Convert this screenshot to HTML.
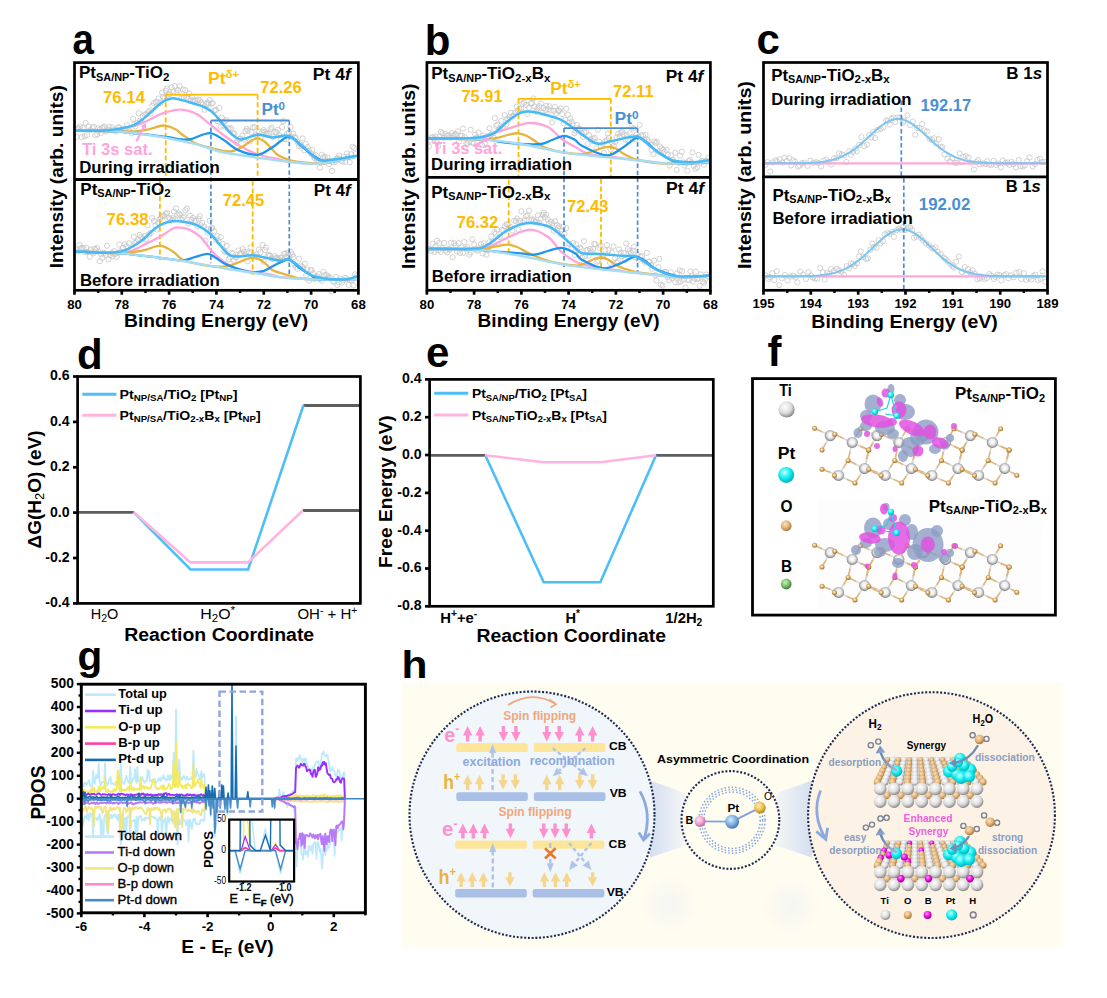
<!DOCTYPE html><html><head><meta charset="utf-8"><title>Figure</title><style>html,body{margin:0;padding:0;background:#fff;width:1107px;height:998px;overflow:hidden}svg{display:block}</style></head><body><svg width="1107" height="998" viewBox="0 0 1107 998" font-family='"Liberation Sans", sans-serif' font-weight="bold"><g fill="none" stroke="#C6C6C6" stroke-width="0.8"><circle cx="76.5" cy="136.8" r="2.6"/><circle cx="77.5" cy="128.3" r="2.6"/><circle cx="78.8" cy="128.6" r="2.6"/><circle cx="80.2" cy="126.6" r="2.6"/><circle cx="81.6" cy="137.3" r="2.6"/><circle cx="82.8" cy="127.8" r="2.6"/><circle cx="84.6" cy="136.3" r="2.6"/><circle cx="85.7" cy="122.9" r="2.6"/><circle cx="86.9" cy="135.1" r="2.6"/><circle cx="88.7" cy="126.6" r="2.6"/><circle cx="90.5" cy="130.2" r="2.6"/><circle cx="92.4" cy="127.5" r="2.6"/><circle cx="93.8" cy="126.7" r="2.6"/><circle cx="95.4" cy="135.2" r="2.6"/><circle cx="97.2" cy="134.3" r="2.6"/><circle cx="98.3" cy="128.2" r="2.6"/><circle cx="99.7" cy="129.8" r="2.6"/><circle cx="101.0" cy="132.8" r="2.6"/><circle cx="102.1" cy="128.1" r="2.6"/><circle cx="103.5" cy="127.5" r="2.6"/><circle cx="104.6" cy="126.4" r="2.6"/><circle cx="106.1" cy="131.5" r="2.6"/><circle cx="107.7" cy="129.7" r="2.6"/><circle cx="109.4" cy="126.9" r="2.6"/><circle cx="110.7" cy="130.3" r="2.6"/><circle cx="112.3" cy="127.4" r="2.6"/><circle cx="113.8" cy="130.0" r="2.6"/><circle cx="115.6" cy="131.5" r="2.6"/><circle cx="116.7" cy="130.1" r="2.6"/><circle cx="118.1" cy="127.3" r="2.6"/><circle cx="119.2" cy="127.6" r="2.6"/><circle cx="120.9" cy="130.2" r="2.6"/><circle cx="122.6" cy="128.7" r="2.6"/><circle cx="124.2" cy="130.5" r="2.6"/><circle cx="125.6" cy="128.8" r="2.6"/><circle cx="126.9" cy="125.3" r="2.6"/><circle cx="128.8" cy="130.2" r="2.6"/><circle cx="129.9" cy="131.3" r="2.6"/><circle cx="131.7" cy="133.1" r="2.6"/><circle cx="133.1" cy="118.9" r="2.6"/><circle cx="134.3" cy="124.3" r="2.6"/><circle cx="135.4" cy="126.4" r="2.6"/><circle cx="136.9" cy="123.4" r="2.6"/><circle cx="138.7" cy="113.2" r="2.6"/><circle cx="140.0" cy="120.7" r="2.6"/><circle cx="141.0" cy="121.8" r="2.6"/><circle cx="142.9" cy="116.3" r="2.6"/><circle cx="144.7" cy="114.5" r="2.6"/><circle cx="146.3" cy="114.3" r="2.6"/><circle cx="148.0" cy="112.3" r="2.6"/><circle cx="149.1" cy="111.2" r="2.6"/><circle cx="150.6" cy="113.5" r="2.6"/><circle cx="152.3" cy="105.8" r="2.6"/><circle cx="153.8" cy="103.1" r="2.6"/><circle cx="155.7" cy="102.1" r="2.6"/><circle cx="157.4" cy="101.7" r="2.6"/><circle cx="158.6" cy="98.5" r="2.6"/><circle cx="160.4" cy="103.1" r="2.6"/><circle cx="162.1" cy="92.7" r="2.6"/><circle cx="163.1" cy="96.7" r="2.6"/><circle cx="164.3" cy="98.1" r="2.6"/><circle cx="165.8" cy="90.7" r="2.6"/><circle cx="166.8" cy="88.6" r="2.6"/><circle cx="168.0" cy="94.5" r="2.6"/><circle cx="169.7" cy="94.1" r="2.6"/><circle cx="171.5" cy="87.3" r="2.6"/><circle cx="173.3" cy="92.0" r="2.6"/><circle cx="174.8" cy="86.1" r="2.6"/><circle cx="176.6" cy="92.5" r="2.6"/><circle cx="178.1" cy="90.0" r="2.6"/><circle cx="179.6" cy="86.3" r="2.6"/><circle cx="181.1" cy="98.4" r="2.6"/><circle cx="182.8" cy="89.6" r="2.6"/><circle cx="183.9" cy="97.7" r="2.6"/><circle cx="185.2" cy="90.2" r="2.6"/><circle cx="186.9" cy="97.5" r="2.6"/><circle cx="187.9" cy="98.8" r="2.6"/><circle cx="189.1" cy="93.7" r="2.6"/><circle cx="190.7" cy="99.6" r="2.6"/><circle cx="191.9" cy="97.1" r="2.6"/><circle cx="193.0" cy="100.6" r="2.6"/><circle cx="194.8" cy="100.7" r="2.6"/><circle cx="196.6" cy="100.4" r="2.6"/><circle cx="198.5" cy="99.5" r="2.6"/><circle cx="200.0" cy="100.4" r="2.6"/><circle cx="201.3" cy="102.6" r="2.6"/><circle cx="202.8" cy="104.5" r="2.6"/><circle cx="204.6" cy="109.7" r="2.6"/><circle cx="206.4" cy="104.0" r="2.6"/><circle cx="207.6" cy="102.6" r="2.6"/><circle cx="208.7" cy="103.7" r="2.6"/><circle cx="209.7" cy="100.1" r="2.6"/><circle cx="211.6" cy="103.8" r="2.6"/><circle cx="212.7" cy="103.1" r="2.6"/><circle cx="214.4" cy="110.6" r="2.6"/><circle cx="215.9" cy="109.9" r="2.6"/><circle cx="217.7" cy="121.2" r="2.6"/><circle cx="219.4" cy="108.0" r="2.6"/><circle cx="220.7" cy="126.6" r="2.6"/><circle cx="221.7" cy="117.5" r="2.6"/><circle cx="223.3" cy="125.6" r="2.6"/><circle cx="224.5" cy="121.2" r="2.6"/><circle cx="226.3" cy="120.0" r="2.6"/><circle cx="228.0" cy="128.4" r="2.6"/><circle cx="229.6" cy="128.6" r="2.6"/><circle cx="231.2" cy="128.3" r="2.6"/><circle cx="233.0" cy="133.5" r="2.6"/><circle cx="234.5" cy="133.6" r="2.6"/><circle cx="236.3" cy="142.6" r="2.6"/><circle cx="237.5" cy="140.3" r="2.6"/><circle cx="239.1" cy="139.0" r="2.6"/><circle cx="240.7" cy="138.7" r="2.6"/><circle cx="242.4" cy="135.5" r="2.6"/><circle cx="244.0" cy="139.8" r="2.6"/><circle cx="245.4" cy="131.1" r="2.6"/><circle cx="246.7" cy="128.8" r="2.6"/><circle cx="248.0" cy="130.7" r="2.6"/><circle cx="249.9" cy="141.4" r="2.6"/><circle cx="251.5" cy="132.0" r="2.6"/><circle cx="252.8" cy="127.5" r="2.6"/><circle cx="254.5" cy="127.2" r="2.6"/><circle cx="255.8" cy="134.9" r="2.6"/><circle cx="257.5" cy="136.6" r="2.6"/><circle cx="259.0" cy="131.7" r="2.6"/><circle cx="260.7" cy="137.3" r="2.6"/><circle cx="262.2" cy="132.1" r="2.6"/><circle cx="263.6" cy="130.0" r="2.6"/><circle cx="265.0" cy="131.7" r="2.6"/><circle cx="266.0" cy="133.7" r="2.6"/><circle cx="267.6" cy="134.0" r="2.6"/><circle cx="269.2" cy="133.2" r="2.6"/><circle cx="270.5" cy="129.2" r="2.6"/><circle cx="271.7" cy="127.6" r="2.6"/><circle cx="273.5" cy="137.1" r="2.6"/><circle cx="275.3" cy="131.8" r="2.6"/><circle cx="276.5" cy="132.3" r="2.6"/><circle cx="277.9" cy="129.8" r="2.6"/><circle cx="279.2" cy="135.3" r="2.6"/><circle cx="280.9" cy="139.1" r="2.6"/><circle cx="282.1" cy="127.0" r="2.6"/><circle cx="283.2" cy="121.1" r="2.6"/><circle cx="284.4" cy="139.0" r="2.6"/><circle cx="285.9" cy="139.4" r="2.6"/><circle cx="287.1" cy="134.0" r="2.6"/><circle cx="288.8" cy="132.6" r="2.6"/><circle cx="290.5" cy="127.2" r="2.6"/><circle cx="291.5" cy="136.7" r="2.6"/><circle cx="293.2" cy="133.5" r="2.6"/><circle cx="294.7" cy="137.2" r="2.6"/><circle cx="295.8" cy="138.1" r="2.6"/><circle cx="297.4" cy="141.8" r="2.6"/><circle cx="299.1" cy="146.2" r="2.6"/><circle cx="300.2" cy="144.3" r="2.6"/><circle cx="301.4" cy="146.0" r="2.6"/><circle cx="302.6" cy="138.4" r="2.6"/><circle cx="304.4" cy="150.2" r="2.6"/><circle cx="305.8" cy="143.9" r="2.6"/><circle cx="307.6" cy="147.0" r="2.6"/><circle cx="309.0" cy="150.6" r="2.6"/><circle cx="310.9" cy="153.3" r="2.6"/><circle cx="312.4" cy="149.9" r="2.6"/><circle cx="313.7" cy="155.8" r="2.6"/><circle cx="314.8" cy="158.4" r="2.6"/><circle cx="315.8" cy="154.9" r="2.6"/><circle cx="317.1" cy="160.0" r="2.6"/><circle cx="318.8" cy="162.3" r="2.6"/><circle cx="319.9" cy="167.7" r="2.6"/><circle cx="321.8" cy="154.7" r="2.6"/><circle cx="323.0" cy="157.3" r="2.6"/><circle cx="324.7" cy="157.0" r="2.6"/><circle cx="326.1" cy="160.3" r="2.6"/><circle cx="327.3" cy="157.4" r="2.6"/><circle cx="329.0" cy="164.1" r="2.6"/><circle cx="330.3" cy="160.8" r="2.6"/><circle cx="332.0" cy="171.0" r="2.6"/><circle cx="333.9" cy="162.4" r="2.6"/><circle cx="335.6" cy="161.6" r="2.6"/><circle cx="336.8" cy="158.7" r="2.6"/><circle cx="338.0" cy="158.2" r="2.6"/><circle cx="339.1" cy="155.6" r="2.6"/><circle cx="340.7" cy="160.7" r="2.6"/><circle cx="342.4" cy="161.7" r="2.6"/><circle cx="343.7" cy="156.9" r="2.6"/><circle cx="345.4" cy="161.9" r="2.6"/><circle cx="347.0" cy="153.5" r="2.6"/><circle cx="348.0" cy="156.7" r="2.6"/><circle cx="349.7" cy="162.3" r="2.6"/><circle cx="351.1" cy="154.2" r="2.6"/><circle cx="352.5" cy="146.8" r="2.6"/><circle cx="354.2" cy="148.0" r="2.6"/><circle cx="355.6" cy="154.1" r="2.6"/></g><g fill="none" stroke="#C6C6C6" stroke-width="0.8"><circle cx="76.5" cy="249.9" r="2.6"/><circle cx="78.0" cy="251.4" r="2.6"/><circle cx="79.4" cy="244.9" r="2.6"/><circle cx="80.6" cy="248.5" r="2.6"/><circle cx="82.1" cy="247.8" r="2.6"/><circle cx="83.7" cy="248.5" r="2.6"/><circle cx="85.2" cy="252.2" r="2.6"/><circle cx="86.3" cy="247.8" r="2.6"/><circle cx="88.0" cy="252.1" r="2.6"/><circle cx="89.8" cy="256.7" r="2.6"/><circle cx="90.9" cy="249.5" r="2.6"/><circle cx="92.3" cy="252.4" r="2.6"/><circle cx="93.4" cy="253.4" r="2.6"/><circle cx="94.6" cy="248.7" r="2.6"/><circle cx="95.7" cy="250.1" r="2.6"/><circle cx="97.1" cy="248.1" r="2.6"/><circle cx="98.3" cy="251.6" r="2.6"/><circle cx="99.7" cy="261.2" r="2.6"/><circle cx="101.1" cy="254.1" r="2.6"/><circle cx="102.3" cy="257.9" r="2.6"/><circle cx="103.9" cy="252.8" r="2.6"/><circle cx="105.7" cy="254.9" r="2.6"/><circle cx="107.0" cy="245.7" r="2.6"/><circle cx="108.4" cy="259.4" r="2.6"/><circle cx="110.1" cy="255.1" r="2.6"/><circle cx="111.6" cy="252.9" r="2.6"/><circle cx="112.6" cy="256.4" r="2.6"/><circle cx="114.0" cy="251.1" r="2.6"/><circle cx="115.0" cy="254.0" r="2.6"/><circle cx="116.7" cy="257.0" r="2.6"/><circle cx="117.9" cy="252.8" r="2.6"/><circle cx="119.2" cy="244.6" r="2.6"/><circle cx="120.3" cy="251.2" r="2.6"/><circle cx="121.7" cy="252.1" r="2.6"/><circle cx="123.0" cy="247.8" r="2.6"/><circle cx="124.8" cy="244.2" r="2.6"/><circle cx="126.4" cy="246.4" r="2.6"/><circle cx="127.9" cy="251.3" r="2.6"/><circle cx="129.0" cy="243.3" r="2.6"/><circle cx="130.4" cy="252.6" r="2.6"/><circle cx="131.8" cy="248.4" r="2.6"/><circle cx="133.7" cy="236.8" r="2.6"/><circle cx="134.8" cy="243.0" r="2.6"/><circle cx="136.4" cy="242.2" r="2.6"/><circle cx="138.0" cy="239.8" r="2.6"/><circle cx="139.6" cy="234.9" r="2.6"/><circle cx="141.2" cy="237.1" r="2.6"/><circle cx="143.0" cy="238.5" r="2.6"/><circle cx="144.6" cy="236.2" r="2.6"/><circle cx="145.8" cy="239.4" r="2.6"/><circle cx="147.6" cy="225.4" r="2.6"/><circle cx="148.9" cy="234.5" r="2.6"/><circle cx="150.7" cy="233.0" r="2.6"/><circle cx="152.2" cy="218.1" r="2.6"/><circle cx="154.0" cy="221.0" r="2.6"/><circle cx="155.5" cy="225.5" r="2.6"/><circle cx="156.9" cy="229.5" r="2.6"/><circle cx="158.2" cy="223.2" r="2.6"/><circle cx="159.4" cy="219.5" r="2.6"/><circle cx="160.4" cy="218.0" r="2.6"/><circle cx="161.9" cy="215.8" r="2.6"/><circle cx="163.0" cy="216.4" r="2.6"/><circle cx="164.3" cy="215.3" r="2.6"/><circle cx="165.7" cy="213.8" r="2.6"/><circle cx="167.2" cy="212.9" r="2.6"/><circle cx="169.0" cy="217.8" r="2.6"/><circle cx="170.2" cy="218.9" r="2.6"/><circle cx="171.9" cy="220.3" r="2.6"/><circle cx="172.9" cy="218.2" r="2.6"/><circle cx="174.0" cy="211.5" r="2.6"/><circle cx="175.1" cy="219.4" r="2.6"/><circle cx="176.1" cy="208.5" r="2.6"/><circle cx="177.2" cy="214.8" r="2.6"/><circle cx="178.8" cy="213.4" r="2.6"/><circle cx="180.0" cy="214.7" r="2.6"/><circle cx="181.5" cy="219.5" r="2.6"/><circle cx="182.8" cy="217.7" r="2.6"/><circle cx="184.2" cy="216.5" r="2.6"/><circle cx="185.4" cy="210.3" r="2.6"/><circle cx="186.9" cy="208.5" r="2.6"/><circle cx="188.3" cy="223.5" r="2.6"/><circle cx="190.0" cy="215.5" r="2.6"/><circle cx="191.7" cy="219.8" r="2.6"/><circle cx="193.0" cy="217.9" r="2.6"/><circle cx="194.5" cy="220.7" r="2.6"/><circle cx="195.8" cy="220.6" r="2.6"/><circle cx="197.6" cy="226.4" r="2.6"/><circle cx="198.6" cy="218.6" r="2.6"/><circle cx="199.7" cy="216.2" r="2.6"/><circle cx="200.8" cy="225.2" r="2.6"/><circle cx="202.2" cy="223.0" r="2.6"/><circle cx="204.0" cy="226.6" r="2.6"/><circle cx="205.6" cy="240.6" r="2.6"/><circle cx="206.8" cy="229.1" r="2.6"/><circle cx="207.9" cy="232.6" r="2.6"/><circle cx="209.6" cy="220.8" r="2.6"/><circle cx="211.2" cy="228.5" r="2.6"/><circle cx="212.4" cy="227.9" r="2.6"/><circle cx="214.2" cy="231.2" r="2.6"/><circle cx="215.7" cy="239.9" r="2.6"/><circle cx="217.4" cy="236.3" r="2.6"/><circle cx="219.1" cy="242.4" r="2.6"/><circle cx="220.8" cy="237.1" r="2.6"/><circle cx="222.6" cy="243.8" r="2.6"/><circle cx="224.2" cy="251.0" r="2.6"/><circle cx="225.5" cy="252.0" r="2.6"/><circle cx="226.7" cy="245.9" r="2.6"/><circle cx="228.6" cy="259.2" r="2.6"/><circle cx="230.1" cy="257.3" r="2.6"/><circle cx="231.5" cy="252.8" r="2.6"/><circle cx="232.7" cy="253.8" r="2.6"/><circle cx="233.9" cy="260.2" r="2.6"/><circle cx="235.5" cy="257.1" r="2.6"/><circle cx="236.6" cy="257.3" r="2.6"/><circle cx="238.4" cy="250.4" r="2.6"/><circle cx="239.9" cy="253.9" r="2.6"/><circle cx="241.1" cy="253.1" r="2.6"/><circle cx="242.7" cy="248.9" r="2.6"/><circle cx="243.8" cy="251.7" r="2.6"/><circle cx="245.0" cy="254.7" r="2.6"/><circle cx="246.6" cy="252.0" r="2.6"/><circle cx="247.7" cy="261.1" r="2.6"/><circle cx="249.2" cy="252.9" r="2.6"/><circle cx="250.7" cy="247.5" r="2.6"/><circle cx="252.5" cy="256.7" r="2.6"/><circle cx="254.3" cy="256.1" r="2.6"/><circle cx="256.1" cy="254.5" r="2.6"/><circle cx="257.2" cy="256.9" r="2.6"/><circle cx="258.7" cy="249.6" r="2.6"/><circle cx="260.5" cy="252.2" r="2.6"/><circle cx="262.3" cy="244.9" r="2.6"/><circle cx="263.7" cy="261.7" r="2.6"/><circle cx="264.9" cy="250.1" r="2.6"/><circle cx="266.0" cy="247.6" r="2.6"/><circle cx="267.8" cy="255.5" r="2.6"/><circle cx="268.9" cy="254.9" r="2.6"/><circle cx="270.0" cy="255.7" r="2.6"/><circle cx="271.7" cy="258.7" r="2.6"/><circle cx="272.8" cy="258.8" r="2.6"/><circle cx="274.6" cy="256.0" r="2.6"/><circle cx="275.9" cy="257.7" r="2.6"/><circle cx="277.3" cy="258.4" r="2.6"/><circle cx="278.7" cy="259.4" r="2.6"/><circle cx="280.3" cy="257.5" r="2.6"/><circle cx="281.8" cy="258.1" r="2.6"/><circle cx="283.1" cy="259.9" r="2.6"/><circle cx="284.1" cy="253.8" r="2.6"/><circle cx="285.3" cy="253.5" r="2.6"/><circle cx="286.6" cy="256.4" r="2.6"/><circle cx="287.7" cy="252.9" r="2.6"/><circle cx="289.5" cy="256.3" r="2.6"/><circle cx="290.9" cy="252.2" r="2.6"/><circle cx="292.2" cy="254.5" r="2.6"/><circle cx="293.4" cy="257.0" r="2.6"/><circle cx="294.5" cy="264.4" r="2.6"/><circle cx="295.8" cy="266.8" r="2.6"/><circle cx="297.6" cy="268.9" r="2.6"/><circle cx="299.1" cy="258.7" r="2.6"/><circle cx="300.4" cy="265.6" r="2.6"/><circle cx="302.2" cy="266.7" r="2.6"/><circle cx="303.3" cy="268.5" r="2.6"/><circle cx="304.9" cy="263.8" r="2.6"/><circle cx="306.2" cy="275.1" r="2.6"/><circle cx="307.3" cy="269.4" r="2.6"/><circle cx="309.0" cy="280.7" r="2.6"/><circle cx="310.6" cy="270.1" r="2.6"/><circle cx="311.7" cy="270.2" r="2.6"/><circle cx="312.8" cy="273.3" r="2.6"/><circle cx="314.1" cy="278.9" r="2.6"/><circle cx="315.4" cy="278.3" r="2.6"/><circle cx="316.6" cy="277.1" r="2.6"/><circle cx="317.7" cy="276.5" r="2.6"/><circle cx="318.8" cy="274.1" r="2.6"/><circle cx="320.1" cy="279.0" r="2.6"/><circle cx="321.8" cy="280.8" r="2.6"/><circle cx="323.3" cy="271.9" r="2.6"/><circle cx="324.5" cy="275.2" r="2.6"/><circle cx="326.3" cy="274.9" r="2.6"/><circle cx="327.4" cy="277.8" r="2.6"/><circle cx="328.6" cy="276.4" r="2.6"/><circle cx="330.1" cy="277.7" r="2.6"/><circle cx="331.3" cy="291.3" r="2.6"/><circle cx="332.8" cy="281.7" r="2.6"/><circle cx="334.3" cy="281.6" r="2.6"/><circle cx="336.0" cy="277.1" r="2.6"/><circle cx="337.3" cy="284.9" r="2.6"/><circle cx="338.8" cy="282.4" r="2.6"/><circle cx="340.2" cy="278.7" r="2.6"/><circle cx="341.9" cy="282.6" r="2.6"/><circle cx="343.3" cy="280.2" r="2.6"/><circle cx="345.2" cy="277.8" r="2.6"/><circle cx="346.8" cy="279.4" r="2.6"/><circle cx="348.6" cy="285.0" r="2.6"/><circle cx="349.8" cy="280.2" r="2.6"/><circle cx="351.6" cy="280.5" r="2.6"/><circle cx="353.5" cy="285.4" r="2.6"/><circle cx="355.0" cy="274.4" r="2.6"/><circle cx="356.5" cy="276.1" r="2.6"/></g><line x1="165.7" y1="94.7" x2="165.7" y2="178.5" stroke="#FFBB00" stroke-width="1.8" stroke-dasharray="5 2.6"/><line x1="257.6" y1="94.7" x2="257.6" y2="178.5" stroke="#FFBB00" stroke-width="1.8" stroke-dasharray="5 2.6"/><line x1="159.9" y1="181" x2="159.9" y2="260.3" stroke="#FFBB00" stroke-width="1.8" stroke-dasharray="5 2.6"/><line x1="252.7" y1="181" x2="252.7" y2="274.7" stroke="#FFBB00" stroke-width="1.8" stroke-dasharray="5 2.6"/><line x1="210.9" y1="120.5" x2="210.9" y2="263.2" stroke="#4A8FD6" stroke-width="1.7" stroke-dasharray="4.5 2.6"/><line x1="289.3" y1="120.5" x2="289.3" y2="274.7" stroke="#4A8FD6" stroke-width="1.7" stroke-dasharray="4.5 2.6"/><path d="M75.8,130.7 C77.1,130.7 81.1,130.7 83.8,130.7 C86.5,130.7 89.1,130.7 91.8,130.7 C94.5,130.8 96.2,131.1 100.0,131.0 C103.8,130.9 107.7,131.5 114.7,130.2 C121.7,128.9 133.9,126.0 141.8,123.2 C149.7,120.5 155.7,116.0 162.0,113.7 C168.3,111.4 174.0,109.6 179.7,109.6 C185.4,109.6 191.0,111.3 196.0,113.7 C201.0,116.1 205.0,120.4 209.5,123.9 C214.0,127.4 217.9,131.0 223.0,134.7 C228.1,138.4 234.2,142.7 240.0,146.0 C245.8,149.3 251.3,152.2 258.0,154.5 C264.7,156.8 275.0,158.3 280.0,159.5 C285.0,160.7 285.3,161.2 288.0,161.7 C290.7,162.2 293.3,162.3 296.0,162.5 C298.7,162.8 301.3,163.1 304.0,163.3 C306.7,163.5 309.3,163.7 312.0,163.8 C314.7,163.8 317.3,163.9 320.0,163.7 C322.7,163.5 325.3,163.1 328.0,162.7 C330.7,162.2 333.3,161.4 336.0,160.9 C338.7,160.3 341.3,159.8 344.0,159.2 C346.7,158.7 349.8,158.0 352.0,157.6 C354.2,157.1 356.2,156.7 357.0,156.5" fill="none" stroke="#FFA5DA" stroke-width="2.3" /><path d="M75.8,130.7 C77.1,130.7 81.1,130.7 83.8,130.7 C86.5,130.7 89.1,130.7 91.8,130.7 C94.5,130.8 92.8,130.9 100.0,131.0 C107.2,131.1 126.7,131.6 135.0,131.3 C143.3,131.0 145.3,130.0 150.0,129.0 C154.7,128.0 159.2,125.5 163.4,125.5 C167.6,125.5 171.8,127.5 175.0,129.0 C178.2,130.5 178.9,132.3 182.4,134.7 C185.9,137.1 191.5,141.3 196.0,143.5 C200.5,145.7 203.8,146.3 209.5,147.6 C215.2,148.9 224.9,151.6 230.3,151.5 C235.7,151.4 238.6,148.7 242.0,147.0 C245.4,145.3 247.9,142.6 250.5,141.2 C253.1,139.8 255.1,138.3 257.4,138.4 C259.7,138.5 262.2,139.9 264.5,141.5 C266.8,143.1 268.8,145.8 271.0,148.0 C273.2,150.2 274.4,152.9 277.8,155.0 C281.2,157.1 284.3,159.0 291.3,160.5 C298.3,162.0 313.9,163.4 320.0,163.8 C326.1,164.2 325.3,163.1 328.0,162.7 C330.7,162.2 333.3,161.4 336.0,160.9 C338.7,160.3 341.3,159.8 344.0,159.2 C346.7,158.7 349.8,158.0 352.0,157.6 C354.2,157.1 356.2,156.7 357.0,156.5" fill="none" stroke="#E6B43C" stroke-width="2.3" /><path d="M75.8,130.7 C77.1,130.7 81.1,130.7 83.8,130.7 C86.5,130.7 89.1,130.7 91.8,130.7 C94.5,130.7 97.1,130.7 99.8,130.8 C102.5,130.8 105.1,130.9 107.8,131.0 C110.5,131.1 113.1,131.2 115.8,131.4 C118.5,131.6 121.1,131.8 123.8,132.0 C126.5,132.3 129.1,132.5 131.8,132.8 C134.5,133.1 136.8,133.4 139.8,133.8 C142.8,134.1 145.0,134.2 150.0,134.8 C155.0,135.4 164.6,136.7 170.0,137.5 C175.4,138.3 178.8,139.3 182.4,139.5 C186.1,139.7 187.4,139.9 191.9,138.8 C196.4,137.7 204.3,133.0 209.5,133.1 C214.7,133.2 218.4,136.8 223.0,139.5 C227.6,142.2 231.4,147.0 237.1,149.6 C242.8,152.2 251.7,155.0 257.4,154.8 C263.0,154.6 265.8,151.3 271.0,148.3 C276.2,145.3 283.8,137.3 288.6,136.7 C293.4,136.1 296.1,141.4 300.0,144.5 C303.9,147.6 308.3,152.3 312.0,155.0 C315.7,157.7 319.0,159.3 322.0,160.5 C325.0,161.7 327.3,162.3 330.0,162.2 C332.7,162.2 335.3,161.0 338.0,160.4 C340.7,159.8 343.3,159.4 346.0,158.8 C348.7,158.3 352.2,157.5 354.0,157.1 C355.8,156.7 356.5,156.6 357.0,156.5" fill="none" stroke="#1E96F0" stroke-width="2.3" /><path d="M75.8,130.7 C82.3,130.8 101.5,130.4 114.7,131.3 C128.0,132.2 141.8,133.8 155.3,136.0 C168.9,138.2 186.9,142.1 196.0,144.2 C205.1,146.3 205.5,147.2 210.0,148.6 C214.5,149.9 215.1,150.8 223.0,152.3 C230.9,153.8 246.5,156.1 257.4,157.7 C268.3,159.3 278.4,160.8 288.6,161.8 C298.8,162.8 309.8,164.1 318.4,163.8 C327.0,163.5 333.6,161.2 340.0,160.0 C346.4,158.8 354.2,157.1 357.0,156.5" fill="none" stroke="#A6DCF4" stroke-width="2.4" /><path d="M75.8,130.6 C79.8,130.6 93.5,131.0 100.0,130.8 C106.5,130.6 108.9,130.6 114.7,129.6 C120.5,128.6 129.4,127.1 135.0,124.6 C140.6,122.1 144.0,118.1 148.5,114.4 C153.0,110.7 158.2,104.9 162.0,102.2 C165.8,99.5 168.6,98.8 171.6,98.4 C174.6,98.0 177.1,99.0 180.0,99.6 C182.9,100.2 186.4,101.4 189.2,102.2 C192.0,103.0 194.5,103.7 197.0,104.5 C199.5,105.3 201.7,105.9 204.0,107.0 C206.3,108.1 208.8,109.3 211.0,111.0 C213.2,112.7 214.9,114.7 217.0,117.0 C219.1,119.3 221.2,122.2 223.5,125.0 C225.8,127.8 228.1,131.1 231.0,133.5 C233.9,135.9 236.8,139.3 241.2,139.5 C245.6,139.7 252.2,135.0 257.4,134.7 C262.6,134.3 267.1,137.2 272.3,137.4 C277.5,137.6 283.2,134.2 288.6,136.0 C294.0,137.8 299.9,144.3 304.9,148.3 C309.9,152.3 313.9,157.9 318.4,159.8 C322.9,161.7 325.6,160.5 332.0,159.8 C338.4,159.1 352.8,156.4 357.0,155.7" fill="none" stroke="#46B9F8" stroke-width="2.5" /><path d="M75.8,251.7 C77.1,251.7 81.1,251.8 83.8,251.9 C86.5,252.0 89.1,252.0 91.8,252.1 C94.5,252.2 96.8,252.2 99.8,252.3 C102.8,252.5 105.1,253.1 110.0,253.0 C114.9,252.9 123.1,253.2 129.1,251.7 C135.0,250.2 140.5,246.4 145.7,243.9 C150.8,241.4 155.4,239.4 160.0,236.8 C164.6,234.2 169.8,230.0 173.2,228.5 C176.6,227.0 177.7,227.4 180.5,227.7 C183.3,227.9 186.6,228.4 190.0,230.0 C193.4,231.6 196.5,233.0 200.7,237.1 C204.9,241.2 209.6,249.4 215.1,254.5 C220.6,259.6 227.6,264.6 233.9,267.5 C240.2,270.4 246.7,270.6 252.7,271.8 C258.7,273.0 265.8,273.7 270.0,274.5 C274.2,275.3 275.3,276.3 278.0,276.8 C280.7,277.4 283.3,277.5 286.0,277.7 C288.7,277.9 291.3,278.1 294.0,278.3 C296.7,278.4 299.3,278.6 302.0,278.7 C304.7,278.9 307.3,279.2 310.0,279.3 C312.7,279.4 315.3,279.5 318.0,279.6 C320.7,279.6 323.3,279.6 326.0,279.6 C328.7,279.6 331.3,279.5 334.0,279.5 C336.7,279.4 339.3,279.4 342.0,279.3 C344.7,279.3 347.5,279.2 350.0,279.1 C352.5,279.1 355.8,279.0 357.0,279.0" fill="none" stroke="#FFA5DA" stroke-width="2.3" /><path d="M75.8,251.7 C77.1,251.7 81.1,251.8 83.8,251.9 C86.5,252.0 89.1,252.0 91.8,252.1 C94.5,252.2 96.8,252.2 99.8,252.3 C102.8,252.5 106.0,252.9 110.0,253.0 C114.0,253.1 118.2,253.2 123.6,252.8 C129.0,252.4 136.3,251.8 142.4,250.6 C148.5,249.4 154.9,245.7 160.0,245.9 C165.1,246.1 169.3,249.3 173.2,251.7 C177.1,254.1 178.1,258.0 183.4,260.3 C188.7,262.6 198.3,264.2 205.0,265.3 C211.7,266.4 218.6,266.9 223.8,266.6 C229.0,266.3 232.5,264.7 236.0,263.5 C239.5,262.3 242.2,260.6 245.0,259.6 C247.8,258.6 250.2,257.7 252.7,257.7 C255.2,257.7 257.6,258.4 260.0,259.6 C262.4,260.8 264.8,263.2 267.0,265.0 C269.2,266.8 269.4,268.7 273.0,270.4 C276.6,272.1 284.3,274.0 288.8,275.4 C293.3,276.8 296.8,277.9 300.0,278.5 C303.2,279.1 305.3,279.0 308.0,279.2 C310.7,279.3 313.3,279.5 316.0,279.5 C318.7,279.6 321.3,279.6 324.0,279.6 C326.7,279.6 329.3,279.5 332.0,279.5 C334.7,279.5 337.3,279.4 340.0,279.4 C342.7,279.3 345.3,279.2 348.0,279.2 C350.7,279.1 354.7,279.0 356.0,279.0" fill="none" stroke="#E6B43C" stroke-width="2.3" /><path d="M75.8,251.7 C77.1,251.7 81.1,251.8 83.8,251.9 C86.5,252.0 89.1,252.0 91.8,252.1 C94.5,252.2 97.1,252.2 99.8,252.3 C102.5,252.4 105.1,252.5 107.8,252.6 C110.5,252.6 113.1,252.7 115.8,252.9 C118.5,253.0 121.1,253.2 123.8,253.4 C126.5,253.7 129.1,254.0 131.8,254.4 C134.5,254.7 137.1,255.1 139.8,255.5 C142.5,255.8 145.1,256.0 147.8,256.3 C150.5,256.6 152.9,256.8 155.8,257.2 C158.7,257.6 160.4,258.0 165.0,258.5 C169.6,259.0 178.4,260.6 183.4,260.3 C188.4,260.1 190.9,258.1 195.0,257.0 C199.1,255.9 204.4,253.6 207.9,253.8 C211.4,254.0 212.9,256.2 216.0,258.0 C219.1,259.8 221.3,262.3 226.7,264.6 C232.1,266.9 242.4,270.7 248.4,271.8 C254.4,272.9 258.4,272.2 262.8,271.1 C267.2,270.0 271.4,266.8 275.0,265.0 C278.6,263.2 282.0,261.1 284.5,260.3 C287.0,259.5 287.6,258.8 290.0,260.0 C292.4,261.2 295.7,265.1 299.0,267.5 C302.3,269.9 306.8,272.6 310.0,274.6 C313.2,276.6 315.3,278.7 318.0,279.6 C320.7,280.4 323.3,279.6 326.0,279.6 C328.7,279.6 331.3,279.5 334.0,279.5 C336.7,279.4 339.3,279.4 342.0,279.3 C344.7,279.3 347.5,279.2 350.0,279.1 C352.5,279.1 355.8,279.0 357.0,279.0" fill="none" stroke="#1E96F0" stroke-width="2.3" /><path d="M75.8,251.7 C82.8,251.9 107.4,252.4 118.1,253.0 C128.8,253.6 133.2,254.7 140.2,255.5 C147.2,256.3 152.8,256.8 160.0,257.7 C167.2,258.6 173.5,259.4 183.4,261.0 C193.3,262.6 207.5,265.4 219.5,267.5 C231.5,269.6 245.5,271.7 255.6,273.3 C265.7,274.9 272.6,276.2 280.0,277.1 C287.4,278.0 293.3,278.2 300.0,278.6 C306.7,279.0 310.5,279.5 320.0,279.6 C329.5,279.7 350.8,279.1 357.0,279.0" fill="none" stroke="#A6DCF4" stroke-width="2.4" /><path d="M75.8,251.5 C81.0,251.7 99.0,253.0 107.0,252.8 C115.0,252.7 118.1,252.4 123.6,250.6 C129.1,248.8 135.6,244.8 140.2,241.7 C144.8,238.6 147.9,234.6 151.2,231.8 C154.5,229.1 156.6,227.0 160.0,225.2 C163.4,223.4 167.6,221.7 171.8,221.2 C176.0,220.7 180.7,221.3 185.0,222.0 C189.3,222.7 193.5,223.6 197.8,225.6 C202.1,227.6 207.1,231.0 210.8,234.2 C214.5,237.4 216.9,241.5 220.0,245.0 C223.1,248.5 226.3,253.3 229.6,255.2 C232.9,257.1 236.2,256.5 240.0,256.5 C243.8,256.5 247.7,254.8 252.7,255.2 C257.7,255.6 265.4,257.9 270.0,258.8 C274.6,259.7 276.8,260.4 280.0,260.5 C283.2,260.6 285.7,258.4 289.0,259.5 C292.3,260.6 296.5,264.5 300.0,267.0 C303.5,269.5 305.8,272.7 310.0,274.6 C314.2,276.5 320.1,277.8 325.1,278.6 C330.1,279.4 335.9,279.6 340.1,279.6 C344.3,279.6 347.2,279.2 350.1,278.6 C353.0,278.0 356.0,276.5 357.2,276.1" fill="none" stroke="#46B9F8" stroke-width="2.5" /><line x1="165.7" y1="94.7" x2="257.6" y2="94.7" stroke="#FFBB00" stroke-width="1.8" /><line x1="210.9" y1="120.5" x2="289.3" y2="120.5" stroke="#4A8FD6" stroke-width="1.8" /><rect x="74.5" y="62.6" width="283.9" height="227.7" fill="none" stroke="#000" stroke-width="2.7"/><line x1="74.5" y1="179.5" x2="358.4" y2="179.5" stroke="#000" stroke-width="2.8" /><line x1="74.5" y1="290.3" x2="74.5" y2="294.7" stroke="#000" stroke-width="2.7" /><text x="74.5" y="308.6" font-size="13.2" text-anchor="middle" >80</text><line x1="121.8" y1="290.3" x2="121.8" y2="294.7" stroke="#000" stroke-width="2.7" /><text x="121.8" y="308.6" font-size="13.2" text-anchor="middle" >78</text><line x1="169.1" y1="290.3" x2="169.1" y2="294.7" stroke="#000" stroke-width="2.7" /><text x="169.1" y="308.6" font-size="13.2" text-anchor="middle" >76</text><line x1="216.4" y1="290.3" x2="216.4" y2="294.7" stroke="#000" stroke-width="2.7" /><text x="216.4" y="308.6" font-size="13.2" text-anchor="middle" >74</text><line x1="263.8" y1="290.3" x2="263.8" y2="294.7" stroke="#000" stroke-width="2.7" /><text x="263.8" y="308.6" font-size="13.2" text-anchor="middle" >72</text><line x1="311.1" y1="290.3" x2="311.1" y2="294.7" stroke="#000" stroke-width="2.7" /><text x="311.1" y="308.6" font-size="13.2" text-anchor="middle" >70</text><line x1="358.4" y1="290.3" x2="358.4" y2="294.7" stroke="#000" stroke-width="2.7" /><text x="358.4" y="308.6" font-size="13.2" text-anchor="middle" >68</text><line x1="98.2" y1="290.3" x2="98.2" y2="292.9" stroke="#000" stroke-width="2.5" /><line x1="145.5" y1="290.3" x2="145.5" y2="292.9" stroke="#000" stroke-width="2.5" /><line x1="192.8" y1="290.3" x2="192.8" y2="292.9" stroke="#000" stroke-width="2.5" /><line x1="240.1" y1="290.3" x2="240.1" y2="292.9" stroke="#000" stroke-width="2.5" /><line x1="287.4" y1="290.3" x2="287.4" y2="292.9" stroke="#000" stroke-width="2.5" /><line x1="334.7" y1="290.3" x2="334.7" y2="292.9" stroke="#000" stroke-width="2.5" /><text x="72.6" y="53.5" font-size="42" textLength="21.4" lengthAdjust="spacingAndGlyphs" >a</text><text x="79" y="78.1" font-size="16.3" textLength="90.5" lengthAdjust="spacingAndGlyphs" >Pt<tspan font-size="10.4" dy="2.6" font-weight="bold">SA/NP</tspan><tspan dy="-2.6">-TiO</tspan><tspan font-size="11" dy="2.6" font-weight="bold">2</tspan></text><text x="350.8" y="79.6" font-size="15.6" text-anchor="end" textLength="38" lengthAdjust="spacingAndGlyphs" >Pt 4<tspan font-style="italic">f</tspan></text><text x="208" y="83.7" font-size="15.6" fill="#FFBB00" textLength="31" lengthAdjust="spacingAndGlyphs" >Pt<tspan font-size="10" dy="-5.4" font-weight="bold">δ+</tspan></text><text x="260.2" y="92.7" font-size="15.6" fill="#FFBB00" textLength="41.5" lengthAdjust="spacingAndGlyphs" >72.26</text><text x="103" y="102.7" font-size="15.6" fill="#FFBB00" textLength="42" lengthAdjust="spacingAndGlyphs" >76.14</text><text x="261.5" y="114.6" font-size="15.6" fill="#4A8FD6" textLength="23.5" lengthAdjust="spacingAndGlyphs" >Pt<tspan font-size="10.5" dy="-5.1" font-weight="bold">0</tspan></text><text x="82" y="154.8" font-size="15.6" fill="#FFA5DA" textLength="70.5" lengthAdjust="spacingAndGlyphs" >Ti 3s sat.</text><line x1="136.3" y1="141.5" x2="144.2" y2="126.5" stroke="#FFA5DA" stroke-width="2.2" /><polygon points="145.8,123.0 146.2,129.0 140.7,126.2" fill="#FFA5DA"/><text x="79.2" y="172.6" font-size="15.6" textLength="140.6" lengthAdjust="spacingAndGlyphs" >During irradiation</text><text x="80.3" y="194.8" font-size="16.3" textLength="90.5" lengthAdjust="spacingAndGlyphs" >Pt<tspan font-size="10.4" dy="2.6" font-weight="bold">SA/NP</tspan><tspan dy="-2.6">-TiO</tspan><tspan font-size="11" dy="2.6" font-weight="bold">2</tspan></text><text x="350.8" y="195.7" font-size="15.6" text-anchor="end" textLength="37" lengthAdjust="spacingAndGlyphs" >Pt 4<tspan font-style="italic">f</tspan></text><text x="222.7" y="205.5" font-size="15.6" fill="#FFBB00" textLength="41.5" lengthAdjust="spacingAndGlyphs" >72.45</text><text x="106.6" y="224.6" font-size="15.6" fill="#FFBB00" textLength="42" lengthAdjust="spacingAndGlyphs" >76.38</text><text x="79.9" y="285.8" font-size="15.6" textLength="140" lengthAdjust="spacingAndGlyphs" >Before irradiation</text><text x="216.1" y="327" font-size="17.8" text-anchor="middle" textLength="184" lengthAdjust="spacingAndGlyphs" >Binding Energy (eV)</text><text x="0" y="0" font-size="17.8" fill="#000" text-anchor="middle" textLength="183" lengthAdjust="spacingAndGlyphs" transform="translate(63.2,176.7) rotate(-90)">Intensity (arb. units)</text><g fill="none" stroke="#C6C6C6" stroke-width="0.8"><circle cx="429.0" cy="146.5" r="2.6"/><circle cx="430.3" cy="140.5" r="2.6"/><circle cx="431.7" cy="137.4" r="2.6"/><circle cx="432.8" cy="137.0" r="2.6"/><circle cx="434.2" cy="138.4" r="2.6"/><circle cx="435.8" cy="136.5" r="2.6"/><circle cx="437.0" cy="142.5" r="2.6"/><circle cx="438.1" cy="146.1" r="2.6"/><circle cx="439.6" cy="136.2" r="2.6"/><circle cx="440.8" cy="131.8" r="2.6"/><circle cx="442.4" cy="133.4" r="2.6"/><circle cx="443.9" cy="137.7" r="2.6"/><circle cx="445.6" cy="134.1" r="2.6"/><circle cx="447.0" cy="135.5" r="2.6"/><circle cx="448.8" cy="135.2" r="2.6"/><circle cx="450.4" cy="137.6" r="2.6"/><circle cx="451.9" cy="133.1" r="2.6"/><circle cx="453.3" cy="135.8" r="2.6"/><circle cx="454.7" cy="134.5" r="2.6"/><circle cx="456.1" cy="134.1" r="2.6"/><circle cx="457.9" cy="131.4" r="2.6"/><circle cx="459.1" cy="141.3" r="2.6"/><circle cx="460.5" cy="135.8" r="2.6"/><circle cx="462.0" cy="135.8" r="2.6"/><circle cx="463.1" cy="128.5" r="2.6"/><circle cx="464.7" cy="137.1" r="2.6"/><circle cx="466.4" cy="143.1" r="2.6"/><circle cx="467.7" cy="143.1" r="2.6"/><circle cx="469.3" cy="141.8" r="2.6"/><circle cx="470.6" cy="129.8" r="2.6"/><circle cx="472.0" cy="142.5" r="2.6"/><circle cx="473.7" cy="143.6" r="2.6"/><circle cx="475.1" cy="134.6" r="2.6"/><circle cx="476.2" cy="138.1" r="2.6"/><circle cx="477.3" cy="138.0" r="2.6"/><circle cx="478.5" cy="132.5" r="2.6"/><circle cx="480.4" cy="138.7" r="2.6"/><circle cx="482.0" cy="145.0" r="2.6"/><circle cx="483.2" cy="135.5" r="2.6"/><circle cx="485.0" cy="143.6" r="2.6"/><circle cx="486.7" cy="138.2" r="2.6"/><circle cx="488.2" cy="136.0" r="2.6"/><circle cx="489.6" cy="128.3" r="2.6"/><circle cx="490.7" cy="134.8" r="2.6"/><circle cx="492.4" cy="133.5" r="2.6"/><circle cx="493.5" cy="137.3" r="2.6"/><circle cx="494.9" cy="118.2" r="2.6"/><circle cx="496.1" cy="125.8" r="2.6"/><circle cx="497.3" cy="124.7" r="2.6"/><circle cx="498.7" cy="129.2" r="2.6"/><circle cx="499.7" cy="129.3" r="2.6"/><circle cx="501.3" cy="120.8" r="2.6"/><circle cx="502.7" cy="126.8" r="2.6"/><circle cx="504.6" cy="115.1" r="2.6"/><circle cx="506.0" cy="124.7" r="2.6"/><circle cx="507.1" cy="118.8" r="2.6"/><circle cx="508.4" cy="119.7" r="2.6"/><circle cx="509.7" cy="117.0" r="2.6"/><circle cx="510.8" cy="112.7" r="2.6"/><circle cx="512.4" cy="116.2" r="2.6"/><circle cx="513.6" cy="115.7" r="2.6"/><circle cx="515.2" cy="112.7" r="2.6"/><circle cx="516.6" cy="106.6" r="2.6"/><circle cx="517.8" cy="110.6" r="2.6"/><circle cx="519.2" cy="109.0" r="2.6"/><circle cx="521.1" cy="108.3" r="2.6"/><circle cx="522.4" cy="103.7" r="2.6"/><circle cx="524.2" cy="102.8" r="2.6"/><circle cx="526.0" cy="104.9" r="2.6"/><circle cx="527.3" cy="113.8" r="2.6"/><circle cx="529.0" cy="107.8" r="2.6"/><circle cx="530.8" cy="103.3" r="2.6"/><circle cx="532.1" cy="103.2" r="2.6"/><circle cx="533.5" cy="98.4" r="2.6"/><circle cx="534.6" cy="106.5" r="2.6"/><circle cx="536.3" cy="111.7" r="2.6"/><circle cx="537.5" cy="108.4" r="2.6"/><circle cx="539.2" cy="106.2" r="2.6"/><circle cx="540.9" cy="103.5" r="2.6"/><circle cx="542.4" cy="112.4" r="2.6"/><circle cx="543.5" cy="108.0" r="2.6"/><circle cx="545.3" cy="110.4" r="2.6"/><circle cx="546.3" cy="105.7" r="2.6"/><circle cx="548.1" cy="109.3" r="2.6"/><circle cx="549.5" cy="106.3" r="2.6"/><circle cx="550.7" cy="110.5" r="2.6"/><circle cx="552.1" cy="122.4" r="2.6"/><circle cx="553.7" cy="110.8" r="2.6"/><circle cx="555.0" cy="106.8" r="2.6"/><circle cx="556.2" cy="113.6" r="2.6"/><circle cx="558.0" cy="110.7" r="2.6"/><circle cx="559.2" cy="110.7" r="2.6"/><circle cx="560.6" cy="108.4" r="2.6"/><circle cx="562.2" cy="114.1" r="2.6"/><circle cx="563.9" cy="123.4" r="2.6"/><circle cx="565.3" cy="119.8" r="2.6"/><circle cx="566.3" cy="108.7" r="2.6"/><circle cx="567.9" cy="114.7" r="2.6"/><circle cx="569.0" cy="122.7" r="2.6"/><circle cx="570.3" cy="118.5" r="2.6"/><circle cx="571.6" cy="121.6" r="2.6"/><circle cx="572.8" cy="124.2" r="2.6"/><circle cx="574.4" cy="133.2" r="2.6"/><circle cx="575.4" cy="130.6" r="2.6"/><circle cx="576.8" cy="125.0" r="2.6"/><circle cx="578.1" cy="128.2" r="2.6"/><circle cx="580.0" cy="129.0" r="2.6"/><circle cx="581.6" cy="132.7" r="2.6"/><circle cx="583.2" cy="137.0" r="2.6"/><circle cx="584.4" cy="132.4" r="2.6"/><circle cx="586.1" cy="131.8" r="2.6"/><circle cx="587.7" cy="144.1" r="2.6"/><circle cx="589.1" cy="135.3" r="2.6"/><circle cx="590.6" cy="139.0" r="2.6"/><circle cx="592.3" cy="140.9" r="2.6"/><circle cx="593.6" cy="138.9" r="2.6"/><circle cx="594.7" cy="137.6" r="2.6"/><circle cx="596.4" cy="148.3" r="2.6"/><circle cx="597.8" cy="129.7" r="2.6"/><circle cx="599.1" cy="141.7" r="2.6"/><circle cx="600.9" cy="146.4" r="2.6"/><circle cx="602.7" cy="143.9" r="2.6"/><circle cx="603.9" cy="153.1" r="2.6"/><circle cx="605.0" cy="141.4" r="2.6"/><circle cx="606.7" cy="140.2" r="2.6"/><circle cx="607.8" cy="133.5" r="2.6"/><circle cx="608.9" cy="138.0" r="2.6"/><circle cx="610.5" cy="149.2" r="2.6"/><circle cx="612.2" cy="142.9" r="2.6"/><circle cx="613.8" cy="145.8" r="2.6"/><circle cx="615.3" cy="141.8" r="2.6"/><circle cx="616.7" cy="137.4" r="2.6"/><circle cx="618.1" cy="133.7" r="2.6"/><circle cx="619.5" cy="136.9" r="2.6"/><circle cx="620.6" cy="132.6" r="2.6"/><circle cx="622.1" cy="132.1" r="2.6"/><circle cx="623.6" cy="134.2" r="2.6"/><circle cx="625.4" cy="139.7" r="2.6"/><circle cx="626.8" cy="135.1" r="2.6"/><circle cx="628.3" cy="140.3" r="2.6"/><circle cx="629.6" cy="133.4" r="2.6"/><circle cx="631.5" cy="127.4" r="2.6"/><circle cx="632.5" cy="137.0" r="2.6"/><circle cx="633.6" cy="128.4" r="2.6"/><circle cx="635.2" cy="139.3" r="2.6"/><circle cx="636.7" cy="134.5" r="2.6"/><circle cx="638.6" cy="136.7" r="2.6"/><circle cx="639.6" cy="124.9" r="2.6"/><circle cx="641.1" cy="135.3" r="2.6"/><circle cx="642.9" cy="135.4" r="2.6"/><circle cx="644.1" cy="139.6" r="2.6"/><circle cx="645.6" cy="134.9" r="2.6"/><circle cx="647.1" cy="139.4" r="2.6"/><circle cx="648.4" cy="141.6" r="2.6"/><circle cx="650.3" cy="144.6" r="2.6"/><circle cx="651.5" cy="149.8" r="2.6"/><circle cx="653.3" cy="154.2" r="2.6"/><circle cx="654.5" cy="141.5" r="2.6"/><circle cx="655.8" cy="143.1" r="2.6"/><circle cx="656.8" cy="141.7" r="2.6"/><circle cx="658.4" cy="151.9" r="2.6"/><circle cx="660.0" cy="146.5" r="2.6"/><circle cx="661.6" cy="148.4" r="2.6"/><circle cx="663.3" cy="149.7" r="2.6"/><circle cx="664.6" cy="151.6" r="2.6"/><circle cx="666.5" cy="150.0" r="2.6"/><circle cx="667.9" cy="154.6" r="2.6"/><circle cx="669.7" cy="165.6" r="2.6"/><circle cx="671.3" cy="155.5" r="2.6"/><circle cx="672.7" cy="159.6" r="2.6"/><circle cx="674.1" cy="161.6" r="2.6"/><circle cx="675.3" cy="152.7" r="2.6"/><circle cx="676.7" cy="169.9" r="2.6"/><circle cx="678.4" cy="162.7" r="2.6"/><circle cx="680.1" cy="155.7" r="2.6"/><circle cx="681.8" cy="151.7" r="2.6"/><circle cx="683.2" cy="162.3" r="2.6"/><circle cx="684.4" cy="165.4" r="2.6"/><circle cx="686.0" cy="163.3" r="2.6"/><circle cx="687.3" cy="170.7" r="2.6"/><circle cx="688.7" cy="161.1" r="2.6"/><circle cx="689.9" cy="160.1" r="2.6"/><circle cx="691.5" cy="162.5" r="2.6"/><circle cx="692.5" cy="152.4" r="2.6"/><circle cx="693.7" cy="165.8" r="2.6"/><circle cx="695.5" cy="168.9" r="2.6"/><circle cx="697.3" cy="167.4" r="2.6"/><circle cx="698.7" cy="154.9" r="2.6"/><circle cx="700.2" cy="162.6" r="2.6"/><circle cx="701.7" cy="160.8" r="2.6"/><circle cx="702.9" cy="161.5" r="2.6"/><circle cx="703.9" cy="164.8" r="2.6"/><circle cx="705.6" cy="161.0" r="2.6"/><circle cx="707.0" cy="161.2" r="2.6"/><circle cx="708.3" cy="157.8" r="2.6"/></g><g fill="none" stroke="#C6C6C6" stroke-width="0.8"><circle cx="429.0" cy="248.8" r="2.6"/><circle cx="430.9" cy="251.0" r="2.6"/><circle cx="432.5" cy="243.6" r="2.6"/><circle cx="434.4" cy="252.0" r="2.6"/><circle cx="435.4" cy="246.5" r="2.6"/><circle cx="437.1" cy="240.7" r="2.6"/><circle cx="438.3" cy="250.3" r="2.6"/><circle cx="439.3" cy="242.9" r="2.6"/><circle cx="440.6" cy="251.8" r="2.6"/><circle cx="442.3" cy="248.2" r="2.6"/><circle cx="444.1" cy="242.9" r="2.6"/><circle cx="445.8" cy="250.5" r="2.6"/><circle cx="447.1" cy="252.4" r="2.6"/><circle cx="448.6" cy="249.0" r="2.6"/><circle cx="449.7" cy="249.6" r="2.6"/><circle cx="451.2" cy="242.7" r="2.6"/><circle cx="452.7" cy="257.2" r="2.6"/><circle cx="454.1" cy="243.2" r="2.6"/><circle cx="455.7" cy="245.5" r="2.6"/><circle cx="457.0" cy="251.5" r="2.6"/><circle cx="458.5" cy="243.3" r="2.6"/><circle cx="460.0" cy="253.0" r="2.6"/><circle cx="461.5" cy="247.4" r="2.6"/><circle cx="463.1" cy="252.8" r="2.6"/><circle cx="464.3" cy="242.0" r="2.6"/><circle cx="466.1" cy="248.7" r="2.6"/><circle cx="467.5" cy="247.2" r="2.6"/><circle cx="469.3" cy="254.7" r="2.6"/><circle cx="470.6" cy="252.5" r="2.6"/><circle cx="472.4" cy="239.3" r="2.6"/><circle cx="474.2" cy="244.5" r="2.6"/><circle cx="475.7" cy="249.2" r="2.6"/><circle cx="476.9" cy="250.7" r="2.6"/><circle cx="478.4" cy="249.5" r="2.6"/><circle cx="479.9" cy="248.2" r="2.6"/><circle cx="481.0" cy="244.0" r="2.6"/><circle cx="482.6" cy="253.4" r="2.6"/><circle cx="483.7" cy="243.2" r="2.6"/><circle cx="484.8" cy="246.5" r="2.6"/><circle cx="486.3" cy="254.7" r="2.6"/><circle cx="488.0" cy="250.4" r="2.6"/><circle cx="489.5" cy="242.1" r="2.6"/><circle cx="491.3" cy="236.3" r="2.6"/><circle cx="492.6" cy="241.7" r="2.6"/><circle cx="494.4" cy="232.4" r="2.6"/><circle cx="495.8" cy="233.8" r="2.6"/><circle cx="497.2" cy="229.7" r="2.6"/><circle cx="498.4" cy="244.0" r="2.6"/><circle cx="499.8" cy="236.9" r="2.6"/><circle cx="501.7" cy="229.9" r="2.6"/><circle cx="503.2" cy="230.4" r="2.6"/><circle cx="504.8" cy="226.1" r="2.6"/><circle cx="506.6" cy="224.2" r="2.6"/><circle cx="508.1" cy="224.7" r="2.6"/><circle cx="509.2" cy="228.5" r="2.6"/><circle cx="510.6" cy="227.1" r="2.6"/><circle cx="512.4" cy="230.6" r="2.6"/><circle cx="514.1" cy="220.7" r="2.6"/><circle cx="516.0" cy="220.8" r="2.6"/><circle cx="517.0" cy="218.5" r="2.6"/><circle cx="518.6" cy="229.6" r="2.6"/><circle cx="520.0" cy="221.0" r="2.6"/><circle cx="521.3" cy="211.3" r="2.6"/><circle cx="522.6" cy="222.3" r="2.6"/><circle cx="524.3" cy="220.6" r="2.6"/><circle cx="526.0" cy="216.1" r="2.6"/><circle cx="527.5" cy="215.2" r="2.6"/><circle cx="529.1" cy="210.7" r="2.6"/><circle cx="531.0" cy="220.4" r="2.6"/><circle cx="532.1" cy="219.4" r="2.6"/><circle cx="533.9" cy="220.3" r="2.6"/><circle cx="535.2" cy="222.1" r="2.6"/><circle cx="536.6" cy="222.3" r="2.6"/><circle cx="537.9" cy="215.3" r="2.6"/><circle cx="539.2" cy="223.1" r="2.6"/><circle cx="540.9" cy="218.7" r="2.6"/><circle cx="542.5" cy="214.8" r="2.6"/><circle cx="543.8" cy="212.9" r="2.6"/><circle cx="545.0" cy="217.4" r="2.6"/><circle cx="546.1" cy="214.7" r="2.6"/><circle cx="547.6" cy="219.3" r="2.6"/><circle cx="549.1" cy="223.6" r="2.6"/><circle cx="550.7" cy="221.7" r="2.6"/><circle cx="552.4" cy="223.3" r="2.6"/><circle cx="553.7" cy="230.8" r="2.6"/><circle cx="555.0" cy="221.3" r="2.6"/><circle cx="556.8" cy="225.1" r="2.6"/><circle cx="558.0" cy="228.1" r="2.6"/><circle cx="559.1" cy="226.2" r="2.6"/><circle cx="560.4" cy="234.1" r="2.6"/><circle cx="561.7" cy="230.2" r="2.6"/><circle cx="562.9" cy="226.7" r="2.6"/><circle cx="564.4" cy="233.7" r="2.6"/><circle cx="566.2" cy="228.1" r="2.6"/><circle cx="567.6" cy="247.8" r="2.6"/><circle cx="569.4" cy="244.1" r="2.6"/><circle cx="571.3" cy="248.8" r="2.6"/><circle cx="573.1" cy="243.0" r="2.6"/><circle cx="574.8" cy="255.0" r="2.6"/><circle cx="576.0" cy="244.4" r="2.6"/><circle cx="577.3" cy="248.4" r="2.6"/><circle cx="578.6" cy="254.2" r="2.6"/><circle cx="579.7" cy="247.5" r="2.6"/><circle cx="580.9" cy="248.7" r="2.6"/><circle cx="582.3" cy="257.7" r="2.6"/><circle cx="583.9" cy="241.2" r="2.6"/><circle cx="585.0" cy="256.3" r="2.6"/><circle cx="586.5" cy="250.2" r="2.6"/><circle cx="587.5" cy="250.0" r="2.6"/><circle cx="588.7" cy="255.7" r="2.6"/><circle cx="590.0" cy="248.9" r="2.6"/><circle cx="591.6" cy="251.7" r="2.6"/><circle cx="593.1" cy="249.2" r="2.6"/><circle cx="594.3" cy="243.9" r="2.6"/><circle cx="595.4" cy="244.2" r="2.6"/><circle cx="597.1" cy="261.8" r="2.6"/><circle cx="598.3" cy="260.7" r="2.6"/><circle cx="599.4" cy="247.8" r="2.6"/><circle cx="600.7" cy="245.7" r="2.6"/><circle cx="602.0" cy="255.3" r="2.6"/><circle cx="603.5" cy="256.3" r="2.6"/><circle cx="605.3" cy="250.3" r="2.6"/><circle cx="607.0" cy="245.1" r="2.6"/><circle cx="608.6" cy="250.2" r="2.6"/><circle cx="610.0" cy="262.9" r="2.6"/><circle cx="611.8" cy="252.5" r="2.6"/><circle cx="613.5" cy="246.4" r="2.6"/><circle cx="615.2" cy="258.2" r="2.6"/><circle cx="616.6" cy="262.4" r="2.6"/><circle cx="617.8" cy="261.1" r="2.6"/><circle cx="619.1" cy="249.5" r="2.6"/><circle cx="620.7" cy="252.5" r="2.6"/><circle cx="622.0" cy="256.4" r="2.6"/><circle cx="623.8" cy="253.0" r="2.6"/><circle cx="625.1" cy="260.1" r="2.6"/><circle cx="626.2" cy="243.5" r="2.6"/><circle cx="627.9" cy="249.2" r="2.6"/><circle cx="629.5" cy="251.0" r="2.6"/><circle cx="631.0" cy="252.9" r="2.6"/><circle cx="632.7" cy="250.6" r="2.6"/><circle cx="633.7" cy="246.9" r="2.6"/><circle cx="635.1" cy="257.4" r="2.6"/><circle cx="636.2" cy="257.5" r="2.6"/><circle cx="637.5" cy="254.9" r="2.6"/><circle cx="638.5" cy="259.8" r="2.6"/><circle cx="640.3" cy="256.5" r="2.6"/><circle cx="642.0" cy="256.1" r="2.6"/><circle cx="643.7" cy="260.7" r="2.6"/><circle cx="645.1" cy="262.7" r="2.6"/><circle cx="646.9" cy="252.9" r="2.6"/><circle cx="648.3" cy="261.6" r="2.6"/><circle cx="649.5" cy="261.5" r="2.6"/><circle cx="651.2" cy="265.2" r="2.6"/><circle cx="652.4" cy="268.7" r="2.6"/><circle cx="654.0" cy="260.6" r="2.6"/><circle cx="655.4" cy="275.2" r="2.6"/><circle cx="656.5" cy="280.5" r="2.6"/><circle cx="658.4" cy="267.1" r="2.6"/><circle cx="659.4" cy="258.9" r="2.6"/><circle cx="661.0" cy="284.7" r="2.6"/><circle cx="662.7" cy="285.6" r="2.6"/><circle cx="664.2" cy="272.0" r="2.6"/><circle cx="665.9" cy="271.8" r="2.6"/><circle cx="667.5" cy="277.0" r="2.6"/><circle cx="669.1" cy="280.3" r="2.6"/><circle cx="670.7" cy="272.4" r="2.6"/><circle cx="672.2" cy="278.3" r="2.6"/><circle cx="673.8" cy="276.1" r="2.6"/><circle cx="675.3" cy="282.3" r="2.6"/><circle cx="677.1" cy="273.4" r="2.6"/><circle cx="678.4" cy="282.3" r="2.6"/><circle cx="679.6" cy="270.4" r="2.6"/><circle cx="680.7" cy="281.5" r="2.6"/><circle cx="682.2" cy="271.1" r="2.6"/><circle cx="683.7" cy="279.7" r="2.6"/><circle cx="685.6" cy="287.7" r="2.6"/><circle cx="687.3" cy="279.7" r="2.6"/><circle cx="689.1" cy="280.3" r="2.6"/><circle cx="690.4" cy="271.3" r="2.6"/><circle cx="691.5" cy="276.1" r="2.6"/><circle cx="693.0" cy="281.5" r="2.6"/><circle cx="694.5" cy="278.7" r="2.6"/><circle cx="695.8" cy="271.7" r="2.6"/><circle cx="697.1" cy="279.2" r="2.6"/><circle cx="698.2" cy="278.3" r="2.6"/><circle cx="699.6" cy="285.9" r="2.6"/><circle cx="700.8" cy="274.4" r="2.6"/><circle cx="702.7" cy="281.5" r="2.6"/><circle cx="703.9" cy="282.6" r="2.6"/><circle cx="705.1" cy="279.7" r="2.6"/><circle cx="706.2" cy="274.5" r="2.6"/><circle cx="707.7" cy="276.6" r="2.6"/></g><line x1="518.5" y1="98.8" x2="518.5" y2="176.3" stroke="#FFBB00" stroke-width="1.8" stroke-dasharray="5 2.6"/><line x1="610.8" y1="98.8" x2="610.8" y2="176.3" stroke="#FFBB00" stroke-width="1.8" stroke-dasharray="5 2.6"/><line x1="508.7" y1="179.8" x2="508.7" y2="253.3" stroke="#FFBB00" stroke-width="1.8" stroke-dasharray="5 2.6"/><line x1="601" y1="178.8" x2="601" y2="268.2" stroke="#FFBB00" stroke-width="1.8" stroke-dasharray="5 2.6"/><line x1="564" y1="128.1" x2="564" y2="266.9" stroke="#4A8FD6" stroke-width="1.7" stroke-dasharray="4.5 2.6"/><line x1="637.6" y1="128.1" x2="637.6" y2="273" stroke="#4A8FD6" stroke-width="1.7" stroke-dasharray="4.5 2.6"/><path d="M428.7,138.6 C430.0,138.6 434.0,138.6 436.7,138.6 C439.4,138.6 442.0,138.6 444.7,138.6 C447.4,138.6 449.3,138.5 452.7,138.6 C456.1,138.7 460.4,139.1 465.0,139.0 C469.6,138.9 474.3,139.2 480.2,137.9 C486.1,136.6 493.7,133.3 500.5,131.1 C507.3,128.9 515.7,125.9 520.9,124.6 C526.1,123.2 527.2,122.6 531.7,123.0 C536.2,123.4 543.0,124.3 548.0,127.0 C553.0,129.7 557.5,135.9 562.0,139.2 C566.5,142.5 570.5,144.2 575.0,146.7 C579.5,149.2 582.2,152.3 589.1,154.1 C596.0,155.9 607.7,156.4 616.2,157.5 C624.7,158.6 634.7,159.8 640.0,160.5 C645.3,161.2 645.3,161.2 648.0,161.5 C650.7,161.9 653.3,162.2 656.0,162.5 C658.7,162.8 661.3,163.1 664.0,163.3 C666.7,163.5 669.3,163.6 672.0,163.6 C674.7,163.7 677.3,163.6 680.0,163.6 C682.7,163.5 685.3,163.4 688.0,163.3 C690.7,163.2 693.3,163.1 696.0,163.0 C698.7,162.8 701.8,162.6 704.0,162.5 C706.2,162.4 708.2,162.3 709.0,162.3" fill="none" stroke="#FFA5DA" stroke-width="2.3" /><path d="M428.7,138.6 C430.0,138.6 434.0,138.6 436.7,138.6 C439.4,138.6 442.0,138.6 444.7,138.6 C447.4,138.6 449.3,138.5 452.7,138.6 C456.1,138.7 459.3,138.9 465.0,139.0 C470.7,139.1 481.2,139.5 487.0,139.2 C492.8,138.9 496.2,138.0 500.0,137.2 C503.8,136.4 507.0,135.0 510.0,134.3 C513.0,133.7 515.4,133.1 518.1,133.3 C520.8,133.5 523.3,134.3 526.0,135.5 C528.7,136.7 531.9,138.8 534.4,140.5 C536.9,142.2 538.7,144.1 541.0,145.5 C543.3,146.9 544.6,147.6 548.0,148.7 C551.4,149.8 555.8,151.2 561.5,152.1 C567.2,153.0 577.2,154.2 582.3,154.1 C587.4,154.0 588.7,152.5 592.0,151.5 C595.3,150.5 599.1,148.8 602.0,148.0 C604.9,147.2 607.1,146.7 609.4,146.8 C611.7,146.9 613.6,147.3 616.0,148.5 C618.4,149.7 620.6,152.2 624.0,154.0 C627.4,155.8 631.0,158.1 636.5,159.6 C642.0,161.1 649.6,162.3 656.9,163.0 C664.1,163.7 674.8,163.7 680.0,163.8 C685.2,163.9 685.3,163.5 688.0,163.3 C690.7,163.2 693.3,163.1 696.0,163.0 C698.7,162.8 701.8,162.6 704.0,162.5 C706.2,162.4 708.2,162.3 709.0,162.3" fill="none" stroke="#E6B43C" stroke-width="2.3" /><path d="M428.7,138.6 C430.0,138.6 434.0,138.6 436.7,138.6 C439.4,138.6 442.0,138.6 444.7,138.6 C447.4,138.6 450.0,138.6 452.7,138.6 C455.4,138.6 458.0,138.6 460.7,138.7 C463.4,138.7 466.0,138.7 468.7,138.8 C471.4,138.8 474.0,138.9 476.7,139.0 C479.4,139.1 482.0,139.3 484.7,139.5 C487.4,139.7 490.1,139.8 492.7,140.2 C495.2,140.6 495.3,141.2 500.0,141.8 C504.7,142.4 514.0,143.6 520.9,144.0 C527.8,144.4 536.0,144.7 541.2,144.0 C546.4,143.3 548.2,141.4 552.0,140.0 C555.8,138.6 560.4,135.8 564.2,135.8 C568.0,135.8 572.0,138.2 575.0,139.9 C578.0,141.6 577.0,143.4 582.3,146.0 C587.6,148.6 599.9,155.3 606.7,155.5 C613.5,155.7 618.0,150.3 623.0,147.4 C628.0,144.5 632.8,139.0 636.5,137.9 C640.2,136.8 641.6,138.8 645.0,141.0 C648.4,143.2 652.7,148.3 656.9,151.4 C661.1,154.5 666.8,157.6 670.4,159.6 C674.0,161.6 675.7,163.0 678.4,163.6 C681.1,164.3 683.7,163.5 686.4,163.4 C689.1,163.3 691.7,163.2 694.4,163.0 C697.1,162.9 700.0,162.7 702.4,162.6 C704.8,162.5 707.9,162.4 709.0,162.3" fill="none" stroke="#1E96F0" stroke-width="2.3" /><path d="M428.7,138.6 C437.3,138.7 464.8,138.3 480.2,139.2 C495.6,140.1 507.3,141.8 520.9,144.0 C534.4,146.2 547.9,149.9 561.5,152.1 C575.1,154.2 590.2,155.6 602.7,156.9 C615.2,158.2 625.2,159.1 636.5,160.2 C647.8,161.3 658.3,163.2 670.4,163.6 C682.5,163.9 702.6,162.5 709.0,162.3" fill="none" stroke="#A6DCF4" stroke-width="2.4" /><path d="M428.7,138.6 C433.9,138.6 451.4,138.7 460.0,138.5 C468.6,138.3 474.6,138.1 480.2,137.2 C485.8,136.3 489.3,135.8 493.8,133.2 C498.3,130.6 503.4,124.7 507.3,121.6 C511.2,118.5 513.9,116.2 517.0,114.5 C520.1,112.8 523.0,112.0 526.0,111.6 C529.0,111.2 531.3,111.5 535.0,112.2 C538.7,112.9 543.5,114.2 548.0,115.5 C552.5,116.8 557.4,117.9 562.0,120.3 C566.6,122.7 570.0,126.0 575.6,129.8 C581.2,133.6 590.0,141.4 595.9,143.3 C601.8,145.2 604.0,142.4 610.8,141.3 C617.6,140.2 630.0,135.7 636.5,136.5 C643.0,137.3 644.5,142.2 650.1,146.0 C655.8,149.8 663.6,156.9 670.4,159.6 C677.2,162.3 684.3,162.2 690.7,162.3 C697.1,162.4 706.0,160.5 709.0,160.2" fill="none" stroke="#46B9F8" stroke-width="2.5" /><path d="M428.7,249.0 C430.0,249.0 434.0,249.0 436.7,249.0 C439.4,249.0 442.0,249.0 444.7,249.0 C447.4,249.0 449.3,249.0 452.7,249.1 C456.1,249.2 459.3,249.7 465.0,249.5 C470.7,249.3 479.9,249.9 487.0,247.9 C494.1,245.9 500.1,240.8 507.3,237.7 C514.5,234.6 523.5,229.7 530.3,229.6 C537.1,229.5 542.8,233.3 548.0,237.0 C553.2,240.7 557.0,247.9 561.5,252.0 C566.0,256.1 571.5,259.4 575.0,261.4 C578.5,263.4 577.7,263.0 582.3,264.1 C586.9,265.2 596.4,267.1 602.7,268.2 C609.0,269.3 615.8,269.8 620.0,270.5 C624.2,271.2 625.3,271.8 628.0,272.2 C630.7,272.6 633.3,272.6 636.0,272.9 C638.7,273.2 641.3,273.4 644.0,273.7 C646.7,274.0 649.3,274.3 652.0,274.6 C654.7,274.9 657.3,275.2 660.0,275.5 C662.7,275.8 665.3,276.2 668.0,276.4 C670.7,276.6 673.3,276.8 676.0,277.0 C678.7,277.1 681.3,277.1 684.0,277.0 C686.7,277.0 689.3,276.9 692.0,276.7 C694.7,276.6 697.3,276.4 700.0,276.3 C702.7,276.1 706.7,275.8 708.0,275.7" fill="none" stroke="#FFA5DA" stroke-width="2.3" /><path d="M428.7,249.0 C430.0,249.0 434.0,249.0 436.7,249.0 C439.4,249.0 442.0,249.0 444.7,249.0 C447.4,249.0 449.3,249.0 452.7,249.1 C456.1,249.2 460.0,249.6 465.0,249.6 C470.0,249.6 477.7,249.3 482.9,248.8 C488.1,248.3 491.9,247.1 496.0,246.4 C500.1,245.7 503.8,244.5 507.3,244.6 C510.8,244.7 513.6,245.7 517.0,247.0 C520.4,248.3 522.4,250.3 527.6,252.6 C532.8,254.9 540.1,258.7 548.0,260.8 C555.9,262.9 568.7,265.1 575.0,265.5 C581.3,265.9 582.8,264.1 586.0,263.0 C589.2,261.9 591.5,259.9 594.0,259.0 C596.5,258.1 599.0,257.4 601.3,257.5 C603.6,257.6 605.7,258.3 608.0,259.5 C610.3,260.7 612.5,263.1 615.0,264.5 C617.5,265.9 619.2,266.9 623.0,268.2 C626.8,269.5 631.7,271.2 637.9,272.3 C644.1,273.4 655.0,274.3 660.0,275.0 C665.0,275.7 665.3,276.1 668.0,276.4 C670.7,276.7 673.3,276.8 676.0,277.0 C678.7,277.1 681.3,277.1 684.0,277.0 C686.7,277.0 689.3,276.9 692.0,276.7 C694.7,276.6 697.3,276.4 700.0,276.3 C702.7,276.1 706.7,275.8 708.0,275.7" fill="none" stroke="#E6B43C" stroke-width="2.3" /><path d="M428.7,249.0 C430.0,249.0 434.0,249.0 436.7,249.0 C439.4,249.0 442.0,249.0 444.7,249.0 C447.4,249.0 450.0,249.1 452.7,249.1 C455.4,249.1 458.0,249.1 460.7,249.2 C463.4,249.2 466.0,249.3 468.7,249.3 C471.4,249.4 474.0,249.5 476.7,249.7 C479.4,249.8 482.0,250.0 484.7,250.3 C487.4,250.6 490.1,250.9 492.7,251.2 C495.2,251.5 495.3,251.7 500.0,252.0 C504.7,252.3 515.2,252.9 520.9,253.3 C526.6,253.8 529.9,255.1 534.4,254.7 C538.9,254.3 543.5,252.1 548.0,251.0 C552.5,249.9 557.0,247.5 561.5,247.9 C566.0,248.3 571.5,251.3 575.0,253.3 C578.5,255.3 577.7,257.6 582.3,260.1 C586.9,262.6 596.6,267.5 602.7,268.2 C608.8,268.9 613.5,266.0 618.9,264.1 C624.3,262.2 630.9,257.2 635.2,256.7 C639.6,256.2 641.4,258.9 645.0,261.0 C648.6,263.1 651.5,267.1 656.9,269.6 C662.3,272.2 672.5,275.1 677.2,276.3 C681.9,277.5 682.5,276.9 685.2,277.0 C687.9,277.1 690.5,276.8 693.2,276.7 C695.9,276.5 698.6,276.3 701.2,276.2 C703.8,276.0 707.7,275.8 709.0,275.7" fill="none" stroke="#1E96F0" stroke-width="2.3" /><path d="M428.7,249.0 C437.3,249.2 464.8,248.7 480.2,249.9 C495.6,251.1 507.3,253.6 520.9,256.0 C534.4,258.4 547.9,261.8 561.5,264.1 C575.1,266.4 589.1,268.0 602.7,269.6 C616.3,271.2 630.9,272.4 643.3,273.6 C655.7,274.8 666.2,276.6 677.2,277.0 C688.2,277.4 703.7,275.9 709.0,275.7" fill="none" stroke="#A6DCF4" stroke-width="2.4" /><path d="M428.7,248.6 C436.1,248.6 463.7,249.2 473.4,248.6 C483.1,248.0 481.4,248.2 487.0,245.2 C492.6,242.1 500.8,234.0 507.3,230.3 C513.9,226.6 519.5,223.9 526.3,223.2 C533.1,222.5 542.1,224.1 548.0,226.2 C553.9,228.3 557.0,232.1 561.5,235.7 C566.0,239.3 571.5,245.0 575.0,247.9 C578.5,250.8 577.9,252.3 582.3,253.3 C586.7,254.3 594.5,253.6 601.3,254.0 C608.1,254.4 617.2,255.6 623.0,256.0 C628.8,256.4 630.1,254.4 635.8,256.7 C641.4,259.0 650.0,266.3 656.9,269.6 C663.8,272.9 668.5,275.3 677.2,276.3 C685.9,277.3 703.7,275.8 709.0,275.7" fill="none" stroke="#46B9F8" stroke-width="2.5" /><line x1="518.5" y1="98.8" x2="610.8" y2="98.8" stroke="#FFBB00" stroke-width="1.8" /><line x1="564" y1="128.1" x2="637.6" y2="128.1" stroke="#4A8FD6" stroke-width="1.8" /><rect x="426.9" y="62.5" width="283.5" height="227.8" fill="none" stroke="#000" stroke-width="2.7"/><line x1="426.9" y1="177.3" x2="710.4" y2="177.3" stroke="#000" stroke-width="2.8" /><line x1="426.9" y1="290.3" x2="426.9" y2="294.7" stroke="#000" stroke-width="2.7" /><text x="426.9" y="308.6" font-size="13.2" text-anchor="middle" >80</text><line x1="474.1" y1="290.3" x2="474.1" y2="294.7" stroke="#000" stroke-width="2.7" /><text x="474.1" y="308.6" font-size="13.2" text-anchor="middle" >78</text><line x1="521.4" y1="290.3" x2="521.4" y2="294.7" stroke="#000" stroke-width="2.7" /><text x="521.4" y="308.6" font-size="13.2" text-anchor="middle" >76</text><line x1="568.6" y1="290.3" x2="568.6" y2="294.7" stroke="#000" stroke-width="2.7" /><text x="568.6" y="308.6" font-size="13.2" text-anchor="middle" >74</text><line x1="615.9" y1="290.3" x2="615.9" y2="294.7" stroke="#000" stroke-width="2.7" /><text x="615.9" y="308.6" font-size="13.2" text-anchor="middle" >72</text><line x1="663.1" y1="290.3" x2="663.1" y2="294.7" stroke="#000" stroke-width="2.7" /><text x="663.1" y="308.6" font-size="13.2" text-anchor="middle" >70</text><line x1="710.4" y1="290.3" x2="710.4" y2="294.7" stroke="#000" stroke-width="2.7" /><text x="710.4" y="308.6" font-size="13.2" text-anchor="middle" >68</text><line x1="450.5" y1="290.3" x2="450.5" y2="292.9" stroke="#000" stroke-width="2.5" /><line x1="497.8" y1="290.3" x2="497.8" y2="292.9" stroke="#000" stroke-width="2.5" /><line x1="545" y1="290.3" x2="545" y2="292.9" stroke="#000" stroke-width="2.5" /><line x1="592.3" y1="290.3" x2="592.3" y2="292.9" stroke="#000" stroke-width="2.5" /><line x1="639.5" y1="290.3" x2="639.5" y2="292.9" stroke="#000" stroke-width="2.5" /><line x1="686.8" y1="290.3" x2="686.8" y2="292.9" stroke="#000" stroke-width="2.5" /><text x="424.7" y="54.8" font-size="42" >b</text><text x="431.3" y="79" font-size="16.3" textLength="119" lengthAdjust="spacingAndGlyphs" >Pt<tspan font-size="10.4" dy="2.6" font-weight="bold">SA/NP</tspan><tspan dy="-2.6">-TiO</tspan><tspan font-size="11" dy="2.6" font-weight="bold">2-x</tspan><tspan dy="-2.6">B</tspan><tspan font-size="11" dy="2.6" font-weight="bold">x</tspan></text><text x="703.3" y="82" font-size="15.6" text-anchor="end" textLength="37.5" lengthAdjust="spacingAndGlyphs" >Pt 4<tspan font-style="italic">f</tspan></text><text x="550.3" y="93.7" font-size="15.6" fill="#FFBB00" textLength="30.5" lengthAdjust="spacingAndGlyphs" >Pt<tspan font-size="10" dy="-5.4" font-weight="bold">δ+</tspan></text><text x="461.5" y="102.4" font-size="15.6" fill="#FFBB00" textLength="41" lengthAdjust="spacingAndGlyphs" >75.91</text><text x="613.1" y="96.6" font-size="15.6" fill="#FFBB00" textLength="40.5" lengthAdjust="spacingAndGlyphs" >72.11</text><text x="614.5" y="123.7" font-size="15.6" fill="#4A8FD6" textLength="24" lengthAdjust="spacingAndGlyphs" >Pt<tspan font-size="10.5" dy="-5.1" font-weight="bold">0</tspan></text><text x="432.3" y="154.1" font-size="15.6" fill="#FFA5DA" textLength="70" lengthAdjust="spacingAndGlyphs" >Ti 3s sat.</text><line x1="473.4" y1="146" x2="485" y2="140.2" stroke="#FFA5DA" stroke-width="2.2" /><polygon points="489.7,137.9 486.4,142.9 483.7,137.5" fill="#FFA5DA"/><text x="431.1" y="170.4" font-size="15.6" textLength="140.8" lengthAdjust="spacingAndGlyphs" >During irradiation</text><text x="431.3" y="197.7" font-size="16.3" textLength="119" lengthAdjust="spacingAndGlyphs" >Pt<tspan font-size="10.4" dy="2.6" font-weight="bold">SA/NP</tspan><tspan dy="-2.6">-TiO</tspan><tspan font-size="11" dy="2.6" font-weight="bold">2-x</tspan><tspan dy="-2.6">B</tspan><tspan font-size="11" dy="2.6" font-weight="bold">x</tspan></text><text x="704" y="194.4" font-size="15.6" text-anchor="end" textLength="38" lengthAdjust="spacingAndGlyphs" >Pt 4<tspan font-style="italic">f</tspan></text><text x="567" y="212.4" font-size="15.6" fill="#FFBB00" textLength="41.5" lengthAdjust="spacingAndGlyphs" >72.43</text><text x="456.8" y="228.2" font-size="15.6" fill="#FFBB00" textLength="41.5" lengthAdjust="spacingAndGlyphs" >76.32</text><text x="431.8" y="282.2" font-size="15.6" textLength="140" lengthAdjust="spacingAndGlyphs" >Before irradiation</text><text x="568.6" y="327" font-size="17.8" text-anchor="middle" textLength="182" lengthAdjust="spacingAndGlyphs" >Binding Energy (eV)</text><text x="0" y="0" font-size="17.8" fill="#000" text-anchor="middle" textLength="185.5" lengthAdjust="spacingAndGlyphs" transform="translate(414.6,176.3) rotate(-90)">Intensity (arb. units)</text><g fill="none" stroke="#C6C6C6" stroke-width="0.8"><circle cx="765.5" cy="164.8" r="2.6"/><circle cx="767.4" cy="162.2" r="2.6"/><circle cx="770.3" cy="171.6" r="2.6"/><circle cx="772.9" cy="162.4" r="2.6"/><circle cx="775.3" cy="160.2" r="2.6"/><circle cx="777.0" cy="161.3" r="2.6"/><circle cx="779.6" cy="159.2" r="2.6"/><circle cx="782.4" cy="162.6" r="2.6"/><circle cx="784.4" cy="157.6" r="2.6"/><circle cx="786.9" cy="160.9" r="2.6"/><circle cx="789.3" cy="158.1" r="2.6"/><circle cx="791.3" cy="165.4" r="2.6"/><circle cx="793.3" cy="160.3" r="2.6"/><circle cx="795.1" cy="161.8" r="2.6"/><circle cx="798.1" cy="166.6" r="2.6"/><circle cx="799.7" cy="165.6" r="2.6"/><circle cx="802.1" cy="163.1" r="2.6"/><circle cx="804.6" cy="162.7" r="2.6"/><circle cx="807.6" cy="165.7" r="2.6"/><circle cx="810.4" cy="160.7" r="2.6"/><circle cx="813.3" cy="162.7" r="2.6"/><circle cx="816.2" cy="162.1" r="2.6"/><circle cx="818.4" cy="163.0" r="2.6"/><circle cx="821.1" cy="166.5" r="2.6"/><circle cx="823.3" cy="160.7" r="2.6"/><circle cx="826.3" cy="159.6" r="2.6"/><circle cx="828.8" cy="161.7" r="2.6"/><circle cx="831.3" cy="164.6" r="2.6"/><circle cx="834.0" cy="158.3" r="2.6"/><circle cx="836.3" cy="158.4" r="2.6"/><circle cx="839.1" cy="153.3" r="2.6"/><circle cx="841.8" cy="154.3" r="2.6"/><circle cx="843.9" cy="155.3" r="2.6"/><circle cx="846.3" cy="162.0" r="2.6"/><circle cx="849.2" cy="151.2" r="2.6"/><circle cx="850.9" cy="154.8" r="2.6"/><circle cx="853.1" cy="152.0" r="2.6"/><circle cx="855.2" cy="148.5" r="2.6"/><circle cx="856.8" cy="151.3" r="2.6"/><circle cx="859.1" cy="145.1" r="2.6"/><circle cx="861.4" cy="137.1" r="2.6"/><circle cx="864.3" cy="146.1" r="2.6"/><circle cx="867.1" cy="144.5" r="2.6"/><circle cx="869.1" cy="135.0" r="2.6"/><circle cx="871.2" cy="137.4" r="2.6"/><circle cx="873.3" cy="131.9" r="2.6"/><circle cx="875.0" cy="138.1" r="2.6"/><circle cx="877.9" cy="129.8" r="2.6"/><circle cx="880.8" cy="128.8" r="2.6"/><circle cx="883.4" cy="127.0" r="2.6"/><circle cx="886.0" cy="120.3" r="2.6"/><circle cx="887.9" cy="121.0" r="2.6"/><circle cx="889.8" cy="124.6" r="2.6"/><circle cx="891.5" cy="118.5" r="2.6"/><circle cx="893.7" cy="117.5" r="2.6"/><circle cx="895.4" cy="121.9" r="2.6"/><circle cx="897.4" cy="117.6" r="2.6"/><circle cx="900.1" cy="117.5" r="2.6"/><circle cx="902.9" cy="122.4" r="2.6"/><circle cx="904.5" cy="120.8" r="2.6"/><circle cx="907.5" cy="115.4" r="2.6"/><circle cx="910.2" cy="125.0" r="2.6"/><circle cx="912.8" cy="121.6" r="2.6"/><circle cx="915.3" cy="134.8" r="2.6"/><circle cx="917.2" cy="128.0" r="2.6"/><circle cx="919.3" cy="127.9" r="2.6"/><circle cx="922.2" cy="124.1" r="2.6"/><circle cx="924.6" cy="130.4" r="2.6"/><circle cx="927.0" cy="131.5" r="2.6"/><circle cx="929.4" cy="138.7" r="2.6"/><circle cx="932.1" cy="139.9" r="2.6"/><circle cx="934.3" cy="138.3" r="2.6"/><circle cx="936.3" cy="143.6" r="2.6"/><circle cx="938.7" cy="139.2" r="2.6"/><circle cx="940.6" cy="147.0" r="2.6"/><circle cx="942.4" cy="147.1" r="2.6"/><circle cx="944.5" cy="154.3" r="2.6"/><circle cx="947.5" cy="158.6" r="2.6"/><circle cx="949.9" cy="161.5" r="2.6"/><circle cx="952.5" cy="158.2" r="2.6"/><circle cx="954.9" cy="162.8" r="2.6"/><circle cx="957.0" cy="162.8" r="2.6"/><circle cx="959.7" cy="153.3" r="2.6"/><circle cx="961.7" cy="162.3" r="2.6"/><circle cx="963.4" cy="156.8" r="2.6"/><circle cx="965.8" cy="156.0" r="2.6"/><circle cx="968.5" cy="157.4" r="2.6"/><circle cx="971.3" cy="162.9" r="2.6"/><circle cx="973.9" cy="169.5" r="2.6"/><circle cx="976.3" cy="162.0" r="2.6"/><circle cx="978.1" cy="160.1" r="2.6"/><circle cx="979.9" cy="164.4" r="2.6"/><circle cx="982.8" cy="163.4" r="2.6"/><circle cx="985.4" cy="164.0" r="2.6"/><circle cx="987.2" cy="161.2" r="2.6"/><circle cx="989.1" cy="164.7" r="2.6"/><circle cx="991.2" cy="164.7" r="2.6"/><circle cx="993.6" cy="160.7" r="2.6"/><circle cx="996.3" cy="164.8" r="2.6"/><circle cx="998.5" cy="163.5" r="2.6"/><circle cx="1000.8" cy="167.4" r="2.6"/><circle cx="1002.8" cy="160.5" r="2.6"/><circle cx="1005.5" cy="162.8" r="2.6"/><circle cx="1007.7" cy="162.5" r="2.6"/><circle cx="1009.5" cy="164.9" r="2.6"/><circle cx="1011.6" cy="161.9" r="2.6"/><circle cx="1013.5" cy="164.1" r="2.6"/><circle cx="1016.0" cy="167.2" r="2.6"/><circle cx="1018.8" cy="159.9" r="2.6"/><circle cx="1020.5" cy="166.4" r="2.6"/><circle cx="1022.8" cy="166.4" r="2.6"/><circle cx="1024.7" cy="165.4" r="2.6"/><circle cx="1027.2" cy="161.2" r="2.6"/><circle cx="1029.6" cy="157.5" r="2.6"/><circle cx="1032.6" cy="166.5" r="2.6"/><circle cx="1035.1" cy="164.0" r="2.6"/><circle cx="1037.3" cy="159.8" r="2.6"/><circle cx="1040.0" cy="158.8" r="2.6"/><circle cx="1041.9" cy="162.1" r="2.6"/><circle cx="1044.4" cy="161.8" r="2.6"/></g><g fill="none" stroke="#C6C6C6" stroke-width="0.8"><circle cx="765.5" cy="275.2" r="2.6"/><circle cx="768.2" cy="278.8" r="2.6"/><circle cx="769.9" cy="277.0" r="2.6"/><circle cx="772.3" cy="273.2" r="2.6"/><circle cx="774.4" cy="280.1" r="2.6"/><circle cx="776.7" cy="271.1" r="2.6"/><circle cx="779.3" cy="285.2" r="2.6"/><circle cx="781.8" cy="278.3" r="2.6"/><circle cx="784.8" cy="275.1" r="2.6"/><circle cx="787.6" cy="280.5" r="2.6"/><circle cx="790.3" cy="276.5" r="2.6"/><circle cx="793.0" cy="275.7" r="2.6"/><circle cx="795.7" cy="277.4" r="2.6"/><circle cx="797.4" cy="282.4" r="2.6"/><circle cx="800.4" cy="271.6" r="2.6"/><circle cx="803.0" cy="274.6" r="2.6"/><circle cx="806.0" cy="278.9" r="2.6"/><circle cx="808.4" cy="272.0" r="2.6"/><circle cx="811.0" cy="275.3" r="2.6"/><circle cx="813.0" cy="277.6" r="2.6"/><circle cx="815.1" cy="278.6" r="2.6"/><circle cx="817.3" cy="278.7" r="2.6"/><circle cx="820.3" cy="268.1" r="2.6"/><circle cx="822.9" cy="272.2" r="2.6"/><circle cx="824.6" cy="279.5" r="2.6"/><circle cx="827.2" cy="272.6" r="2.6"/><circle cx="829.3" cy="273.6" r="2.6"/><circle cx="831.3" cy="269.0" r="2.6"/><circle cx="833.9" cy="271.1" r="2.6"/><circle cx="836.7" cy="268.7" r="2.6"/><circle cx="839.2" cy="270.2" r="2.6"/><circle cx="841.6" cy="271.9" r="2.6"/><circle cx="843.9" cy="274.7" r="2.6"/><circle cx="846.7" cy="266.2" r="2.6"/><circle cx="849.2" cy="268.3" r="2.6"/><circle cx="850.9" cy="263.3" r="2.6"/><circle cx="852.8" cy="264.1" r="2.6"/><circle cx="854.6" cy="265.9" r="2.6"/><circle cx="857.1" cy="263.1" r="2.6"/><circle cx="859.1" cy="256.6" r="2.6"/><circle cx="860.8" cy="251.4" r="2.6"/><circle cx="863.3" cy="257.1" r="2.6"/><circle cx="866.1" cy="259.0" r="2.6"/><circle cx="867.8" cy="258.3" r="2.6"/><circle cx="870.4" cy="249.7" r="2.6"/><circle cx="872.1" cy="243.4" r="2.6"/><circle cx="874.1" cy="246.9" r="2.6"/><circle cx="876.5" cy="247.8" r="2.6"/><circle cx="878.6" cy="240.2" r="2.6"/><circle cx="880.4" cy="243.2" r="2.6"/><circle cx="882.8" cy="241.4" r="2.6"/><circle cx="884.6" cy="234.4" r="2.6"/><circle cx="887.3" cy="233.3" r="2.6"/><circle cx="889.7" cy="233.7" r="2.6"/><circle cx="892.3" cy="231.8" r="2.6"/><circle cx="893.9" cy="236.8" r="2.6"/><circle cx="896.7" cy="230.2" r="2.6"/><circle cx="899.0" cy="228.6" r="2.6"/><circle cx="900.8" cy="229.8" r="2.6"/><circle cx="903.1" cy="227.1" r="2.6"/><circle cx="905.1" cy="230.0" r="2.6"/><circle cx="906.9" cy="228.6" r="2.6"/><circle cx="908.5" cy="227.2" r="2.6"/><circle cx="910.4" cy="227.5" r="2.6"/><circle cx="912.1" cy="230.3" r="2.6"/><circle cx="914.0" cy="237.7" r="2.6"/><circle cx="916.4" cy="236.7" r="2.6"/><circle cx="918.6" cy="234.7" r="2.6"/><circle cx="921.1" cy="237.9" r="2.6"/><circle cx="923.0" cy="240.5" r="2.6"/><circle cx="926.0" cy="243.4" r="2.6"/><circle cx="928.9" cy="245.4" r="2.6"/><circle cx="931.5" cy="247.9" r="2.6"/><circle cx="933.5" cy="248.9" r="2.6"/><circle cx="935.3" cy="247.3" r="2.6"/><circle cx="937.9" cy="252.0" r="2.6"/><circle cx="940.8" cy="254.2" r="2.6"/><circle cx="943.8" cy="257.5" r="2.6"/><circle cx="945.7" cy="259.0" r="2.6"/><circle cx="947.7" cy="261.5" r="2.6"/><circle cx="950.5" cy="264.3" r="2.6"/><circle cx="952.5" cy="266.3" r="2.6"/><circle cx="954.2" cy="267.6" r="2.6"/><circle cx="956.2" cy="261.7" r="2.6"/><circle cx="958.9" cy="256.4" r="2.6"/><circle cx="961.8" cy="272.0" r="2.6"/><circle cx="964.7" cy="267.2" r="2.6"/><circle cx="966.3" cy="274.9" r="2.6"/><circle cx="968.0" cy="269.1" r="2.6"/><circle cx="969.9" cy="272.2" r="2.6"/><circle cx="972.6" cy="270.2" r="2.6"/><circle cx="974.5" cy="273.6" r="2.6"/><circle cx="977.4" cy="279.1" r="2.6"/><circle cx="979.8" cy="278.6" r="2.6"/><circle cx="982.5" cy="276.8" r="2.6"/><circle cx="984.3" cy="279.0" r="2.6"/><circle cx="986.9" cy="278.2" r="2.6"/><circle cx="989.3" cy="274.0" r="2.6"/><circle cx="991.1" cy="275.5" r="2.6"/><circle cx="994.0" cy="278.9" r="2.6"/><circle cx="995.6" cy="276.9" r="2.6"/><circle cx="997.3" cy="274.6" r="2.6"/><circle cx="999.5" cy="275.0" r="2.6"/><circle cx="1001.4" cy="280.4" r="2.6"/><circle cx="1004.2" cy="275.1" r="2.6"/><circle cx="1006.1" cy="274.2" r="2.6"/><circle cx="1008.3" cy="278.3" r="2.6"/><circle cx="1011.0" cy="275.3" r="2.6"/><circle cx="1013.6" cy="277.3" r="2.6"/><circle cx="1016.4" cy="272.8" r="2.6"/><circle cx="1019.3" cy="272.1" r="2.6"/><circle cx="1021.3" cy="279.1" r="2.6"/><circle cx="1023.8" cy="273.1" r="2.6"/><circle cx="1026.3" cy="280.0" r="2.6"/><circle cx="1028.6" cy="278.1" r="2.6"/><circle cx="1031.5" cy="279.5" r="2.6"/><circle cx="1033.3" cy="276.0" r="2.6"/><circle cx="1035.5" cy="274.8" r="2.6"/><circle cx="1037.8" cy="280.1" r="2.6"/><circle cx="1040.5" cy="279.0" r="2.6"/><circle cx="1042.6" cy="271.3" r="2.6"/><circle cx="1045.2" cy="281.7" r="2.6"/></g><line x1="765" y1="163.3" x2="1046" y2="163.3" stroke="#FFA8D8" stroke-width="2.2" /><line x1="765" y1="276.3" x2="1046" y2="276.3" stroke="#FFA8D8" stroke-width="2.2" /><polyline points="765.0,163.3 768.6,163.3 772.1,163.3 775.7,163.3 779.2,163.3 782.8,163.3 786.3,163.3 789.9,163.3 793.5,163.2 797.0,163.2 800.6,163.1 804.1,163.1 807.7,163.0 811.2,162.8 814.8,162.6 818.4,162.3 821.9,161.9 825.5,161.4 829.0,160.7 832.6,159.9 836.1,158.8 839.7,157.5 843.3,155.9 846.8,154.1 850.4,151.9 853.9,149.5 857.5,146.7 861.0,143.7 864.6,140.6 868.2,137.3 871.7,134.0 875.3,130.8 878.8,127.8 882.4,125.0 885.9,122.7 889.5,120.9 893.1,119.6 896.6,119.1 900.2,119.1 903.7,119.9 907.3,121.2 910.8,123.2 914.4,125.6 917.9,128.4 921.5,131.5 925.1,134.7 928.6,138.0 932.2,141.3 935.7,144.4 939.3,147.3 942.8,150.0 946.4,152.4 950.0,154.5 953.5,156.3 957.1,157.8 960.6,159.1 964.2,160.1 967.7,160.9 971.3,161.5 974.9,162.0 978.4,162.4 982.0,162.6 985.5,162.8 989.1,163.0 992.6,163.1 996.2,163.2 999.8,163.2 1003.3,163.2 1006.9,163.3 1010.4,163.3 1014.0,163.3 1017.5,163.3 1021.1,163.3 1024.7,163.3 1028.2,163.3 1031.8,163.3 1035.3,163.3 1038.9,163.3 1042.4,163.3 1046.0,163.3" fill="none" stroke="#7CC6F2" stroke-width="2" /><polyline points="765.0,276.3 768.6,276.3 772.1,276.3 775.7,276.3 779.2,276.3 782.8,276.3 786.3,276.3 789.9,276.3 793.5,276.2 797.0,276.2 800.6,276.2 804.1,276.1 807.7,276.0 811.2,275.9 814.8,275.7 818.4,275.5 821.9,275.1 825.5,274.7 829.0,274.1 832.6,273.4 836.1,272.4 839.7,271.3 843.3,269.9 846.8,268.2 850.4,266.2 853.9,263.9 857.5,261.3 861.0,258.5 864.6,255.4 868.2,252.1 871.7,248.7 875.3,245.2 878.8,241.9 882.4,238.7 885.9,235.9 889.5,233.4 893.1,231.5 896.6,230.1 900.2,229.4 903.7,229.4 907.3,230.0 910.8,231.3 914.4,233.2 917.9,235.6 921.5,238.4 925.1,241.6 928.6,244.9 932.2,248.4 935.7,251.8 939.3,255.1 942.8,258.2 946.4,261.1 950.0,263.7 953.5,266.0 957.1,268.0 960.6,269.7 964.2,271.2 967.7,272.3 971.3,273.3 974.9,274.1 978.4,274.6 982.0,275.1 985.5,275.4 989.1,275.7 992.6,275.9 996.2,276.0 999.8,276.1 1003.3,276.2 1006.9,276.2 1010.4,276.2 1014.0,276.3 1017.5,276.3 1021.1,276.3 1024.7,276.3 1028.2,276.3 1031.8,276.3 1035.3,276.3 1038.9,276.3 1042.4,276.3 1046.0,276.3" fill="none" stroke="#7CC6F2" stroke-width="2" /><line x1="901.3" y1="100.5" x2="901.3" y2="175.8" stroke="#4A8FD6" stroke-width="1.7" stroke-dasharray="4.5 2.6"/><line x1="903.8" y1="178.3" x2="903.8" y2="290.3" stroke="#4A8FD6" stroke-width="1.7" stroke-dasharray="4.5 2.6"/><rect x="763.5" y="62.5" width="284" height="227.8" fill="none" stroke="#000" stroke-width="2.7"/><line x1="762.2" y1="176.8" x2="1047.5" y2="176.8" stroke="#000" stroke-width="2.8" /><line x1="763.5" y1="290.3" x2="763.5" y2="294.7" stroke="#000" stroke-width="2.7" /><text x="763.5" y="308.2" font-size="13.2" text-anchor="middle" >195</text><line x1="810.8" y1="290.3" x2="810.8" y2="294.7" stroke="#000" stroke-width="2.7" /><text x="810.8" y="308.2" font-size="13.2" text-anchor="middle" >194</text><line x1="858.2" y1="290.3" x2="858.2" y2="294.7" stroke="#000" stroke-width="2.7" /><text x="858.2" y="308.2" font-size="13.2" text-anchor="middle" >193</text><line x1="905.5" y1="290.3" x2="905.5" y2="294.7" stroke="#000" stroke-width="2.7" /><text x="905.5" y="308.2" font-size="13.2" text-anchor="middle" >192</text><line x1="952.8" y1="290.3" x2="952.8" y2="294.7" stroke="#000" stroke-width="2.7" /><text x="952.8" y="308.2" font-size="13.2" text-anchor="middle" >191</text><line x1="1000.2" y1="290.3" x2="1000.2" y2="294.7" stroke="#000" stroke-width="2.7" /><text x="1000.2" y="308.2" font-size="13.2" text-anchor="middle" >190</text><line x1="1047.5" y1="290.3" x2="1047.5" y2="294.7" stroke="#000" stroke-width="2.7" /><text x="1047.5" y="308.2" font-size="13.2" text-anchor="middle" >189</text><line x1="787.2" y1="290.3" x2="787.2" y2="292.9" stroke="#000" stroke-width="2.5" /><line x1="834.5" y1="290.3" x2="834.5" y2="292.9" stroke="#000" stroke-width="2.5" /><line x1="881.8" y1="290.3" x2="881.8" y2="292.9" stroke="#000" stroke-width="2.5" /><line x1="929.2" y1="290.3" x2="929.2" y2="292.9" stroke="#000" stroke-width="2.5" /><line x1="976.5" y1="290.3" x2="976.5" y2="292.9" stroke="#000" stroke-width="2.5" /><line x1="1023.8" y1="290.3" x2="1023.8" y2="292.9" stroke="#000" stroke-width="2.5" /><text x="756.4" y="53.6" font-size="42" >c</text><text x="771.2" y="80.5" font-size="16.3" textLength="118.5" lengthAdjust="spacingAndGlyphs" >Pt<tspan font-size="10.4" dy="2.6" font-weight="bold">SA/NP</tspan><tspan dy="-2.6">-TiO</tspan><tspan font-size="11" dy="2.6" font-weight="bold">2-x</tspan><tspan dy="-2.6">B</tspan><tspan font-size="11" dy="2.6" font-weight="bold">x</tspan></text><text x="1042.2" y="79.4" font-size="15.6" text-anchor="end" textLength="36" lengthAdjust="spacingAndGlyphs" >B 1<tspan font-style="italic">s</tspan></text><text x="771.2" y="105.1" font-size="15.6" textLength="140.2" lengthAdjust="spacingAndGlyphs" >During irradiation</text><text x="920.6" y="110.7" font-size="15.6" fill="#4A8FD6" textLength="50.5" lengthAdjust="spacingAndGlyphs" >192.17</text><text x="772.4" y="200.8" font-size="16.3" textLength="118.5" lengthAdjust="spacingAndGlyphs" >Pt<tspan font-size="10.4" dy="2.6" font-weight="bold">SA/NP</tspan><tspan dy="-2.6">-TiO</tspan><tspan font-size="11" dy="2.6" font-weight="bold">2-x</tspan><tspan dy="-2.6">B</tspan><tspan font-size="11" dy="2.6" font-weight="bold">x</tspan></text><text x="1040.8" y="192.2" font-size="15.6" text-anchor="end" textLength="35" lengthAdjust="spacingAndGlyphs" >B 1<tspan font-style="italic">s</tspan></text><text x="772.4" y="223.8" font-size="15.6" textLength="140.5" lengthAdjust="spacingAndGlyphs" >Before irradiation</text><text x="918.8" y="210.1" font-size="15.6" fill="#4A8FD6" textLength="51.5" lengthAdjust="spacingAndGlyphs" >192.02</text><text x="904.6" y="327.8" font-size="17.8" text-anchor="middle" textLength="186.5" lengthAdjust="spacingAndGlyphs" >Binding Energy (eV)</text><text x="0" y="0" font-size="17.8" fill="#000" text-anchor="middle" textLength="188" lengthAdjust="spacingAndGlyphs" transform="translate(750.6,175.1) rotate(-90)">Intensity (arb. units)</text><polyline points="77.6,512.3 133.8,512.3" fill="none" stroke="#5E5E5E" stroke-width="2.8" /><polyline points="303.4,405.5 360.4,405.5" fill="none" stroke="#5E5E5E" stroke-width="2.8" /><polyline points="302.8,510.5 360.4,510.5" fill="none" stroke="#5E5E5E" stroke-width="2.8" /><polyline points="133.8,512.3 190.5,569.5 248.1,569.5 303.4,405.5" fill="none" stroke="#4DBEF8" stroke-width="2.6" stroke-linejoin="miter"/><polyline points="133.8,512.3 190.5,562.4 248.1,562.4 302.8,510.5" fill="none" stroke="#FFB4E0" stroke-width="2.6" /><line x1="82.3" y1="394.2" x2="116.4" y2="394.2" stroke="#4DBEF8" stroke-width="3" /><line x1="82.3" y1="415.3" x2="116.4" y2="415.3" stroke="#FFB4E0" stroke-width="3" /><text x="119.6" y="398.5" font-size="12.6" textLength="118" lengthAdjust="spacingAndGlyphs" >Pt<tspan font-size="8.6" dy="2.6" font-weight="bold">NP/SA</tspan><tspan dy="-2.6">/TiO</tspan><tspan font-size="8.6" dy="2.6" font-weight="bold">2</tspan><tspan dy="-2.6"> [Pt</tspan><tspan font-size="8.6" dy="2.6" font-weight="bold">NP</tspan><tspan dy="-2.6">]</tspan></text><text x="119.6" y="419.7" font-size="12.6" textLength="141" lengthAdjust="spacingAndGlyphs" >Pt<tspan font-size="8.6" dy="2.6" font-weight="bold">NP/SA</tspan><tspan dy="-2.6">/TiO</tspan><tspan font-size="8.6" dy="2.6" font-weight="bold">2-x</tspan><tspan dy="-2.6">B</tspan><tspan font-size="8.6" dy="2.6" font-weight="bold">x</tspan><tspan dy="-2.6"> [Pt</tspan><tspan font-size="8.6" dy="2.6" font-weight="bold">NP</tspan><tspan dy="-2.6">]</tspan></text><rect x="77.6" y="376.5" width="282.8" height="226.9" fill="none" stroke="#000" stroke-width="2.7"/><line x1="73" y1="376.5" x2="77.6" y2="376.5" stroke="#000" stroke-width="2.7" /><text x="69.6" y="380.4" font-size="14.1" text-anchor="end" >0.6</text><line x1="73" y1="421.9" x2="77.6" y2="421.9" stroke="#000" stroke-width="2.7" /><text x="69.6" y="425.8" font-size="14.1" text-anchor="end" >0.4</text><line x1="73" y1="467.3" x2="77.6" y2="467.3" stroke="#000" stroke-width="2.7" /><text x="69.6" y="471.2" font-size="14.1" text-anchor="end" >0.2</text><line x1="73" y1="512.6" x2="77.6" y2="512.6" stroke="#000" stroke-width="2.7" /><text x="69.6" y="516.5" font-size="14.1" text-anchor="end" >0.0</text><line x1="73" y1="558" x2="77.6" y2="558" stroke="#000" stroke-width="2.7" /><text x="69.6" y="561.9" font-size="14.1" text-anchor="end" >-0.2</text><line x1="73" y1="603.4" x2="77.6" y2="603.4" stroke="#000" stroke-width="2.7" /><text x="69.6" y="607.3" font-size="14.1" text-anchor="end" >-0.4</text><text x="77.1" y="369.3" font-size="42" >d</text><text x="104.5" y="618.7" font-size="14.5" font-weight="normal" text-anchor="middle" textLength="27.5" lengthAdjust="spacingAndGlyphs" >H<tspan font-size="10.5" dy="3.6" font-weight="normal">2</tspan><tspan dy="-3.6">O</tspan></text><text x="217.8" y="618.7" font-size="14.5" font-weight="normal" text-anchor="middle" textLength="35" lengthAdjust="spacingAndGlyphs" >H<tspan font-size="10.5" dy="3.6" font-weight="normal">2</tspan><tspan dy="-3.6">O</tspan><tspan font-size="11" dy="-4.5" font-weight="normal">*</tspan></text><text x="327.4" y="619.2" font-size="14.5" font-weight="normal" text-anchor="middle" textLength="60" lengthAdjust="spacingAndGlyphs" >OH<tspan font-size="10" dy="-5" font-weight="normal">-</tspan><tspan dy="5"> + H</tspan><tspan font-size="10" dy="-5" font-weight="normal">+</tspan></text><text x="219.2" y="641.3" font-size="17.5" text-anchor="middle" textLength="190" lengthAdjust="spacingAndGlyphs" >Reaction Coordinate</text><text x="0" y="0" font-size="18.3" fill="#000" text-anchor="middle" textLength="118" lengthAdjust="spacingAndGlyphs" transform="translate(41.2,489.4) rotate(-90)">ΔG(H<tspan font-size="12.5" dy="3" font-weight="normal">2</tspan><tspan dy="-3">O) (eV)</tspan></text><polyline points="429.6,455.3 485.3,455.3" fill="none" stroke="#5E5E5E" stroke-width="2.8" /><polyline points="656.0,455.3 713.3,455.3" fill="none" stroke="#5E5E5E" stroke-width="2.8" /><polyline points="485.3,455.3 543.7,582.3 600.3,582.3 656.0,455.3" fill="none" stroke="#4DBEF8" stroke-width="2.6" /><polyline points="485.3,455.3 543.7,462.2 600.3,462.2 656.0,455.3" fill="none" stroke="#FFB4E0" stroke-width="2.6" /><line x1="434.2" y1="393.3" x2="468.3" y2="393.3" stroke="#4DBEF8" stroke-width="3" /><line x1="434.2" y1="415" x2="468.3" y2="415" stroke="#FFB4E0" stroke-width="3" /><text x="471.9" y="398" font-size="12.6" textLength="115" lengthAdjust="spacingAndGlyphs" >Pt<tspan font-size="8.6" dy="2.6" font-weight="bold">SA/NP</tspan><tspan dy="-2.6">/TiO</tspan><tspan font-size="8.6" dy="2.6" font-weight="bold">2</tspan><tspan dy="-2.6"> [Pt</tspan><tspan font-size="8.6" dy="2.6" font-weight="bold">SA</tspan><tspan dy="-2.6">]</tspan></text><text x="471.9" y="419.7" font-size="12.6" textLength="135" lengthAdjust="spacingAndGlyphs" >Pt<tspan font-size="8.6" dy="2.6" font-weight="bold">SA/NP</tspan><tspan dy="-2.6">TiO</tspan><tspan font-size="8.6" dy="2.6" font-weight="bold">2-x</tspan><tspan dy="-2.6">B</tspan><tspan font-size="8.6" dy="2.6" font-weight="bold">x</tspan><tspan dy="-2.6"> [Pt</tspan><tspan font-size="8.6" dy="2.6" font-weight="bold">SA</tspan><tspan dy="-2.6">]</tspan></text><rect x="429.6" y="379.4" width="283.7" height="226.9" fill="none" stroke="#000" stroke-width="2.7"/><line x1="425" y1="379.4" x2="429.6" y2="379.4" stroke="#000" stroke-width="2.7" /><text x="421.6" y="383.3" font-size="14.1" text-anchor="end" >0.4</text><line x1="425" y1="417.2" x2="429.6" y2="417.2" stroke="#000" stroke-width="2.7" /><text x="421.6" y="421.1" font-size="14.1" text-anchor="end" >0.2</text><line x1="425" y1="455" x2="429.6" y2="455" stroke="#000" stroke-width="2.7" /><text x="421.6" y="458.9" font-size="14.1" text-anchor="end" >0.0</text><line x1="425" y1="492.9" x2="429.6" y2="492.9" stroke="#000" stroke-width="2.7" /><text x="421.6" y="496.8" font-size="14.1" text-anchor="end" >-0.2</text><line x1="425" y1="530.7" x2="429.6" y2="530.7" stroke="#000" stroke-width="2.7" /><text x="421.6" y="534.6" font-size="14.1" text-anchor="end" >-0.4</text><line x1="425" y1="568.5" x2="429.6" y2="568.5" stroke="#000" stroke-width="2.7" /><text x="421.6" y="572.4" font-size="14.1" text-anchor="end" >-0.6</text><line x1="425" y1="606.3" x2="429.6" y2="606.3" stroke="#000" stroke-width="2.7" /><text x="421.6" y="610.2" font-size="14.1" text-anchor="end" >-0.8</text><text x="426" y="366.6" font-size="42" >e</text><text x="458.8" y="622.6" font-size="14.5" text-anchor="middle" textLength="37" lengthAdjust="spacingAndGlyphs" >H<tspan font-size="10" dy="-5.5" font-weight="bold">+</tspan><tspan dy="5.5">+e</tspan><tspan font-size="10" dy="-5.5" font-weight="bold">-</tspan></text><text x="572.8" y="622.6" font-size="14.5" text-anchor="middle" textLength="14.5" lengthAdjust="spacingAndGlyphs" >H<tspan font-size="10" dy="-5.5" font-weight="bold">*</tspan></text><text x="683.8" y="622.6" font-size="14.5" text-anchor="middle" textLength="37" lengthAdjust="spacingAndGlyphs" >1/2H<tspan font-size="10" dy="3.6" font-weight="bold">2</tspan></text><text x="571.2" y="641.6" font-size="17.5" text-anchor="middle" textLength="189.5" lengthAdjust="spacingAndGlyphs" >Reaction Coordinate</text><text x="0" y="0" font-size="18.7" fill="#000" text-anchor="middle" textLength="152.5" lengthAdjust="spacingAndGlyphs" transform="translate(392.4,491.7) rotate(-90)">Free Energy (eV)</text><defs>
<radialGradient id="gTi" cx="0.4" cy="0.35" r="0.65"><stop offset="0" stop-color="#ffffff"/><stop offset="0.6" stop-color="#dcdcdc"/><stop offset="1" stop-color="#8a8a8a"/></radialGradient>
<radialGradient id="gPt" cx="0.4" cy="0.35" r="0.65"><stop offset="0" stop-color="#c8ffff"/><stop offset="0.55" stop-color="#10eef0"/><stop offset="1" stop-color="#00b4c0"/></radialGradient>
<radialGradient id="gO" cx="0.4" cy="0.35" r="0.65"><stop offset="0" stop-color="#fbe2bc"/><stop offset="0.55" stop-color="#e2b27a"/><stop offset="1" stop-color="#a87838"/></radialGradient>
<radialGradient id="gB" cx="0.4" cy="0.35" r="0.65"><stop offset="0" stop-color="#c8f0b8"/><stop offset="0.55" stop-color="#7cc070"/><stop offset="1" stop-color="#3e7a38"/></radialGradient>
<radialGradient id="gPk" cx="0.4" cy="0.35" r="0.65"><stop offset="0" stop-color="#ffe6f4"/><stop offset="0.55" stop-color="#f4a6d4"/><stop offset="1" stop-color="#c06a9c"/></radialGradient>
<radialGradient id="gBl" cx="0.4" cy="0.35" r="0.65"><stop offset="0" stop-color="#d6ecff"/><stop offset="0.55" stop-color="#82b2e0"/><stop offset="1" stop-color="#4a78a8"/></radialGradient>
<radialGradient id="gGd" cx="0.4" cy="0.35" r="0.65"><stop offset="0" stop-color="#fff0b0"/><stop offset="0.55" stop-color="#efc450"/><stop offset="1" stop-color="#b08a20"/></radialGradient>
<radialGradient id="gMg" cx="0.4" cy="0.35" r="0.65"><stop offset="0" stop-color="#ff9cff"/><stop offset="0.55" stop-color="#f010e0"/><stop offset="1" stop-color="#a000a0"/></radialGradient>
<radialGradient id="gH" cx="0.5" cy="0.5" r="0.5"><stop offset="0" stop-color="#ffffff"/><stop offset="0.45" stop-color="#e8e8ee"/><stop offset="0.7" stop-color="#8a8c94"/><stop offset="1" stop-color="#6a6c74"/></radialGradient>
<radialGradient id="gTi2" cx="0.5" cy="0.45" r="0.55"><stop offset="0" stop-color="#ffffff"/><stop offset="0.45" stop-color="#eeeeee"/><stop offset="0.75" stop-color="#b4b4b4"/><stop offset="0.9" stop-color="#8e8e8e"/><stop offset="1" stop-color="#bcbcbc"/></radialGradient>
<radialGradient id="gO2" cx="0.45" cy="0.42" r="0.6"><stop offset="0" stop-color="#fffbe8"/><stop offset="0.35" stop-color="#ecc888"/><stop offset="0.8" stop-color="#b88440"/><stop offset="1" stop-color="#8a5c24"/></radialGradient>
</defs><rect x="818" y="499" width="223" height="110" fill="#fdfdfd"/><line x1="830.3" y1="435.7" x2="826.1" y2="442.9" stroke="#dadada" stroke-width="1.7"/><line x1="826.1" y1="442.9" x2="822.0" y2="450.0" stroke="#deb880" stroke-width="1.7"/><line x1="830.3" y1="435.7" x2="832.5" y2="434.9" stroke="#dadada" stroke-width="1.7"/><line x1="832.5" y1="434.9" x2="834.8" y2="434.2" stroke="#deb880" stroke-width="1.7"/><line x1="830.3" y1="435.7" x2="822.4" y2="432.0" stroke="#dadada" stroke-width="1.7"/><line x1="822.4" y1="432.0" x2="814.6" y2="428.3" stroke="#deb880" stroke-width="1.7"/><line x1="852.2" y1="442.5" x2="850.1" y2="451.4" stroke="#dadada" stroke-width="1.7"/><line x1="850.1" y1="451.4" x2="848.1" y2="460.4" stroke="#deb880" stroke-width="1.7"/><line x1="852.2" y1="442.5" x2="856.3" y2="435.6" stroke="#dadada" stroke-width="1.7"/><line x1="856.3" y1="435.6" x2="860.5" y2="428.8" stroke="#deb880" stroke-width="1.7"/><line x1="852.2" y1="442.5" x2="860.4" y2="446.2" stroke="#dadada" stroke-width="1.7"/><line x1="860.4" y1="446.2" x2="868.7" y2="450.0" stroke="#deb880" stroke-width="1.7"/><line x1="852.2" y1="442.5" x2="843.5" y2="438.4" stroke="#dadada" stroke-width="1.7"/><line x1="843.5" y1="438.4" x2="834.8" y2="434.2" stroke="#deb880" stroke-width="1.7"/><line x1="852.2" y1="442.5" x2="860.5" y2="446.2" stroke="#dadada" stroke-width="1.7"/><line x1="860.5" y1="446.2" x2="868.7" y2="450.0" stroke="#deb880" stroke-width="1.7"/><line x1="877.0" y1="435.7" x2="868.8" y2="432.2" stroke="#dadada" stroke-width="1.7"/><line x1="868.8" y1="432.2" x2="860.5" y2="428.8" stroke="#deb880" stroke-width="1.7"/><line x1="877.0" y1="435.7" x2="872.8" y2="442.9" stroke="#dadada" stroke-width="1.7"/><line x1="872.8" y1="442.9" x2="868.7" y2="450.0" stroke="#deb880" stroke-width="1.7"/><line x1="877.0" y1="435.7" x2="872.9" y2="442.9" stroke="#dadada" stroke-width="1.7"/><line x1="872.9" y1="442.9" x2="868.7" y2="450.0" stroke="#deb880" stroke-width="1.7"/><line x1="877.0" y1="435.7" x2="879.2" y2="434.9" stroke="#dadada" stroke-width="1.7"/><line x1="879.2" y1="434.9" x2="881.5" y2="434.2" stroke="#deb880" stroke-width="1.7"/><line x1="898.9" y1="442.5" x2="896.8" y2="451.4" stroke="#dadada" stroke-width="1.7"/><line x1="896.8" y1="451.4" x2="894.8" y2="460.4" stroke="#deb880" stroke-width="1.7"/><line x1="898.9" y1="442.5" x2="903.0" y2="435.6" stroke="#dadada" stroke-width="1.7"/><line x1="903.0" y1="435.6" x2="907.2" y2="428.8" stroke="#deb880" stroke-width="1.7"/><line x1="898.9" y1="442.5" x2="907.1" y2="446.2" stroke="#dadada" stroke-width="1.7"/><line x1="907.1" y1="446.2" x2="915.4" y2="450.0" stroke="#deb880" stroke-width="1.7"/><line x1="898.9" y1="442.5" x2="890.2" y2="438.4" stroke="#dadada" stroke-width="1.7"/><line x1="890.2" y1="438.4" x2="881.5" y2="434.2" stroke="#deb880" stroke-width="1.7"/><line x1="898.9" y1="442.5" x2="907.1" y2="446.2" stroke="#dadada" stroke-width="1.7"/><line x1="907.1" y1="446.2" x2="915.4" y2="450.0" stroke="#deb880" stroke-width="1.7"/><line x1="923.7" y1="435.7" x2="915.5" y2="432.2" stroke="#dadada" stroke-width="1.7"/><line x1="915.5" y1="432.2" x2="907.2" y2="428.8" stroke="#deb880" stroke-width="1.7"/><line x1="923.7" y1="435.7" x2="919.5" y2="442.9" stroke="#dadada" stroke-width="1.7"/><line x1="919.5" y1="442.9" x2="915.4" y2="450.0" stroke="#deb880" stroke-width="1.7"/><line x1="923.7" y1="435.7" x2="919.5" y2="442.9" stroke="#dadada" stroke-width="1.7"/><line x1="919.5" y1="442.9" x2="915.4" y2="450.0" stroke="#deb880" stroke-width="1.7"/><line x1="923.7" y1="435.7" x2="925.9" y2="434.9" stroke="#dadada" stroke-width="1.7"/><line x1="925.9" y1="434.9" x2="928.2" y2="434.2" stroke="#deb880" stroke-width="1.7"/><line x1="945.6" y1="442.5" x2="943.5" y2="451.4" stroke="#dadada" stroke-width="1.7"/><line x1="943.5" y1="451.4" x2="941.5" y2="460.4" stroke="#deb880" stroke-width="1.7"/><line x1="945.6" y1="442.5" x2="949.8" y2="435.6" stroke="#dadada" stroke-width="1.7"/><line x1="949.8" y1="435.6" x2="953.9" y2="428.8" stroke="#deb880" stroke-width="1.7"/><line x1="945.6" y1="442.5" x2="953.8" y2="446.2" stroke="#dadada" stroke-width="1.7"/><line x1="953.8" y1="446.2" x2="962.1" y2="450.0" stroke="#deb880" stroke-width="1.7"/><line x1="945.6" y1="442.5" x2="936.9" y2="438.4" stroke="#dadada" stroke-width="1.7"/><line x1="936.9" y1="438.4" x2="928.2" y2="434.2" stroke="#deb880" stroke-width="1.7"/><line x1="945.6" y1="442.5" x2="953.8" y2="446.2" stroke="#dadada" stroke-width="1.7"/><line x1="953.8" y1="446.2" x2="962.1" y2="450.0" stroke="#deb880" stroke-width="1.7"/><line x1="970.4" y1="435.7" x2="962.1" y2="432.2" stroke="#dadada" stroke-width="1.7"/><line x1="962.1" y1="432.2" x2="953.9" y2="428.8" stroke="#deb880" stroke-width="1.7"/><line x1="970.4" y1="435.7" x2="966.2" y2="442.9" stroke="#dadada" stroke-width="1.7"/><line x1="966.2" y1="442.9" x2="962.1" y2="450.0" stroke="#deb880" stroke-width="1.7"/><line x1="970.4" y1="435.7" x2="966.2" y2="442.9" stroke="#dadada" stroke-width="1.7"/><line x1="966.2" y1="442.9" x2="962.1" y2="450.0" stroke="#deb880" stroke-width="1.7"/><line x1="970.4" y1="435.7" x2="972.6" y2="434.9" stroke="#dadada" stroke-width="1.7"/><line x1="972.6" y1="434.9" x2="974.9" y2="434.2" stroke="#deb880" stroke-width="1.7"/><line x1="992.3" y1="442.5" x2="990.2" y2="451.4" stroke="#dadada" stroke-width="1.7"/><line x1="990.2" y1="451.4" x2="988.2" y2="460.4" stroke="#deb880" stroke-width="1.7"/><line x1="992.3" y1="442.5" x2="996.5" y2="435.6" stroke="#dadada" stroke-width="1.7"/><line x1="996.5" y1="435.6" x2="1000.6" y2="428.8" stroke="#deb880" stroke-width="1.7"/><line x1="992.3" y1="442.5" x2="1000.5" y2="446.2" stroke="#dadada" stroke-width="1.7"/><line x1="1000.5" y1="446.2" x2="1008.8" y2="450.0" stroke="#deb880" stroke-width="1.7"/><line x1="992.3" y1="442.5" x2="983.6" y2="438.4" stroke="#dadada" stroke-width="1.7"/><line x1="983.6" y1="438.4" x2="974.9" y2="434.2" stroke="#deb880" stroke-width="1.7"/><line x1="992.3" y1="442.5" x2="1000.8" y2="446.2" stroke="#dadada" stroke-width="1.7"/><line x1="1000.8" y1="446.2" x2="1009.3" y2="450.0" stroke="#deb880" stroke-width="1.7"/><line x1="838.5" y1="475.5" x2="843.3" y2="467.9" stroke="#dadada" stroke-width="1.7"/><line x1="843.3" y1="467.9" x2="848.1" y2="460.4" stroke="#deb880" stroke-width="1.7"/><line x1="838.5" y1="475.5" x2="836.5" y2="475.5" stroke="#dadada" stroke-width="1.7"/><line x1="836.5" y1="475.5" x2="834.4" y2="475.5" stroke="#deb880" stroke-width="1.7"/><line x1="838.5" y1="475.5" x2="846.8" y2="479.2" stroke="#dadada" stroke-width="1.7"/><line x1="846.8" y1="479.2" x2="855.0" y2="482.9" stroke="#deb880" stroke-width="1.7"/><line x1="838.5" y1="475.5" x2="830.2" y2="472.4" stroke="#dadada" stroke-width="1.7"/><line x1="830.2" y1="472.4" x2="822.0" y2="469.2" stroke="#deb880" stroke-width="1.7"/><line x1="864.6" y1="468.6" x2="856.3" y2="464.5" stroke="#dadada" stroke-width="1.7"/><line x1="856.3" y1="464.5" x2="848.1" y2="460.4" stroke="#deb880" stroke-width="1.7"/><line x1="864.6" y1="468.6" x2="859.8" y2="475.8" stroke="#dadada" stroke-width="1.7"/><line x1="859.8" y1="475.8" x2="855.0" y2="482.9" stroke="#deb880" stroke-width="1.7"/><line x1="864.6" y1="468.6" x2="866.6" y2="459.3" stroke="#dadada" stroke-width="1.7"/><line x1="866.6" y1="459.3" x2="868.7" y2="450.0" stroke="#deb880" stroke-width="1.7"/><line x1="864.6" y1="468.6" x2="866.6" y2="459.3" stroke="#dadada" stroke-width="1.7"/><line x1="866.6" y1="459.3" x2="868.7" y2="450.0" stroke="#deb880" stroke-width="1.7"/><line x1="864.6" y1="468.6" x2="872.8" y2="472.0" stroke="#dadada" stroke-width="1.7"/><line x1="872.8" y1="472.0" x2="881.1" y2="475.5" stroke="#deb880" stroke-width="1.7"/><line x1="864.6" y1="468.6" x2="866.6" y2="468.9" stroke="#dadada" stroke-width="1.7"/><line x1="866.6" y1="468.9" x2="868.7" y2="469.2" stroke="#deb880" stroke-width="1.7"/><line x1="885.2" y1="475.5" x2="890.0" y2="467.9" stroke="#dadada" stroke-width="1.7"/><line x1="890.0" y1="467.9" x2="894.8" y2="460.4" stroke="#deb880" stroke-width="1.7"/><line x1="885.2" y1="475.5" x2="883.2" y2="475.5" stroke="#dadada" stroke-width="1.7"/><line x1="883.2" y1="475.5" x2="881.1" y2="475.5" stroke="#deb880" stroke-width="1.7"/><line x1="885.2" y1="475.5" x2="893.5" y2="479.2" stroke="#dadada" stroke-width="1.7"/><line x1="893.5" y1="479.2" x2="901.7" y2="482.9" stroke="#deb880" stroke-width="1.7"/><line x1="885.2" y1="475.5" x2="877.0" y2="472.4" stroke="#dadada" stroke-width="1.7"/><line x1="877.0" y1="472.4" x2="868.7" y2="469.2" stroke="#deb880" stroke-width="1.7"/><line x1="911.3" y1="468.6" x2="903.0" y2="464.5" stroke="#dadada" stroke-width="1.7"/><line x1="903.0" y1="464.5" x2="894.8" y2="460.4" stroke="#deb880" stroke-width="1.7"/><line x1="911.3" y1="468.6" x2="906.5" y2="475.8" stroke="#dadada" stroke-width="1.7"/><line x1="906.5" y1="475.8" x2="901.7" y2="482.9" stroke="#deb880" stroke-width="1.7"/><line x1="911.3" y1="468.6" x2="913.3" y2="459.3" stroke="#dadada" stroke-width="1.7"/><line x1="913.3" y1="459.3" x2="915.4" y2="450.0" stroke="#deb880" stroke-width="1.7"/><line x1="911.3" y1="468.6" x2="913.3" y2="459.3" stroke="#dadada" stroke-width="1.7"/><line x1="913.3" y1="459.3" x2="915.4" y2="450.0" stroke="#deb880" stroke-width="1.7"/><line x1="911.3" y1="468.6" x2="919.5" y2="472.0" stroke="#dadada" stroke-width="1.7"/><line x1="919.5" y1="472.0" x2="927.8" y2="475.5" stroke="#deb880" stroke-width="1.7"/><line x1="911.3" y1="468.6" x2="913.3" y2="468.9" stroke="#dadada" stroke-width="1.7"/><line x1="913.3" y1="468.9" x2="915.4" y2="469.2" stroke="#deb880" stroke-width="1.7"/><line x1="931.9" y1="475.5" x2="936.7" y2="467.9" stroke="#dadada" stroke-width="1.7"/><line x1="936.7" y1="467.9" x2="941.5" y2="460.4" stroke="#deb880" stroke-width="1.7"/><line x1="931.9" y1="475.5" x2="929.8" y2="475.5" stroke="#dadada" stroke-width="1.7"/><line x1="929.8" y1="475.5" x2="927.8" y2="475.5" stroke="#deb880" stroke-width="1.7"/><line x1="931.9" y1="475.5" x2="940.1" y2="479.2" stroke="#dadada" stroke-width="1.7"/><line x1="940.1" y1="479.2" x2="948.4" y2="482.9" stroke="#deb880" stroke-width="1.7"/><line x1="931.9" y1="475.5" x2="923.6" y2="472.4" stroke="#dadada" stroke-width="1.7"/><line x1="923.6" y1="472.4" x2="915.4" y2="469.2" stroke="#deb880" stroke-width="1.7"/><line x1="958.0" y1="468.6" x2="949.7" y2="464.5" stroke="#dadada" stroke-width="1.7"/><line x1="949.7" y1="464.5" x2="941.5" y2="460.4" stroke="#deb880" stroke-width="1.7"/><line x1="958.0" y1="468.6" x2="953.2" y2="475.8" stroke="#dadada" stroke-width="1.7"/><line x1="953.2" y1="475.8" x2="948.4" y2="482.9" stroke="#deb880" stroke-width="1.7"/><line x1="958.0" y1="468.6" x2="960.0" y2="459.3" stroke="#dadada" stroke-width="1.7"/><line x1="960.0" y1="459.3" x2="962.1" y2="450.0" stroke="#deb880" stroke-width="1.7"/><line x1="958.0" y1="468.6" x2="960.0" y2="459.3" stroke="#dadada" stroke-width="1.7"/><line x1="960.0" y1="459.3" x2="962.1" y2="450.0" stroke="#deb880" stroke-width="1.7"/><line x1="958.0" y1="468.6" x2="966.2" y2="472.0" stroke="#dadada" stroke-width="1.7"/><line x1="966.2" y1="472.0" x2="974.5" y2="475.5" stroke="#deb880" stroke-width="1.7"/><line x1="958.0" y1="468.6" x2="960.0" y2="468.9" stroke="#dadada" stroke-width="1.7"/><line x1="960.0" y1="468.9" x2="962.1" y2="469.2" stroke="#deb880" stroke-width="1.7"/><line x1="978.6" y1="475.5" x2="983.4" y2="467.9" stroke="#dadada" stroke-width="1.7"/><line x1="983.4" y1="467.9" x2="988.2" y2="460.4" stroke="#deb880" stroke-width="1.7"/><line x1="978.6" y1="475.5" x2="976.5" y2="475.5" stroke="#dadada" stroke-width="1.7"/><line x1="976.5" y1="475.5" x2="974.5" y2="475.5" stroke="#deb880" stroke-width="1.7"/><line x1="978.6" y1="475.5" x2="986.9" y2="479.2" stroke="#dadada" stroke-width="1.7"/><line x1="986.9" y1="479.2" x2="995.1" y2="482.9" stroke="#deb880" stroke-width="1.7"/><line x1="978.6" y1="475.5" x2="970.4" y2="472.4" stroke="#dadada" stroke-width="1.7"/><line x1="970.4" y1="472.4" x2="962.1" y2="469.2" stroke="#deb880" stroke-width="1.7"/><line x1="1004.7" y1="468.6" x2="996.4" y2="464.5" stroke="#dadada" stroke-width="1.7"/><line x1="996.4" y1="464.5" x2="988.2" y2="460.4" stroke="#deb880" stroke-width="1.7"/><line x1="1004.7" y1="468.6" x2="999.9" y2="475.8" stroke="#dadada" stroke-width="1.7"/><line x1="999.9" y1="475.8" x2="995.1" y2="482.9" stroke="#deb880" stroke-width="1.7"/><line x1="1004.7" y1="468.6" x2="1006.8" y2="459.3" stroke="#dadada" stroke-width="1.7"/><line x1="1006.8" y1="459.3" x2="1008.8" y2="450.0" stroke="#deb880" stroke-width="1.7"/><line x1="1004.7" y1="468.6" x2="1007.0" y2="459.3" stroke="#dadada" stroke-width="1.7"/><line x1="1007.0" y1="459.3" x2="1009.3" y2="450.0" stroke="#deb880" stroke-width="1.7"/><line x1="1004.7" y1="468.6" x2="1010.8" y2="471.9" stroke="#dadada" stroke-width="1.7"/><line x1="1010.8" y1="471.9" x2="1016.8" y2="475.2" stroke="#deb880" stroke-width="1.7"/><circle cx="838.5" cy="475.5" r="5.6" fill="url(#gTi2)"/><circle cx="864.6" cy="468.6" r="5.6" fill="url(#gTi2)"/><circle cx="885.2" cy="475.5" r="5.6" fill="url(#gTi2)"/><circle cx="911.3" cy="468.6" r="5.6" fill="url(#gTi2)"/><circle cx="931.9" cy="475.5" r="5.6" fill="url(#gTi2)"/><circle cx="958.0" cy="468.6" r="5.6" fill="url(#gTi2)"/><circle cx="978.6" cy="475.5" r="5.6" fill="url(#gTi2)"/><circle cx="1004.7" cy="468.6" r="5.6" fill="url(#gTi2)"/><circle cx="830.3" cy="435.7" r="5.6" fill="url(#gTi2)"/><circle cx="852.2" cy="442.5" r="5.6" fill="url(#gTi2)"/><circle cx="877.0" cy="435.7" r="5.6" fill="url(#gTi2)"/><circle cx="898.9" cy="442.5" r="5.6" fill="url(#gTi2)"/><circle cx="923.7" cy="435.7" r="5.6" fill="url(#gTi2)"/><circle cx="945.6" cy="442.5" r="5.6" fill="url(#gTi2)"/><circle cx="970.4" cy="435.7" r="5.6" fill="url(#gTi2)"/><circle cx="992.3" cy="442.5" r="5.6" fill="url(#gTi2)"/><circle cx="822.0" cy="450.0" r="2.5" fill="url(#gO2)"/><circle cx="848.1" cy="460.4" r="2.5" fill="url(#gO2)"/><circle cx="834.4" cy="475.5" r="2.5" fill="url(#gO2)"/><circle cx="855.0" cy="482.9" r="2.5" fill="url(#gO2)"/><circle cx="860.5" cy="428.8" r="2.5" fill="url(#gO2)"/><circle cx="868.7" cy="450.0" r="2.5" fill="url(#gO2)"/><circle cx="822.0" cy="469.2" r="2.5" fill="url(#gO2)"/><circle cx="834.8" cy="434.2" r="2.5" fill="url(#gO2)"/><circle cx="868.7" cy="450.0" r="2.5" fill="url(#gO2)"/><circle cx="894.8" cy="460.4" r="2.5" fill="url(#gO2)"/><circle cx="881.1" cy="475.5" r="2.5" fill="url(#gO2)"/><circle cx="901.7" cy="482.9" r="2.5" fill="url(#gO2)"/><circle cx="907.2" cy="428.8" r="2.5" fill="url(#gO2)"/><circle cx="915.4" cy="450.0" r="2.5" fill="url(#gO2)"/><circle cx="868.7" cy="469.2" r="2.5" fill="url(#gO2)"/><circle cx="881.5" cy="434.2" r="2.5" fill="url(#gO2)"/><circle cx="915.4" cy="450.0" r="2.5" fill="url(#gO2)"/><circle cx="941.5" cy="460.4" r="2.5" fill="url(#gO2)"/><circle cx="927.8" cy="475.5" r="2.5" fill="url(#gO2)"/><circle cx="948.4" cy="482.9" r="2.5" fill="url(#gO2)"/><circle cx="953.9" cy="428.8" r="2.5" fill="url(#gO2)"/><circle cx="962.1" cy="450.0" r="2.5" fill="url(#gO2)"/><circle cx="915.4" cy="469.2" r="2.5" fill="url(#gO2)"/><circle cx="928.2" cy="434.2" r="2.5" fill="url(#gO2)"/><circle cx="962.1" cy="450.0" r="2.5" fill="url(#gO2)"/><circle cx="988.2" cy="460.4" r="2.5" fill="url(#gO2)"/><circle cx="974.5" cy="475.5" r="2.5" fill="url(#gO2)"/><circle cx="995.1" cy="482.9" r="2.5" fill="url(#gO2)"/><circle cx="1000.6" cy="428.8" r="2.5" fill="url(#gO2)"/><circle cx="1008.8" cy="450.0" r="2.5" fill="url(#gO2)"/><circle cx="962.1" cy="469.2" r="2.5" fill="url(#gO2)"/><circle cx="974.9" cy="434.2" r="2.5" fill="url(#gO2)"/><circle cx="814.6" cy="428.3" r="2.5" fill="url(#gO2)"/><circle cx="1009.3" cy="450.0" r="2.5" fill="url(#gO2)"/><circle cx="1016.8" cy="475.2" r="2.5" fill="url(#gO2)"/><ellipse cx="885" cy="428" rx="10" ry="7" transform="rotate(0 885 428)" fill="#8C9CC4" fill-opacity="0.8"/><ellipse cx="918" cy="438" rx="8" ry="8" transform="rotate(0 918 438)" fill="#8C9CC4" fill-opacity="0.8"/><ellipse cx="900" cy="400" rx="6" ry="6" transform="rotate(0 900 400)" fill="#8C9CC4" fill-opacity="0.8"/><ellipse cx="935" cy="449" rx="6" ry="5" transform="rotate(0 935 449)" fill="#8C9CC4" fill-opacity="0.8"/><ellipse cx="866" cy="426" rx="6" ry="5" transform="rotate(0 866 426)" fill="#8C9CC4" fill-opacity="0.8"/><ellipse cx="950" cy="438" rx="4" ry="4" transform="rotate(0 950 438)" fill="#8C9CC4" fill-opacity="0.8"/><ellipse cx="873" cy="404" rx="8.5" ry="9.5" transform="rotate(0 873 404)" fill="#8C9CC4" fill-opacity="0.8"/><ellipse cx="866" cy="416" rx="6" ry="6" transform="rotate(0 866 416)" fill="#8C9CC4" fill-opacity="0.8"/><ellipse cx="891" cy="389" rx="3.5" ry="5" transform="rotate(0 891 389)" fill="#8C9CC4" fill-opacity="0.8"/><ellipse cx="905" cy="412" rx="10" ry="8" transform="rotate(0 905 412)" fill="#8C9CC4" fill-opacity="0.8"/><ellipse cx="926" cy="432" rx="12.5" ry="12.5" transform="rotate(0 926 432)" fill="#8C9CC4" fill-opacity="0.8"/><ellipse cx="910" cy="447" rx="9" ry="10" transform="rotate(-15 910 447)" fill="#8C9CC4" fill-opacity="0.8"/><ellipse cx="903" cy="456" rx="5" ry="6" transform="rotate(0 903 456)" fill="#8C9CC4" fill-opacity="0.8"/><ellipse cx="858" cy="433" rx="4.5" ry="5" transform="rotate(0 858 433)" fill="#8C9CC4" fill-opacity="0.8"/><ellipse cx="945" cy="445" rx="4.5" ry="4.5" transform="rotate(0 945 445)" fill="#8C9CC4" fill-opacity="0.8"/><ellipse cx="893" cy="434" rx="6" ry="5" transform="rotate(0 893 434)" fill="#8C9CC4" fill-opacity="0.8"/><ellipse cx="877" cy="421" rx="16" ry="6.5" transform="rotate(8 877 421)" fill="#E052E2" fill-opacity="0.85"/><ellipse cx="899" cy="410" rx="7.5" ry="8.5" transform="rotate(0 899 410)" fill="#E052E2" fill-opacity="0.85"/><ellipse cx="912" cy="428" rx="14" ry="6.5" transform="rotate(25 912 428)" fill="#E052E2" fill-opacity="0.85"/><ellipse cx="930" cy="432" rx="6.5" ry="7.5" transform="rotate(0 930 432)" fill="#E052E2" fill-opacity="0.85"/><ellipse cx="940" cy="443" rx="8.5" ry="5.5" transform="rotate(15 940 443)" fill="#E052E2" fill-opacity="0.85"/><ellipse cx="918" cy="451" rx="5.5" ry="5.5" transform="rotate(0 918 451)" fill="#E052E2" fill-opacity="0.85"/><ellipse cx="886" cy="393" rx="4.5" ry="4.5" transform="rotate(0 886 393)" fill="#E052E2" fill-opacity="0.85"/><ellipse cx="880" cy="402" rx="3" ry="5" transform="rotate(-20 880 402)" fill="#E052E2" fill-opacity="0.85"/><ellipse cx="892" cy="422" rx="5" ry="4" transform="rotate(0 892 422)" fill="#E052E2" fill-opacity="0.85"/><ellipse cx="867" cy="434" rx="3" ry="3" transform="rotate(0 867 434)" fill="#E052E2" fill-opacity="0.85"/><ellipse cx="954" cy="426" rx="3" ry="3" transform="rotate(0 954 426)" fill="#E052E2" fill-opacity="0.85"/><ellipse cx="877" cy="446" rx="3" ry="3" transform="rotate(0 877 446)" fill="#E052E2" fill-opacity="0.85"/><ellipse cx="895" cy="449" rx="2.5" ry="3" transform="rotate(0 895 449)" fill="#E052E2" fill-opacity="0.85"/><polyline points="874.9,411.8 887,408 890.8,394.9 896.7,415.8 885,414" fill="none" stroke="#20D8E0" stroke-width="1.2"/><circle cx="890.8" cy="394.9" r="3.2" fill="url(#gPt)"/><circle cx="874.9" cy="411.8" r="3.2" fill="url(#gPt)"/><circle cx="896.7" cy="415.8" r="3.2" fill="url(#gPt)"/><line x1="830.3" y1="552.7" x2="826.1" y2="559.9" stroke="#dadada" stroke-width="1.7"/><line x1="826.1" y1="559.9" x2="822.0" y2="567.0" stroke="#deb880" stroke-width="1.7"/><line x1="830.3" y1="552.7" x2="832.5" y2="552.0" stroke="#dadada" stroke-width="1.7"/><line x1="832.5" y1="552.0" x2="834.8" y2="551.2" stroke="#deb880" stroke-width="1.7"/><line x1="830.3" y1="552.7" x2="822.4" y2="549.0" stroke="#dadada" stroke-width="1.7"/><line x1="822.4" y1="549.0" x2="814.6" y2="545.3" stroke="#deb880" stroke-width="1.7"/><line x1="852.2" y1="559.5" x2="850.1" y2="568.5" stroke="#dadada" stroke-width="1.7"/><line x1="850.1" y1="568.5" x2="848.1" y2="577.4" stroke="#deb880" stroke-width="1.7"/><line x1="852.2" y1="559.5" x2="856.3" y2="552.7" stroke="#dadada" stroke-width="1.7"/><line x1="856.3" y1="552.7" x2="860.5" y2="545.8" stroke="#deb880" stroke-width="1.7"/><line x1="852.2" y1="559.5" x2="860.4" y2="563.2" stroke="#dadada" stroke-width="1.7"/><line x1="860.4" y1="563.2" x2="868.7" y2="567.0" stroke="#deb880" stroke-width="1.7"/><line x1="852.2" y1="559.5" x2="843.5" y2="555.4" stroke="#dadada" stroke-width="1.7"/><line x1="843.5" y1="555.4" x2="834.8" y2="551.2" stroke="#deb880" stroke-width="1.7"/><line x1="852.2" y1="559.5" x2="860.5" y2="563.2" stroke="#dadada" stroke-width="1.7"/><line x1="860.5" y1="563.2" x2="868.7" y2="567.0" stroke="#deb880" stroke-width="1.7"/><line x1="877.0" y1="552.7" x2="868.8" y2="549.2" stroke="#dadada" stroke-width="1.7"/><line x1="868.8" y1="549.2" x2="860.5" y2="545.8" stroke="#deb880" stroke-width="1.7"/><line x1="877.0" y1="552.7" x2="872.8" y2="559.9" stroke="#dadada" stroke-width="1.7"/><line x1="872.8" y1="559.9" x2="868.7" y2="567.0" stroke="#deb880" stroke-width="1.7"/><line x1="877.0" y1="552.7" x2="872.9" y2="559.9" stroke="#dadada" stroke-width="1.7"/><line x1="872.9" y1="559.9" x2="868.7" y2="567.0" stroke="#deb880" stroke-width="1.7"/><line x1="877.0" y1="552.7" x2="879.2" y2="552.0" stroke="#dadada" stroke-width="1.7"/><line x1="879.2" y1="552.0" x2="881.5" y2="551.2" stroke="#deb880" stroke-width="1.7"/><line x1="898.9" y1="559.5" x2="896.8" y2="568.5" stroke="#dadada" stroke-width="1.7"/><line x1="896.8" y1="568.5" x2="894.8" y2="577.4" stroke="#deb880" stroke-width="1.7"/><line x1="898.9" y1="559.5" x2="903.0" y2="552.7" stroke="#dadada" stroke-width="1.7"/><line x1="903.0" y1="552.7" x2="907.2" y2="545.8" stroke="#deb880" stroke-width="1.7"/><line x1="898.9" y1="559.5" x2="907.1" y2="563.2" stroke="#dadada" stroke-width="1.7"/><line x1="907.1" y1="563.2" x2="915.4" y2="567.0" stroke="#deb880" stroke-width="1.7"/><line x1="898.9" y1="559.5" x2="890.2" y2="555.4" stroke="#dadada" stroke-width="1.7"/><line x1="890.2" y1="555.4" x2="881.5" y2="551.2" stroke="#deb880" stroke-width="1.7"/><line x1="898.9" y1="559.5" x2="907.1" y2="563.2" stroke="#dadada" stroke-width="1.7"/><line x1="907.1" y1="563.2" x2="915.4" y2="567.0" stroke="#deb880" stroke-width="1.7"/><line x1="923.7" y1="552.7" x2="915.5" y2="549.2" stroke="#dadada" stroke-width="1.7"/><line x1="915.5" y1="549.2" x2="907.2" y2="545.8" stroke="#deb880" stroke-width="1.7"/><line x1="923.7" y1="552.7" x2="919.5" y2="559.9" stroke="#dadada" stroke-width="1.7"/><line x1="919.5" y1="559.9" x2="915.4" y2="567.0" stroke="#deb880" stroke-width="1.7"/><line x1="923.7" y1="552.7" x2="919.5" y2="559.9" stroke="#dadada" stroke-width="1.7"/><line x1="919.5" y1="559.9" x2="915.4" y2="567.0" stroke="#deb880" stroke-width="1.7"/><line x1="923.7" y1="552.7" x2="925.9" y2="552.0" stroke="#dadada" stroke-width="1.7"/><line x1="925.9" y1="552.0" x2="928.2" y2="551.2" stroke="#deb880" stroke-width="1.7"/><line x1="945.6" y1="559.5" x2="943.5" y2="568.5" stroke="#dadada" stroke-width="1.7"/><line x1="943.5" y1="568.5" x2="941.5" y2="577.4" stroke="#deb880" stroke-width="1.7"/><line x1="945.6" y1="559.5" x2="949.8" y2="552.7" stroke="#dadada" stroke-width="1.7"/><line x1="949.8" y1="552.7" x2="953.9" y2="545.8" stroke="#deb880" stroke-width="1.7"/><line x1="945.6" y1="559.5" x2="953.8" y2="563.2" stroke="#dadada" stroke-width="1.7"/><line x1="953.8" y1="563.2" x2="962.1" y2="567.0" stroke="#deb880" stroke-width="1.7"/><line x1="945.6" y1="559.5" x2="936.9" y2="555.4" stroke="#dadada" stroke-width="1.7"/><line x1="936.9" y1="555.4" x2="928.2" y2="551.2" stroke="#deb880" stroke-width="1.7"/><line x1="945.6" y1="559.5" x2="953.8" y2="563.2" stroke="#dadada" stroke-width="1.7"/><line x1="953.8" y1="563.2" x2="962.1" y2="567.0" stroke="#deb880" stroke-width="1.7"/><line x1="970.4" y1="552.7" x2="962.1" y2="549.2" stroke="#dadada" stroke-width="1.7"/><line x1="962.1" y1="549.2" x2="953.9" y2="545.8" stroke="#deb880" stroke-width="1.7"/><line x1="970.4" y1="552.7" x2="966.2" y2="559.9" stroke="#dadada" stroke-width="1.7"/><line x1="966.2" y1="559.9" x2="962.1" y2="567.0" stroke="#deb880" stroke-width="1.7"/><line x1="970.4" y1="552.7" x2="966.2" y2="559.9" stroke="#dadada" stroke-width="1.7"/><line x1="966.2" y1="559.9" x2="962.1" y2="567.0" stroke="#deb880" stroke-width="1.7"/><line x1="970.4" y1="552.7" x2="972.6" y2="552.0" stroke="#dadada" stroke-width="1.7"/><line x1="972.6" y1="552.0" x2="974.9" y2="551.2" stroke="#deb880" stroke-width="1.7"/><line x1="992.3" y1="559.5" x2="990.2" y2="568.5" stroke="#dadada" stroke-width="1.7"/><line x1="990.2" y1="568.5" x2="988.2" y2="577.4" stroke="#deb880" stroke-width="1.7"/><line x1="992.3" y1="559.5" x2="996.5" y2="552.7" stroke="#dadada" stroke-width="1.7"/><line x1="996.5" y1="552.7" x2="1000.6" y2="545.8" stroke="#deb880" stroke-width="1.7"/><line x1="992.3" y1="559.5" x2="1000.5" y2="563.2" stroke="#dadada" stroke-width="1.7"/><line x1="1000.5" y1="563.2" x2="1008.8" y2="567.0" stroke="#deb880" stroke-width="1.7"/><line x1="992.3" y1="559.5" x2="983.6" y2="555.4" stroke="#dadada" stroke-width="1.7"/><line x1="983.6" y1="555.4" x2="974.9" y2="551.2" stroke="#deb880" stroke-width="1.7"/><line x1="992.3" y1="559.5" x2="1000.8" y2="563.2" stroke="#dadada" stroke-width="1.7"/><line x1="1000.8" y1="563.2" x2="1009.3" y2="567.0" stroke="#deb880" stroke-width="1.7"/><line x1="838.5" y1="592.5" x2="843.3" y2="585.0" stroke="#dadada" stroke-width="1.7"/><line x1="843.3" y1="585.0" x2="848.1" y2="577.4" stroke="#deb880" stroke-width="1.7"/><line x1="838.5" y1="592.5" x2="836.5" y2="592.5" stroke="#dadada" stroke-width="1.7"/><line x1="836.5" y1="592.5" x2="834.4" y2="592.5" stroke="#deb880" stroke-width="1.7"/><line x1="838.5" y1="592.5" x2="846.8" y2="596.2" stroke="#dadada" stroke-width="1.7"/><line x1="846.8" y1="596.2" x2="855.0" y2="599.9" stroke="#deb880" stroke-width="1.7"/><line x1="838.5" y1="592.5" x2="830.2" y2="589.4" stroke="#dadada" stroke-width="1.7"/><line x1="830.2" y1="589.4" x2="822.0" y2="586.2" stroke="#deb880" stroke-width="1.7"/><line x1="864.6" y1="585.6" x2="856.3" y2="581.5" stroke="#dadada" stroke-width="1.7"/><line x1="856.3" y1="581.5" x2="848.1" y2="577.4" stroke="#deb880" stroke-width="1.7"/><line x1="864.6" y1="585.6" x2="859.8" y2="592.8" stroke="#dadada" stroke-width="1.7"/><line x1="859.8" y1="592.8" x2="855.0" y2="599.9" stroke="#deb880" stroke-width="1.7"/><line x1="864.6" y1="585.6" x2="866.6" y2="576.3" stroke="#dadada" stroke-width="1.7"/><line x1="866.6" y1="576.3" x2="868.7" y2="567.0" stroke="#deb880" stroke-width="1.7"/><line x1="864.6" y1="585.6" x2="866.6" y2="576.3" stroke="#dadada" stroke-width="1.7"/><line x1="866.6" y1="576.3" x2="868.7" y2="567.0" stroke="#deb880" stroke-width="1.7"/><line x1="864.6" y1="585.6" x2="872.8" y2="589.0" stroke="#dadada" stroke-width="1.7"/><line x1="872.8" y1="589.0" x2="881.1" y2="592.5" stroke="#deb880" stroke-width="1.7"/><line x1="864.6" y1="585.6" x2="866.6" y2="585.9" stroke="#dadada" stroke-width="1.7"/><line x1="866.6" y1="585.9" x2="868.7" y2="586.2" stroke="#deb880" stroke-width="1.7"/><line x1="885.2" y1="592.5" x2="890.0" y2="585.0" stroke="#dadada" stroke-width="1.7"/><line x1="890.0" y1="585.0" x2="894.8" y2="577.4" stroke="#deb880" stroke-width="1.7"/><line x1="885.2" y1="592.5" x2="883.2" y2="592.5" stroke="#dadada" stroke-width="1.7"/><line x1="883.2" y1="592.5" x2="881.1" y2="592.5" stroke="#deb880" stroke-width="1.7"/><line x1="885.2" y1="592.5" x2="893.5" y2="596.2" stroke="#dadada" stroke-width="1.7"/><line x1="893.5" y1="596.2" x2="901.7" y2="599.9" stroke="#deb880" stroke-width="1.7"/><line x1="885.2" y1="592.5" x2="877.0" y2="589.4" stroke="#dadada" stroke-width="1.7"/><line x1="877.0" y1="589.4" x2="868.7" y2="586.2" stroke="#deb880" stroke-width="1.7"/><line x1="911.3" y1="585.6" x2="903.0" y2="581.5" stroke="#dadada" stroke-width="1.7"/><line x1="903.0" y1="581.5" x2="894.8" y2="577.4" stroke="#deb880" stroke-width="1.7"/><line x1="911.3" y1="585.6" x2="906.5" y2="592.8" stroke="#dadada" stroke-width="1.7"/><line x1="906.5" y1="592.8" x2="901.7" y2="599.9" stroke="#deb880" stroke-width="1.7"/><line x1="911.3" y1="585.6" x2="913.3" y2="576.3" stroke="#dadada" stroke-width="1.7"/><line x1="913.3" y1="576.3" x2="915.4" y2="567.0" stroke="#deb880" stroke-width="1.7"/><line x1="911.3" y1="585.6" x2="913.3" y2="576.3" stroke="#dadada" stroke-width="1.7"/><line x1="913.3" y1="576.3" x2="915.4" y2="567.0" stroke="#deb880" stroke-width="1.7"/><line x1="911.3" y1="585.6" x2="919.5" y2="589.0" stroke="#dadada" stroke-width="1.7"/><line x1="919.5" y1="589.0" x2="927.8" y2="592.5" stroke="#deb880" stroke-width="1.7"/><line x1="911.3" y1="585.6" x2="913.3" y2="585.9" stroke="#dadada" stroke-width="1.7"/><line x1="913.3" y1="585.9" x2="915.4" y2="586.2" stroke="#deb880" stroke-width="1.7"/><line x1="931.9" y1="592.5" x2="936.7" y2="585.0" stroke="#dadada" stroke-width="1.7"/><line x1="936.7" y1="585.0" x2="941.5" y2="577.4" stroke="#deb880" stroke-width="1.7"/><line x1="931.9" y1="592.5" x2="929.8" y2="592.5" stroke="#dadada" stroke-width="1.7"/><line x1="929.8" y1="592.5" x2="927.8" y2="592.5" stroke="#deb880" stroke-width="1.7"/><line x1="931.9" y1="592.5" x2="940.1" y2="596.2" stroke="#dadada" stroke-width="1.7"/><line x1="940.1" y1="596.2" x2="948.4" y2="599.9" stroke="#deb880" stroke-width="1.7"/><line x1="931.9" y1="592.5" x2="923.6" y2="589.4" stroke="#dadada" stroke-width="1.7"/><line x1="923.6" y1="589.4" x2="915.4" y2="586.2" stroke="#deb880" stroke-width="1.7"/><line x1="958.0" y1="585.6" x2="949.7" y2="581.5" stroke="#dadada" stroke-width="1.7"/><line x1="949.7" y1="581.5" x2="941.5" y2="577.4" stroke="#deb880" stroke-width="1.7"/><line x1="958.0" y1="585.6" x2="953.2" y2="592.8" stroke="#dadada" stroke-width="1.7"/><line x1="953.2" y1="592.8" x2="948.4" y2="599.9" stroke="#deb880" stroke-width="1.7"/><line x1="958.0" y1="585.6" x2="960.0" y2="576.3" stroke="#dadada" stroke-width="1.7"/><line x1="960.0" y1="576.3" x2="962.1" y2="567.0" stroke="#deb880" stroke-width="1.7"/><line x1="958.0" y1="585.6" x2="960.0" y2="576.3" stroke="#dadada" stroke-width="1.7"/><line x1="960.0" y1="576.3" x2="962.1" y2="567.0" stroke="#deb880" stroke-width="1.7"/><line x1="958.0" y1="585.6" x2="966.2" y2="589.0" stroke="#dadada" stroke-width="1.7"/><line x1="966.2" y1="589.0" x2="974.5" y2="592.5" stroke="#deb880" stroke-width="1.7"/><line x1="958.0" y1="585.6" x2="960.0" y2="585.9" stroke="#dadada" stroke-width="1.7"/><line x1="960.0" y1="585.9" x2="962.1" y2="586.2" stroke="#deb880" stroke-width="1.7"/><line x1="978.6" y1="592.5" x2="983.4" y2="585.0" stroke="#dadada" stroke-width="1.7"/><line x1="983.4" y1="585.0" x2="988.2" y2="577.4" stroke="#deb880" stroke-width="1.7"/><line x1="978.6" y1="592.5" x2="976.5" y2="592.5" stroke="#dadada" stroke-width="1.7"/><line x1="976.5" y1="592.5" x2="974.5" y2="592.5" stroke="#deb880" stroke-width="1.7"/><line x1="978.6" y1="592.5" x2="986.9" y2="596.2" stroke="#dadada" stroke-width="1.7"/><line x1="986.9" y1="596.2" x2="995.1" y2="599.9" stroke="#deb880" stroke-width="1.7"/><line x1="978.6" y1="592.5" x2="970.4" y2="589.4" stroke="#dadada" stroke-width="1.7"/><line x1="970.4" y1="589.4" x2="962.1" y2="586.2" stroke="#deb880" stroke-width="1.7"/><line x1="1004.7" y1="585.6" x2="996.4" y2="581.5" stroke="#dadada" stroke-width="1.7"/><line x1="996.4" y1="581.5" x2="988.2" y2="577.4" stroke="#deb880" stroke-width="1.7"/><line x1="1004.7" y1="585.6" x2="999.9" y2="592.8" stroke="#dadada" stroke-width="1.7"/><line x1="999.9" y1="592.8" x2="995.1" y2="599.9" stroke="#deb880" stroke-width="1.7"/><line x1="1004.7" y1="585.6" x2="1006.8" y2="576.3" stroke="#dadada" stroke-width="1.7"/><line x1="1006.8" y1="576.3" x2="1008.8" y2="567.0" stroke="#deb880" stroke-width="1.7"/><line x1="1004.7" y1="585.6" x2="1007.0" y2="576.3" stroke="#dadada" stroke-width="1.7"/><line x1="1007.0" y1="576.3" x2="1009.3" y2="567.0" stroke="#deb880" stroke-width="1.7"/><line x1="1004.7" y1="585.6" x2="1010.8" y2="588.9" stroke="#dadada" stroke-width="1.7"/><line x1="1010.8" y1="588.9" x2="1016.8" y2="592.2" stroke="#deb880" stroke-width="1.7"/><circle cx="838.5" cy="592.5" r="5.6" fill="url(#gTi2)"/><circle cx="864.6" cy="585.6" r="5.6" fill="url(#gTi2)"/><circle cx="885.2" cy="592.5" r="5.6" fill="url(#gTi2)"/><circle cx="911.3" cy="585.6" r="5.6" fill="url(#gTi2)"/><circle cx="931.9" cy="592.5" r="5.6" fill="url(#gTi2)"/><circle cx="958.0" cy="585.6" r="5.6" fill="url(#gTi2)"/><circle cx="978.6" cy="592.5" r="5.6" fill="url(#gTi2)"/><circle cx="1004.7" cy="585.6" r="5.6" fill="url(#gTi2)"/><circle cx="830.3" cy="552.7" r="5.6" fill="url(#gTi2)"/><circle cx="852.2" cy="559.5" r="5.6" fill="url(#gTi2)"/><circle cx="877.0" cy="552.7" r="5.6" fill="url(#gTi2)"/><circle cx="898.9" cy="559.5" r="5.6" fill="url(#gTi2)"/><circle cx="923.7" cy="552.7" r="5.6" fill="url(#gTi2)"/><circle cx="945.6" cy="559.5" r="5.6" fill="url(#gTi2)"/><circle cx="970.4" cy="552.7" r="5.6" fill="url(#gTi2)"/><circle cx="992.3" cy="559.5" r="5.6" fill="url(#gTi2)"/><circle cx="822.0" cy="567.0" r="2.5" fill="url(#gO2)"/><circle cx="848.1" cy="577.4" r="2.5" fill="url(#gO2)"/><circle cx="834.4" cy="592.5" r="2.5" fill="url(#gO2)"/><circle cx="855.0" cy="599.9" r="2.5" fill="url(#gO2)"/><circle cx="860.5" cy="545.8" r="2.5" fill="url(#gO2)"/><circle cx="868.7" cy="567.0" r="2.5" fill="url(#gO2)"/><circle cx="822.0" cy="586.2" r="2.5" fill="url(#gO2)"/><circle cx="834.8" cy="551.2" r="2.5" fill="url(#gO2)"/><circle cx="868.7" cy="567.0" r="2.5" fill="url(#gO2)"/><circle cx="894.8" cy="577.4" r="2.5" fill="url(#gO2)"/><circle cx="881.1" cy="592.5" r="2.5" fill="url(#gO2)"/><circle cx="901.7" cy="599.9" r="2.5" fill="url(#gO2)"/><circle cx="907.2" cy="545.8" r="2.5" fill="url(#gO2)"/><circle cx="915.4" cy="567.0" r="2.5" fill="url(#gO2)"/><circle cx="868.7" cy="586.2" r="2.5" fill="url(#gO2)"/><circle cx="881.5" cy="551.2" r="2.5" fill="url(#gO2)"/><circle cx="915.4" cy="567.0" r="2.5" fill="url(#gO2)"/><circle cx="941.5" cy="577.4" r="2.5" fill="url(#gO2)"/><circle cx="927.8" cy="592.5" r="2.5" fill="url(#gO2)"/><circle cx="948.4" cy="599.9" r="2.5" fill="url(#gO2)"/><circle cx="953.9" cy="545.8" r="2.5" fill="url(#gO2)"/><circle cx="962.1" cy="567.0" r="2.5" fill="url(#gO2)"/><circle cx="915.4" cy="586.2" r="2.5" fill="url(#gO2)"/><circle cx="928.2" cy="551.2" r="2.5" fill="url(#gO2)"/><circle cx="962.1" cy="567.0" r="2.5" fill="url(#gO2)"/><circle cx="988.2" cy="577.4" r="2.5" fill="url(#gO2)"/><circle cx="974.5" cy="592.5" r="2.5" fill="url(#gO2)"/><circle cx="995.1" cy="599.9" r="2.5" fill="url(#gO2)"/><circle cx="1000.6" cy="545.8" r="2.5" fill="url(#gO2)"/><circle cx="1008.8" cy="567.0" r="2.5" fill="url(#gO2)"/><circle cx="962.1" cy="586.2" r="2.5" fill="url(#gO2)"/><circle cx="974.9" cy="551.2" r="2.5" fill="url(#gO2)"/><circle cx="814.6" cy="545.3" r="2.5" fill="url(#gO2)"/><circle cx="1009.3" cy="567.0" r="2.5" fill="url(#gO2)"/><circle cx="1016.8" cy="592.2" r="2.5" fill="url(#gO2)"/><ellipse cx="885" cy="545" rx="10" ry="7" transform="rotate(0 885 545)" fill="#8C9CC4" fill-opacity="0.8"/><ellipse cx="915" cy="552" rx="8" ry="8" transform="rotate(0 915 552)" fill="#8C9CC4" fill-opacity="0.8"/><ellipse cx="905" cy="520" rx="6" ry="6" transform="rotate(0 905 520)" fill="#8C9CC4" fill-opacity="0.8"/><ellipse cx="866" cy="543" rx="6" ry="5" transform="rotate(0 866 543)" fill="#8C9CC4" fill-opacity="0.8"/><ellipse cx="950" cy="553" rx="4" ry="4" transform="rotate(0 950 553)" fill="#8C9CC4" fill-opacity="0.8"/><ellipse cx="937" cy="531" rx="6" ry="6" transform="rotate(0 937 531)" fill="#8C9CC4" fill-opacity="0.8"/><ellipse cx="873" cy="528" rx="9" ry="10.5" transform="rotate(0 873 528)" fill="#8C9CC4" fill-opacity="0.8"/><ellipse cx="889" cy="524" rx="6" ry="6" transform="rotate(0 889 524)" fill="#8C9CC4" fill-opacity="0.8"/><ellipse cx="928" cy="545" rx="15.5" ry="17" transform="rotate(0 928 545)" fill="#8C9CC4" fill-opacity="0.8"/><ellipse cx="856" cy="550" rx="5" ry="5" transform="rotate(0 856 550)" fill="#8C9CC4" fill-opacity="0.8"/><ellipse cx="944" cy="558" rx="5.5" ry="5" transform="rotate(0 944 558)" fill="#8C9CC4" fill-opacity="0.8"/><ellipse cx="898" cy="563" rx="6" ry="5" transform="rotate(0 898 563)" fill="#8C9CC4" fill-opacity="0.8"/><ellipse cx="886" cy="507" rx="3.5" ry="4" transform="rotate(0 886 507)" fill="#8C9CC4" fill-opacity="0.8"/><ellipse cx="912" cy="532" rx="6" ry="8" transform="rotate(0 912 532)" fill="#8C9CC4" fill-opacity="0.8"/><ellipse cx="880" cy="552" rx="6" ry="5" transform="rotate(0 880 552)" fill="#8C9CC4" fill-opacity="0.8"/><ellipse cx="899" cy="538" rx="11" ry="16.5" transform="rotate(0 899 538)" fill="#E052E2" fill-opacity="0.85"/><ellipse cx="870" cy="538" rx="11" ry="5.5" transform="rotate(8 870 538)" fill="#E052E2" fill-opacity="0.85"/><ellipse cx="927.8" cy="544.4" rx="7" ry="8" transform="rotate(0 927.8 544.4)" fill="#E052E2" fill-opacity="0.85"/><ellipse cx="884" cy="509" rx="4" ry="5.5" transform="rotate(0 884 509)" fill="#E052E2" fill-opacity="0.85"/><ellipse cx="881" cy="530" rx="4.5" ry="4.5" transform="rotate(0 881 530)" fill="#E052E2" fill-opacity="0.85"/><ellipse cx="867" cy="566" rx="2.5" ry="2.5" transform="rotate(0 867 566)" fill="#E052E2" fill-opacity="0.85"/><ellipse cx="895" cy="576" rx="2.5" ry="3.5" transform="rotate(0 895 576)" fill="#E052E2" fill-opacity="0.85"/><ellipse cx="914" cy="565" rx="3" ry="3" transform="rotate(0 914 565)" fill="#E052E2" fill-opacity="0.85"/><ellipse cx="944" cy="552" rx="3" ry="3" transform="rotate(0 944 552)" fill="#E052E2" fill-opacity="0.85"/><ellipse cx="955" cy="546" rx="3" ry="3" transform="rotate(0 955 546)" fill="#E052E2" fill-opacity="0.85"/><ellipse cx="893" cy="518" rx="4" ry="4" transform="rotate(0 893 518)" fill="#E052E2" fill-opacity="0.85"/><polyline points="874.9,528.8 887,525 890.8,511.9 896.7,532.8 885,531" fill="none" stroke="#20D8E0" stroke-width="1.2"/><circle cx="890.8" cy="511.9" r="3.2" fill="url(#gPt)"/><circle cx="874.9" cy="528.8" r="3.2" fill="url(#gPt)"/><circle cx="896.7" cy="532.8" r="3.2" fill="url(#gPt)"/><rect x="752.5" y="378.6" width="302.9" height="236.5" fill="none" stroke="#000" stroke-width="2.8"/><text x="767.5" y="365.8" font-size="42" >f</text><text x="785.5" y="395.8" font-size="16" text-anchor="middle" textLength="12.5" lengthAdjust="spacingAndGlyphs" >Ti</text><circle cx="786.6" cy="409.4" r="8.1" fill="url(#gTi)"/><text x="786.5" y="458.7" font-size="16" text-anchor="middle" textLength="17.5" lengthAdjust="spacingAndGlyphs" >Pt</text><circle cx="786.2" cy="474.9" r="8.0" fill="url(#gPt)"/><text x="786.5" y="512" font-size="16" text-anchor="middle" textLength="12" lengthAdjust="spacingAndGlyphs" >O</text><circle cx="786.2" cy="525.7" r="5.4" fill="url(#gO)"/><text x="786.5" y="572" font-size="16" text-anchor="middle" textLength="11" lengthAdjust="spacingAndGlyphs" >B</text><circle cx="786.2" cy="584.0" r="5.4" fill="url(#gB)"/><text x="955" y="398.9" font-size="17" textLength="90" lengthAdjust="spacingAndGlyphs" >Pt<tspan font-size="11" dy="2.6" font-weight="bold">SA/NP</tspan><tspan dy="-2.6">-TiO</tspan><tspan font-size="11" dy="2.6" font-weight="bold">2</tspan></text><text x="928.8" y="511.5" font-size="17" textLength="118" lengthAdjust="spacingAndGlyphs" >Pt<tspan font-size="11" dy="2.6" font-weight="bold">SA/NP</tspan><tspan dy="-2.6">-TiO</tspan><tspan font-size="11" dy="2.6" font-weight="bold">2-x</tspan><tspan dy="-2.6">B</tspan><tspan font-size="11" dy="2.6" font-weight="bold">x</tspan></text><clipPath id="gclip"><rect x="81.3" y="684.2" width="284.09999999999997" height="228.5999999999999"/></clipPath><g clip-path="url(#gclip)" stroke-linejoin="round"><polyline points="81.3,783.3 82.1,783.9 82.9,786.5 83.7,786.4 84.5,782.3 85.2,782.8 86.0,783.0 86.8,785.3 87.6,783.0 88.4,781.1 89.2,779.9 90.0,785.1 90.8,786.2 91.6,786.3 92.3,785.3 93.1,770.8 93.9,780.6 94.7,783.9 95.5,778.8 96.3,774.9 97.1,777.9 97.9,777.1 98.7,763.6 99.5,781.7 100.2,783.6 101.0,785.6 101.8,781.7 102.6,782.1 103.4,781.9 104.2,781.1 105.0,763.4 105.8,785.2 106.6,783.4 107.3,785.2 108.1,783.5 108.9,779.7 109.7,779.9 110.5,776.9 111.3,784.1 112.1,783.2 112.9,783.5 113.7,784.1 114.4,784.6 115.2,785.0 116.0,781.6 116.8,781.8 117.6,784.7 118.4,782.5 119.2,784.1 120.0,773.2 120.8,764.3 121.5,778.6 122.3,781.7 123.1,783.0 123.9,784.1 124.7,782.3 125.5,778.1 126.3,775.6 127.1,778.6 127.9,781.3 128.7,782.5 129.4,783.4 130.2,766.6 131.0,779.4 131.8,782.8 132.6,780.2 133.4,777.8 134.2,778.8 135.0,769.3 135.8,778.6 136.5,783.2 137.3,766.7 138.1,780.3 138.9,781.8 139.7,781.2 140.5,781.1 141.3,779.5 142.1,776.9 142.9,779.8 143.6,781.0 144.4,782.8 145.2,781.8 146.0,779.9 146.8,781.3 147.6,769.4 148.4,777.2 149.2,771.1 150.0,781.5 150.7,780.0 151.5,780.6 152.3,782.0 153.1,779.2 153.9,779.3 154.7,778.8 155.5,782.5 156.3,782.3 157.1,781.2 157.8,781.0 158.6,778.7 159.4,779.7 160.2,778.0 161.0,781.0 161.8,778.2 162.6,778.9 163.4,774.8 164.2,778.5 165.0,778.5 165.7,779.5 166.5,780.9 167.3,779.6 168.1,775.2 168.9,778.8 169.7,780.3 170.5,774.8 171.3,778.1 172.1,779.0 172.8,776.3 173.6,752.8 174.4,780.2 175.2,780.4 176.0,709.3 176.8,764.5 177.6,777.0 178.4,779.0 179.2,759.7 179.9,776.4 180.7,779.9 181.5,777.3 182.3,779.4 183.1,777.0 183.9,775.6 184.7,777.5 185.5,779.6 186.3,779.6 187.0,776.5 187.8,778.7 188.6,779.7 189.4,778.6 190.2,778.8 191.0,779.3 191.8,776.4 192.6,776.3 193.4,750.5 194.2,772.5 194.9,775.6 195.7,777.7 196.5,769.0 197.3,773.6 198.1,774.5 198.9,774.8 199.7,779.6 200.5,779.5 201.3,771.2 202.0,777.5 202.8,776.6 203.6,773.8 204.4,774.8 205.2,798.7 206.0,787.2 206.8,798.7 207.6,798.7 208.4,784.9 209.1,798.7 209.9,790.7 210.7,798.7 211.5,798.7 212.3,786.1 213.1,798.7 213.9,798.7 214.7,788.4 215.5,798.7 216.2,798.7 217.0,798.7 217.8,798.7 218.6,798.7 219.4,790.7 220.2,798.7 221.0,798.7 221.8,784.9 222.6,798.7 223.4,786.1 224.1,798.7 224.9,798.7 225.7,798.7 226.5,798.7 227.3,798.7 228.1,793.0 228.9,798.7 229.7,798.7 230.5,798.7 231.2,798.7 232.0,682.9 232.8,798.7 233.6,798.7 234.4,798.7 235.2,798.7 236.0,716.2 236.8,798.7 237.6,798.7 238.3,798.7 239.1,798.7 239.9,798.7 240.7,798.7 241.5,798.7 242.3,798.7 243.1,798.7 243.9,798.7 244.7,798.7 245.4,798.7 246.2,798.7 247.0,798.7 247.8,791.8 248.6,798.7 249.4,798.7 250.2,798.7 251.0,798.7 251.8,798.7 252.5,798.7 253.3,798.7 254.1,798.7 254.9,798.7 255.7,798.7 256.5,798.7 257.3,798.7 258.1,798.7 258.9,798.7 259.7,798.7 260.4,798.7 261.2,798.7 262.0,798.7 262.8,798.7 263.6,798.7 264.4,798.7 265.2,798.7 266.0,798.7 266.8,798.7 267.5,798.7 268.3,798.7 269.1,798.7 269.9,798.7 270.7,798.7 271.5,798.7 272.3,798.7 273.1,798.7 273.9,798.7 274.6,798.7 275.4,798.7 276.2,798.7 277.0,798.7 277.8,798.3 278.6,798.0 279.4,789.5 280.2,797.3 281.0,797.0 281.7,796.6 282.5,796.3 283.3,791.8 284.1,796.3 284.9,796.0 285.7,795.9 286.5,795.2 287.3,795.3 288.1,795.2 288.9,794.7 289.6,793.8 290.4,793.8 291.2,793.7 292.0,792.8 292.8,791.4 293.6,790.3 294.4,790.3 295.2,789.9 296.0,758.8 296.7,758.0 297.5,760.6 298.3,760.0 299.1,757.5 299.9,755.1 300.7,758.8 301.5,759.9 302.3,762.8 303.1,759.0 303.8,762.5 304.6,758.5 305.4,760.9 306.2,758.5 307.0,765.1 307.8,766.0 308.6,768.6 309.4,769.3 310.2,770.5 310.9,772.1 311.7,769.3 312.5,767.9 313.3,769.7 314.1,767.0 314.9,765.2 315.7,762.3 316.5,761.7 317.3,762.2 318.1,761.1 318.8,764.5 319.6,768.0 320.4,765.6 321.2,760.3 322.0,753.7 322.8,752.8 323.6,751.3 324.4,755.4 325.2,755.7 325.9,756.2 326.7,755.2 327.5,754.6 328.3,760.5 329.1,762.9 329.9,771.2 330.7,771.1 331.5,770.1 332.3,767.3 333.0,769.0 333.8,770.1 334.6,772.0 335.4,775.4 336.2,776.4 337.0,775.5 337.8,769.5 338.6,770.6 339.4,771.2 340.1,776.9 340.9,778.5 341.7,779.9 342.5,776.1 343.3,774.1 344.1,772.3 344.9,798.7" fill="none" stroke="#BDE9FC" stroke-width="1.8" /><polyline points="81.3,814.2 82.1,818.2 82.9,825.6 83.7,821.2 84.5,816.7 85.2,815.9 86.0,816.6 86.8,818.7 87.6,813.1 88.4,817.7 89.2,820.3 90.0,813.0 90.8,816.0 91.6,815.3 92.3,813.6 93.1,835.4 93.9,816.5 94.7,817.9 95.5,818.3 96.3,818.4 97.1,820.3 97.9,817.5 98.7,818.5 99.5,813.9 100.2,816.4 101.0,837.7 101.8,819.6 102.6,830.4 103.4,836.2 104.2,817.4 105.0,814.8 105.8,815.6 106.6,816.7 107.3,831.8 108.1,833.8 108.9,814.4 109.7,819.1 110.5,815.3 111.3,814.8 112.1,818.3 112.9,816.7 113.7,815.0 114.4,814.6 115.2,816.6 116.0,815.0 116.8,817.9 117.6,819.8 118.4,815.2 119.2,814.6 120.0,833.4 120.8,844.6 121.5,816.4 122.3,816.5 123.1,815.1 123.9,835.3 124.7,819.3 125.5,817.8 126.3,838.8 127.1,817.4 127.9,816.4 128.7,815.2 129.4,817.7 130.2,840.0 131.0,821.5 131.8,821.4 132.6,821.2 133.4,820.8 134.2,819.7 135.0,822.9 135.8,836.3 136.5,816.5 137.3,836.0 138.1,821.6 138.9,816.9 139.7,817.3 140.5,815.8 141.3,817.1 142.1,820.8 142.9,819.4 143.6,819.5 144.4,818.1 145.2,820.5 146.0,817.4 146.8,817.7 147.6,817.9 148.4,818.2 149.2,819.0 150.0,817.5 150.7,816.4 151.5,816.7 152.3,816.4 153.1,816.7 153.9,818.1 154.7,817.2 155.5,818.4 156.3,818.6 157.1,821.2 157.8,834.9 158.6,817.8 159.4,820.0 160.2,816.8 161.0,817.7 161.8,833.1 162.6,819.8 163.4,821.2 164.2,822.4 165.0,818.2 165.7,830.7 166.5,832.4 167.3,818.8 168.1,817.3 168.9,822.0 169.7,818.6 170.5,819.9 171.3,818.4 172.1,821.3 172.8,818.4 173.6,823.8 174.4,820.8 175.2,818.1 176.0,822.4 176.8,820.3 177.6,844.6 178.4,817.9 179.2,821.6 179.9,824.2 180.7,824.1 181.5,818.1 182.3,820.1 183.1,819.1 183.9,820.3 184.7,820.4 185.5,821.4 186.3,825.2 187.0,824.6 187.8,819.6 188.6,841.3 189.4,821.4 190.2,819.5 191.0,824.9 191.8,829.0 192.6,822.5 193.4,818.9 194.2,820.0 194.9,818.8 195.7,823.4 196.5,823.0 197.3,824.6 198.1,824.4 198.9,824.0 199.7,824.2 200.5,820.1 201.3,820.5 202.0,819.3 202.8,819.9 203.6,820.8 204.4,820.2 205.2,798.7 206.0,810.1 206.8,798.7 207.6,798.7 208.4,798.7 209.1,806.3 209.9,798.7 210.7,816.4 211.5,798.7 212.3,798.7 213.1,808.8 213.9,798.7 214.7,836.5 215.5,829.0 216.2,798.7 217.0,813.8 217.8,798.7 218.6,798.7 219.4,798.7 220.2,808.8 221.0,798.7 221.8,798.7 222.6,798.7 223.4,798.7 224.1,798.7 224.9,810.1 225.7,798.7 226.5,798.7 227.3,813.8 228.1,798.7 228.9,798.7 229.7,798.7 230.5,808.8 231.2,798.7 232.0,798.7 232.8,798.7 233.6,798.7 234.4,798.7 235.2,798.7 236.0,798.7 236.8,798.7 237.6,808.8 238.3,798.7 239.1,798.7 239.9,798.7 240.7,798.7 241.5,798.7 242.3,798.7 243.1,798.7 243.9,798.7 244.7,798.7 245.4,798.7 246.2,798.7 247.0,798.7 247.8,798.7 248.6,798.7 249.4,798.7 250.2,807.5 251.0,798.7 251.8,798.7 252.5,798.7 253.3,798.7 254.1,798.7 254.9,798.7 255.7,798.7 256.5,798.7 257.3,798.7 258.1,798.7 258.9,798.7 259.7,798.7 260.4,798.7 261.2,798.7 262.0,798.7 262.8,798.7 263.6,798.7 264.4,798.7 265.2,798.7 266.0,798.7 266.8,798.7 267.5,798.7 268.3,798.7 269.1,798.7 269.9,798.7 270.7,798.7 271.5,798.7 272.3,807.5 273.1,798.7 273.9,798.7 274.6,808.8 275.4,798.7 276.2,798.7 277.0,798.7 277.8,799.1 278.6,799.9 279.4,799.9 280.2,800.3 281.0,801.1 281.7,801.3 282.5,801.6 283.3,801.9 284.1,802.4 284.9,802.9 285.7,803.6 286.5,803.4 287.3,807.0 288.1,804.2 288.9,805.0 289.6,805.0 290.4,805.8 291.2,806.1 292.0,807.0 292.8,806.6 293.6,807.5 294.4,812.6 295.2,808.3 296.0,849.7 296.7,866.3 297.5,844.2 298.3,847.2 299.1,841.9 299.9,841.8 300.7,844.3 301.5,854.1 302.3,854.7 303.1,859.3 303.8,845.9 304.6,843.1 305.4,854.1 306.2,851.7 307.0,852.7 307.8,856.6 308.6,845.9 309.4,846.6 310.2,850.7 310.9,848.5 311.7,845.7 312.5,853.9 313.3,843.4 314.1,843.9 314.9,841.9 315.7,843.3 316.5,858.7 317.3,842.7 318.1,842.0 318.8,844.7 319.6,851.7 320.4,848.5 321.2,856.0 322.0,868.4 322.8,857.6 323.6,845.3 324.4,846.5 325.2,855.2 325.9,849.0 326.7,850.3 327.5,844.4 328.3,848.2 329.1,847.3 329.9,843.8 330.7,839.3 331.5,837.7 332.3,836.3 333.0,835.7 333.8,835.7 334.6,855.9 335.4,838.5 336.2,834.8 337.0,832.5 337.8,832.0 338.6,829.5 339.4,830.2 340.1,829.8 340.9,828.4 341.7,840.5 342.5,826.1 343.3,824.8 344.1,826.4 344.9,798.7" fill="none" stroke="#BDE9FC" stroke-width="1.8" /><polyline points="81.3,790.3 82.1,790.6 82.9,789.2 83.7,791.0 84.5,790.3 85.2,792.1 86.0,791.1 86.8,791.8 87.6,791.7 88.4,792.4 89.2,791.6 90.0,792.5 90.8,789.4 91.6,791.9 92.3,787.2 93.1,790.6 93.9,788.0 94.7,792.3 95.5,791.6 96.3,791.1 97.1,792.1 97.9,790.9 98.7,787.0 99.5,786.5 100.2,791.4 101.0,789.0 101.8,789.0 102.6,787.0 103.4,787.5 104.2,788.8 105.0,778.1 105.8,791.4 106.6,791.5 107.3,792.1 108.1,789.4 108.9,791.1 109.7,791.6 110.5,791.6 111.3,791.5 112.1,792.0 112.9,790.2 113.7,791.3 114.4,788.8 115.2,790.6 116.0,789.7 116.8,789.6 117.6,769.9 118.4,773.0 119.2,789.5 120.0,791.6 120.8,778.1 121.5,791.4 122.3,790.4 123.1,789.1 123.9,790.2 124.7,790.1 125.5,789.5 126.3,790.2 127.1,789.2 127.9,787.0 128.7,787.3 129.4,790.9 130.2,782.6 131.0,785.9 131.8,789.7 132.6,789.6 133.4,787.4 134.2,790.5 135.0,788.7 135.8,788.6 136.5,789.2 137.3,788.6 138.1,790.1 138.9,789.5 139.7,788.7 140.5,777.3 141.3,790.3 142.1,785.7 142.9,786.0 143.6,787.6 144.4,788.8 145.2,786.3 146.0,787.0 146.8,787.0 147.6,788.9 148.4,787.9 149.2,788.3 150.0,789.0 150.7,788.0 151.5,785.4 152.3,783.3 153.1,779.9 153.9,780.9 154.7,782.8 155.5,787.4 156.3,787.2 157.1,789.4 157.8,788.2 158.6,788.8 159.4,789.0 160.2,787.7 161.0,786.6 161.8,786.0 162.6,789.6 163.4,785.2 164.2,786.0 165.0,789.8 165.7,788.6 166.5,788.8 167.3,787.1 168.1,786.2 168.9,784.0 169.7,785.2 170.5,788.7 171.3,789.3 172.1,787.4 172.8,786.8 173.6,762.0 174.4,786.2 175.2,787.1 176.0,741.4 176.8,786.2 177.6,786.7 178.4,787.5 179.2,771.2 179.9,784.2 180.7,785.6 181.5,786.8 182.3,785.2 183.1,788.5 183.9,786.4 184.7,787.3 185.5,784.5 186.3,788.7 187.0,784.2 187.8,783.2 188.6,785.2 189.4,784.7 190.2,785.6 191.0,787.8 191.8,788.3 192.6,787.1 193.4,764.3 194.2,786.0 194.9,785.8 195.7,783.8 196.5,782.5 197.3,782.5 198.1,779.4 198.9,782.9 199.7,783.9 200.5,788.0 201.3,778.1 202.0,785.7 202.8,785.2 203.6,787.5 204.4,784.6 205.2,798.7 206.0,798.7 206.8,798.7 207.6,798.7 208.4,798.7 209.1,798.7 209.9,798.7 210.7,798.7 211.5,798.7 212.3,798.7 213.1,798.7 213.9,798.7 214.7,798.7 215.5,798.7 216.2,798.7 217.0,798.7 217.8,798.7 218.6,798.7 219.4,798.7 220.2,798.7 221.0,798.7 221.8,798.7 222.6,798.7 223.4,798.7 224.1,798.7 224.9,798.7 225.7,798.7 226.5,798.7 227.3,798.7 228.1,798.7 228.9,798.7 229.7,798.7 230.5,798.7 231.2,798.7 232.0,798.7 232.8,798.7 233.6,798.7 234.4,798.7 235.2,798.7 236.0,798.7 236.8,798.7 237.6,798.7 238.3,798.7 239.1,798.7 239.9,798.7 240.7,798.7 241.5,798.7 242.3,798.7 243.1,798.7 243.9,798.7 244.7,798.7 245.4,798.7 246.2,798.7 247.0,798.7 247.8,798.7 248.6,798.7 249.4,798.7 250.2,798.7 251.0,798.7 251.8,798.7 252.5,798.7 253.3,798.7 254.1,798.7 254.9,798.7 255.7,798.7 256.5,798.7 257.3,798.7 258.1,798.7 258.9,798.7 259.7,798.7 260.4,798.7 261.2,798.7 262.0,798.7 262.8,798.7 263.6,798.7 264.4,798.7 265.2,798.7 266.0,798.7 266.8,798.7 267.5,798.7 268.3,798.7 269.1,798.7 269.9,798.7 270.7,798.7 271.5,798.7 272.3,798.7 273.1,798.7 273.9,798.7 274.6,798.7 275.4,798.7 276.2,798.7 277.0,798.7 277.8,798.6 278.6,798.5 279.4,798.3 280.2,798.4 281.0,798.2 281.7,798.0 282.5,798.1 283.3,797.8 284.1,797.7 284.9,797.8 285.7,797.7 286.5,797.4 287.3,797.4 288.1,797.4 288.9,797.0 289.6,796.7 290.4,796.8 291.2,796.7 292.0,797.1 292.8,796.8 293.6,796.4 294.4,796.6 295.2,795.8 296.0,795.0 296.7,795.2 297.5,795.8 298.3,796.4 299.1,796.0 299.9,795.3 300.7,796.2 301.5,795.7 302.3,796.2 303.1,795.7 303.8,796.2 304.6,795.9 305.4,796.1 306.2,796.4 307.0,796.2 307.8,795.7 308.6,795.8 309.4,796.3 310.2,796.4 310.9,796.2 311.7,796.4 312.5,795.8 313.3,794.9 314.1,795.7 314.9,795.9 315.7,795.9 316.5,795.7 317.3,796.1 318.1,795.8 318.8,796.0 319.6,796.0 320.4,796.3 321.2,795.1 322.0,795.3 322.8,796.3 323.6,795.1 324.4,794.4 325.2,795.3 325.9,796.2 326.7,795.3 327.5,796.0 328.3,796.3 329.1,796.1 329.9,796.3 330.7,796.3 331.5,795.9 332.3,796.3 333.0,796.1 333.8,796.0 334.6,796.2 335.4,795.9 336.2,796.4 337.0,795.7 337.8,796.3 338.6,795.3 339.4,794.9 340.1,795.7 340.9,796.4 341.7,796.0 342.5,796.3 343.3,796.4 344.1,796.3 344.9,798.7" fill="none" stroke="#F3E963" stroke-width="1.8" /><polyline points="81.3,807.2 82.1,808.9 82.9,811.3 83.7,808.9 84.5,809.2 85.2,806.3 86.0,808.0 86.8,811.6 87.6,810.1 88.4,806.8 89.2,807.9 90.0,807.7 90.8,809.1 91.6,807.8 92.3,808.6 93.1,812.5 93.9,826.2 94.7,807.9 95.5,806.5 96.3,808.2 97.1,806.4 97.9,807.4 98.7,806.7 99.5,806.6 100.2,808.9 101.0,807.1 101.8,811.3 102.6,813.0 103.4,810.7 104.2,807.0 105.0,806.5 105.8,807.1 106.6,825.3 107.3,811.1 108.1,830.8 108.9,810.3 109.7,808.3 110.5,806.8 111.3,810.6 112.1,808.8 112.9,809.6 113.7,807.6 114.4,808.5 115.2,809.7 116.0,808.4 116.8,807.6 117.6,806.8 118.4,808.0 119.2,810.0 120.0,807.8 120.8,833.1 121.5,814.2 122.3,828.4 123.1,810.7 123.9,807.9 124.7,808.8 125.5,808.6 126.3,812.2 127.1,811.3 127.9,807.6 128.7,809.0 129.4,807.4 130.2,826.2 131.0,808.4 131.8,810.8 132.6,807.6 133.4,808.1 134.2,809.4 135.0,807.2 135.8,807.7 136.5,807.9 137.3,807.3 138.1,809.0 138.9,808.8 139.7,807.5 140.5,807.3 141.3,808.5 142.1,808.1 142.9,810.1 143.6,811.0 144.4,812.2 145.2,813.7 146.0,814.1 146.8,811.7 147.6,808.3 148.4,808.0 149.2,808.7 150.0,824.1 150.7,808.8 151.5,808.3 152.3,809.7 153.1,809.9 153.9,807.7 154.7,809.8 155.5,807.8 156.3,808.3 157.1,807.8 157.8,809.2 158.6,810.0 159.4,808.4 160.2,811.2 161.0,812.9 161.8,819.3 162.6,810.2 163.4,809.7 164.2,810.3 165.0,809.5 165.7,812.6 166.5,811.5 167.3,809.2 168.1,809.9 168.9,808.7 169.7,808.5 170.5,810.1 171.3,809.4 172.1,820.2 172.8,811.2 173.6,811.3 174.4,815.0 175.2,827.4 176.0,812.2 176.8,809.2 177.6,830.8 178.4,808.9 179.2,810.4 179.9,808.5 180.7,808.4 181.5,809.9 182.3,826.9 183.1,808.5 183.9,808.7 184.7,809.5 185.5,809.0 186.3,810.0 187.0,811.1 187.8,810.9 188.6,809.4 189.4,811.2 190.2,811.2 191.0,809.2 191.8,811.3 192.6,812.9 193.4,809.0 194.2,810.6 194.9,812.0 195.7,811.4 196.5,813.4 197.3,811.1 198.1,810.7 198.9,811.3 199.7,813.6 200.5,814.7 201.3,815.2 202.0,809.4 202.8,809.3 203.6,811.0 204.4,811.2 205.2,798.7 206.0,798.7 206.8,798.7 207.6,798.7 208.4,798.7 209.1,798.7 209.9,798.7 210.7,798.7 211.5,798.7 212.3,798.7 213.1,798.7 213.9,798.7 214.7,798.7 215.5,798.7 216.2,798.7 217.0,798.7 217.8,798.7 218.6,798.7 219.4,798.7 220.2,798.7 221.0,798.7 221.8,798.7 222.6,798.7 223.4,798.7 224.1,798.7 224.9,798.7 225.7,798.7 226.5,798.7 227.3,798.7 228.1,798.7 228.9,798.7 229.7,798.7 230.5,798.7 231.2,798.7 232.0,798.7 232.8,798.7 233.6,798.7 234.4,798.7 235.2,798.7 236.0,798.7 236.8,798.7 237.6,798.7 238.3,798.7 239.1,798.7 239.9,798.7 240.7,798.7 241.5,798.7 242.3,798.7 243.1,798.7 243.9,798.7 244.7,798.7 245.4,798.7 246.2,798.7 247.0,798.7 247.8,798.7 248.6,798.7 249.4,798.7 250.2,798.7 251.0,798.7 251.8,798.7 252.5,798.7 253.3,798.7 254.1,798.7 254.9,798.7 255.7,798.7 256.5,798.7 257.3,798.7 258.1,798.7 258.9,798.7 259.7,798.7 260.4,798.7 261.2,798.7 262.0,798.7 262.8,798.7 263.6,798.7 264.4,798.7 265.2,798.7 266.0,798.7 266.8,798.7 267.5,798.7 268.3,798.7 269.1,798.7 269.9,798.7 270.7,798.7 271.5,798.7 272.3,798.7 273.1,798.7 273.9,798.7 274.6,798.7 275.4,798.7 276.2,798.7 277.0,798.7 277.8,798.9 278.6,798.9 279.4,799.0 280.2,799.1 281.0,799.3 281.7,799.4 282.5,799.3 283.3,799.5 284.1,799.6 284.9,799.6 285.7,799.8 286.5,799.7 287.3,799.8 288.1,800.3 288.9,800.3 289.6,800.9 290.4,800.9 291.2,801.2 292.0,800.6 292.8,800.5 293.6,800.8 294.4,801.0 295.2,801.2 296.0,801.1 296.7,801.3 297.5,801.4 298.3,801.2 299.1,801.1 299.9,801.6 300.7,802.0 301.5,802.0 302.3,801.3 303.1,801.5 303.8,801.0 304.6,801.2 305.4,801.3 306.2,801.2 307.0,801.4 307.8,801.4 308.6,801.4 309.4,801.8 310.2,801.8 310.9,802.1 311.7,802.2 312.5,802.0 313.3,801.5 314.1,801.4 314.9,801.1 315.7,801.8 316.5,801.1 317.3,801.2 318.1,801.9 318.8,801.4 319.6,801.3 320.4,801.0 321.2,801.6 322.0,801.1 322.8,801.2 323.6,801.3 324.4,801.3 325.2,801.5 325.9,801.5 326.7,801.9 327.5,802.3 328.3,802.4 329.1,801.5 329.9,801.3 330.7,801.4 331.5,801.1 332.3,801.7 333.0,801.2 333.8,801.7 334.6,801.5 335.4,801.8 336.2,801.1 337.0,801.6 337.8,801.5 338.6,801.6 339.4,802.6 340.1,801.6 340.9,801.6 341.7,801.5 342.5,801.8 343.3,801.9 344.1,801.2 344.9,798.7" fill="none" stroke="#F0E57E" stroke-width="1.8" /><polyline points="81.3,794.3 82.1,793.0 82.9,793.1 83.7,793.2 84.5,794.4 85.2,794.5 86.0,794.7 86.8,794.7 87.6,794.0 88.4,793.5 89.2,794.5 90.0,794.4 90.8,794.8 91.6,793.9 92.3,794.0 93.1,794.2 93.9,793.7 94.7,794.4 95.5,794.7 96.3,794.9 97.1,794.1 97.9,793.9 98.7,793.4 99.5,793.7 100.2,794.2 101.0,794.9 101.8,794.9 102.6,794.2 103.4,794.4 104.2,794.3 105.0,794.5 105.8,794.4 106.6,794.7 107.3,794.9 108.1,794.8 108.9,794.1 109.7,794.9 110.5,794.4 111.3,794.8 112.1,794.9 112.9,794.1 113.7,794.3 114.4,794.5 115.2,795.0 116.0,794.9 116.8,794.7 117.6,794.3 118.4,793.6 119.2,793.9 120.0,795.0 120.8,793.8 121.5,793.8 122.3,794.0 123.1,794.5 123.9,794.2 124.7,794.9 125.5,795.0 126.3,794.8 127.1,794.4 127.9,795.1 128.7,794.6 129.4,794.9 130.2,794.5 131.0,794.5 131.8,794.7 132.6,795.1 133.4,795.2 134.2,795.2 135.0,794.7 135.8,794.9 136.5,794.4 137.3,794.4 138.1,794.0 138.9,793.7 139.7,793.6 140.5,794.7 141.3,794.8 142.1,793.5 142.9,794.2 143.6,793.6 144.4,795.1 145.2,794.8 146.0,794.4 146.8,795.2 147.6,794.1 148.4,795.1 149.2,795.0 150.0,795.2 150.7,794.5 151.5,794.8 152.3,795.0 153.1,795.3 153.9,795.1 154.7,795.0 155.5,794.7 156.3,795.3 157.1,795.0 157.8,795.2 158.6,794.1 159.4,794.6 160.2,795.0 161.0,794.2 161.8,794.6 162.6,795.3 163.4,795.0 164.2,794.4 165.0,793.3 165.7,793.3 166.5,793.2 167.3,795.4 168.1,794.3 168.9,793.7 169.7,794.7 170.5,794.8 171.3,795.0 172.1,794.9 172.8,794.9 173.6,795.1 174.4,795.1 175.2,794.9 176.0,794.9 176.8,794.3 177.6,795.0 178.4,795.1 179.2,794.7 179.9,795.2 180.7,794.9 181.5,794.5 182.3,794.7 183.1,795.5 183.9,795.3 184.7,795.5 185.5,795.3 186.3,795.4 187.0,794.4 187.8,794.3 188.6,795.4 189.4,795.2 190.2,794.4 191.0,795.2 191.8,795.5 192.6,794.8 193.4,795.2 194.2,794.6 194.9,794.8 195.7,795.6 196.5,795.5 197.3,795.5 198.1,795.1 198.9,795.2 199.7,795.5 200.5,794.5 201.3,794.3 202.0,795.0 202.8,795.6 203.6,794.8 204.4,795.5 205.2,798.7 206.0,798.7 206.8,798.7 207.6,798.7 208.4,798.7 209.1,798.7 209.9,798.7 210.7,798.7 211.5,798.7 212.3,798.7 213.1,798.7 213.9,798.7 214.7,798.7 215.5,798.7 216.2,798.7 217.0,798.7 217.8,798.7 218.6,798.7 219.4,798.7 220.2,798.7 221.0,798.7 221.8,798.7 222.6,798.7 223.4,798.7 224.1,798.7 224.9,798.7 225.7,798.7 226.5,798.7 227.3,798.7 228.1,798.7 228.9,798.7 229.7,798.7 230.5,798.7 231.2,798.7 232.0,798.7 232.8,798.7 233.6,798.7 234.4,798.7 235.2,798.7 236.0,798.7 236.8,798.7 237.6,798.7 238.3,798.7 239.1,798.7 239.9,798.7 240.7,798.7 241.5,798.7 242.3,798.7 243.1,798.7 243.9,798.7 244.7,798.7 245.4,798.7 246.2,798.7 247.0,798.7 247.8,798.7 248.6,798.7 249.4,798.7 250.2,798.7 251.0,798.7 251.8,798.7 252.5,798.7 253.3,798.7 254.1,798.7 254.9,798.7 255.7,798.7 256.5,798.7 257.3,798.7 258.1,798.7 258.9,798.7 259.7,798.7 260.4,798.7 261.2,798.7 262.0,798.7 262.8,798.7 263.6,798.7 264.4,798.7 265.2,798.7 266.0,798.7 266.8,798.7 267.5,798.7 268.3,798.7 269.1,798.7 269.9,798.7 270.7,798.7 271.5,798.7 272.3,798.7 273.1,798.7 273.9,798.7 274.6,798.7 275.4,798.7 276.2,798.7 277.0,798.7 277.8,798.4 278.6,798.1 279.4,797.8 280.2,797.6 281.0,797.4 281.7,797.0 282.5,796.7 283.3,796.1 284.1,796.1 284.9,795.9 285.7,796.1 286.5,796.0 287.3,795.8 288.1,795.4 288.9,795.4 289.6,795.1 290.4,794.9 291.2,794.4 292.0,794.1 292.8,793.6 293.6,792.9 294.4,792.4 295.2,792.1 296.0,768.1 296.7,766.2 297.5,765.6 298.3,766.8 299.1,767.8 299.9,766.6 300.7,763.7 301.5,765.0 302.3,765.3 303.1,765.6 303.8,764.0 304.6,763.8 305.4,766.3 306.2,767.4 307.0,771.4 307.8,770.2 308.6,770.1 309.4,769.6 310.2,770.5 310.9,774.0 311.7,773.9 312.5,776.8 313.3,771.6 314.1,770.2 314.9,770.0 315.7,776.9 316.5,775.7 317.3,773.5 318.1,767.3 318.8,770.5 319.6,768.1 320.4,769.2 321.2,765.5 322.0,765.7 322.8,762.1 323.6,764.3 324.4,761.9 325.2,764.8 325.9,763.3 326.7,769.3 327.5,773.5 328.3,774.1 329.1,775.0 329.9,774.4 330.7,777.8 331.5,778.5 332.3,778.9 333.0,781.3 333.8,782.3 334.6,781.9 335.4,781.5 336.2,779.3 337.0,779.7 337.8,777.0 338.6,777.3 339.4,780.0 340.1,782.1 340.9,782.8 341.7,779.4 342.5,778.3 343.3,778.5 344.1,778.8 344.9,798.7" fill="none" stroke="#9A30FA" stroke-width="1.9" /><polyline points="81.3,802.6 82.1,803.1 82.9,804.4 83.7,803.9 84.5,802.5 85.2,803.4 86.0,802.5 86.8,802.7 87.6,802.7 88.4,803.1 89.2,803.9 90.0,803.7 90.8,803.3 91.6,802.8 92.3,803.0 93.1,802.4 93.9,803.3 94.7,802.6 95.5,804.0 96.3,803.6 97.1,802.3 97.9,803.8 98.7,803.9 99.5,803.4 100.2,802.5 101.0,803.0 101.8,802.4 102.6,803.0 103.4,802.7 104.2,802.7 105.0,802.6 105.8,803.2 106.6,803.5 107.3,802.3 108.1,802.7 108.9,803.3 109.7,803.4 110.5,802.8 111.3,802.2 112.1,803.1 112.9,803.6 113.7,802.6 114.4,803.2 115.2,803.1 116.0,802.5 116.8,802.7 117.6,802.4 118.4,804.1 119.2,803.1 120.0,802.8 120.8,802.5 121.5,802.2 122.3,802.4 123.1,803.4 123.9,802.6 124.7,802.4 125.5,803.1 126.3,802.6 127.1,803.0 127.9,803.2 128.7,803.7 129.4,803.2 130.2,802.8 131.0,802.3 131.8,803.8 132.6,803.2 133.4,804.5 134.2,803.6 135.0,803.7 135.8,803.0 136.5,803.4 137.3,802.8 138.1,802.7 138.9,802.7 139.7,802.1 140.5,802.2 141.3,802.5 142.1,802.7 142.9,802.4 143.6,802.0 144.4,802.1 145.2,802.4 146.0,802.9 146.8,803.1 147.6,802.5 148.4,802.4 149.2,802.6 150.0,802.5 150.7,802.6 151.5,802.3 152.3,802.9 153.1,803.9 153.9,803.5 154.7,802.2 155.5,802.7 156.3,802.7 157.1,802.2 157.8,802.1 158.6,802.0 159.4,802.8 160.2,802.7 161.0,802.7 161.8,802.0 162.6,802.4 163.4,802.2 164.2,802.2 165.0,801.9 165.7,802.6 166.5,802.0 167.3,802.7 168.1,802.1 168.9,802.2 169.7,802.0 170.5,802.4 171.3,802.0 172.1,802.9 172.8,803.7 173.6,803.3 174.4,803.0 175.2,802.0 176.0,802.7 176.8,803.0 177.6,802.2 178.4,803.1 179.2,802.2 179.9,802.6 180.7,802.7 181.5,803.0 182.3,802.4 183.1,803.3 183.9,802.1 184.7,802.1 185.5,802.6 186.3,802.7 187.0,802.5 187.8,802.3 188.6,803.3 189.4,802.8 190.2,802.1 191.0,802.2 191.8,802.4 192.6,802.6 193.4,801.8 194.2,802.0 194.9,801.8 195.7,801.8 196.5,802.6 197.3,802.1 198.1,802.5 198.9,802.8 199.7,803.4 200.5,802.7 201.3,802.2 202.0,801.8 202.8,801.8 203.6,802.0 204.4,802.0 205.2,798.7 206.0,798.7 206.8,798.7 207.6,798.7 208.4,798.7 209.1,798.7 209.9,798.7 210.7,798.7 211.5,798.7 212.3,798.7 213.1,798.7 213.9,798.7 214.7,798.7 215.5,798.7 216.2,798.7 217.0,798.7 217.8,798.7 218.6,798.7 219.4,798.7 220.2,798.7 221.0,798.7 221.8,798.7 222.6,798.7 223.4,798.7 224.1,798.7 224.9,798.7 225.7,798.7 226.5,798.7 227.3,798.7 228.1,798.7 228.9,798.7 229.7,798.7 230.5,798.7 231.2,798.7 232.0,798.7 232.8,798.7 233.6,798.7 234.4,798.7 235.2,798.7 236.0,798.7 236.8,798.7 237.6,798.7 238.3,798.7 239.1,798.7 239.9,798.7 240.7,798.7 241.5,798.7 242.3,798.7 243.1,798.7 243.9,798.7 244.7,798.7 245.4,798.7 246.2,798.7 247.0,798.7 247.8,798.7 248.6,798.7 249.4,798.7 250.2,798.7 251.0,798.7 251.8,798.7 252.5,798.7 253.3,798.7 254.1,798.7 254.9,798.7 255.7,798.7 256.5,798.7 257.3,798.7 258.1,798.7 258.9,798.7 259.7,798.7 260.4,798.7 261.2,798.7 262.0,798.7 262.8,798.7 263.6,798.7 264.4,798.7 265.2,798.7 266.0,798.7 266.8,798.7 267.5,798.7 268.3,798.7 269.1,798.7 269.9,798.7 270.7,798.7 271.5,798.7 272.3,798.7 273.1,798.7 273.9,798.7 274.6,798.7 275.4,798.7 276.2,798.7 277.0,798.7 277.8,799.1 278.6,799.4 279.4,799.7 280.2,800.2 281.0,800.3 281.7,800.8 282.5,801.0 283.3,801.5 284.1,801.6 284.9,802.3 285.7,802.6 286.5,803.7 287.3,803.1 288.1,803.3 288.9,803.7 289.6,804.8 290.4,805.1 291.2,805.4 292.0,805.8 292.8,806.3 293.6,807.1 294.4,806.0 295.2,807.2 296.0,843.5 296.7,842.3 297.5,849.2 298.3,839.3 299.1,839.2 299.9,833.8 300.7,833.7 301.5,845.7 302.3,833.3 303.1,843.9 303.8,834.4 304.6,847.9 305.4,836.0 306.2,835.3 307.0,834.9 307.8,836.0 308.6,836.3 309.4,836.2 310.2,833.3 310.9,834.3 311.7,835.7 312.5,837.6 313.3,834.4 314.1,836.5 314.9,838.4 315.7,835.2 316.5,837.4 317.3,835.0 318.1,839.4 318.8,834.9 319.6,834.7 320.4,833.8 321.2,840.7 322.0,844.3 322.8,836.0 323.6,841.1 324.4,850.7 325.2,833.6 325.9,836.5 326.7,844.1 327.5,836.6 328.3,836.2 329.1,842.1 329.9,832.5 330.7,829.4 331.5,830.4 332.3,841.2 333.0,829.8 333.8,829.6 334.6,836.0 335.4,845.1 336.2,826.4 337.0,825.4 337.8,828.0 338.6,825.3 339.4,824.9 340.1,824.0 340.9,823.2 341.7,821.4 342.5,821.7 343.3,829.5 344.1,819.8 344.9,798.7" fill="none" stroke="#B879FA" stroke-width="1.9" /><polyline points="81.3,797.6 82.1,797.7 82.9,797.9 83.7,797.9 84.5,797.7 85.2,797.7 86.0,797.8 86.8,797.8 87.6,797.7 88.4,797.8 89.2,798.0 90.0,797.9 90.8,797.7 91.6,797.9 92.3,797.9 93.1,798.0 93.9,797.8 94.7,797.6 95.5,797.8 96.3,797.6 97.1,797.8 97.9,797.6 98.7,797.9 99.5,797.7 100.2,798.0 101.0,797.8 101.8,797.4 102.6,797.7 103.4,797.8 104.2,798.0 105.0,797.7 105.8,797.7 106.6,797.4 107.3,797.9 108.1,797.9 108.9,797.9 109.7,797.6 110.5,797.9 111.3,797.9 112.1,797.8 112.9,797.7 113.7,797.8 114.4,797.8 115.2,797.7 116.0,797.7 116.8,797.6 117.6,797.8 118.4,797.7 119.2,798.0 120.0,797.8 120.8,797.8 121.5,797.8 122.3,798.0 123.1,797.8 123.9,798.0 124.7,797.7 125.5,797.7 126.3,797.7 127.1,797.7 127.9,798.0 128.7,797.8 129.4,797.7 130.2,797.2 131.0,797.9 131.8,797.9 132.6,797.7 133.4,798.0 134.2,797.8 135.0,797.7 135.8,797.5 136.5,797.5 137.3,797.7 138.1,798.0 138.9,797.8 139.7,797.8 140.5,797.9 141.3,797.7 142.1,797.5 142.9,797.3 143.6,797.4 144.4,797.6 145.2,797.9 146.0,797.8 146.8,798.0 147.6,797.9 148.4,797.4 149.2,797.7 150.0,798.0 150.7,797.7 151.5,797.9 152.3,797.7 153.1,798.0 153.9,797.6 154.7,797.4 155.5,797.4 156.3,797.6 157.1,797.9 157.8,797.6 158.6,797.7 159.4,798.0 160.2,797.8 161.0,797.9 161.8,797.6 162.6,797.0 163.4,797.2 164.2,796.9 165.0,797.1 165.7,796.9 166.5,797.6 167.3,797.7 168.1,798.0 168.9,797.8 169.7,797.4 170.5,797.4 171.3,798.0 172.1,797.7 172.8,797.3 173.6,797.6 174.4,797.8 175.2,797.6 176.0,797.7 176.8,797.7 177.6,797.8 178.4,797.9 179.2,797.9 179.9,797.6 180.7,797.6 181.5,797.8 182.3,797.8 183.1,797.9 183.9,797.9 184.7,797.8 185.5,797.9 186.3,797.8 187.0,797.8 187.8,797.9 188.6,797.9 189.4,797.8 190.2,797.9 191.0,798.0 191.8,797.7 192.6,797.8 193.4,798.0 194.2,798.0 194.9,798.0 195.7,797.6 196.5,797.5 197.3,797.5 198.1,798.0 198.9,798.0 199.7,798.0 200.5,797.9 201.3,797.6 202.0,797.5 202.8,797.9 203.6,797.7 204.4,797.7 205.2,798.7 206.0,798.7 206.8,798.7 207.6,798.7 208.4,798.7 209.1,798.7 209.9,798.7 210.7,798.7 211.5,798.7 212.3,798.7 213.1,798.7 213.9,798.7 214.7,798.7 215.5,798.7 216.2,798.7 217.0,798.7 217.8,798.7 218.6,798.7 219.4,798.7 220.2,798.7 221.0,798.7 221.8,798.7 222.6,798.7 223.4,798.7 224.1,798.7 224.9,798.7 225.7,798.7 226.5,798.7 227.3,798.7 228.1,798.7 228.9,798.7 229.7,798.7 230.5,798.7 231.2,798.7 232.0,798.7 232.8,798.7 233.6,798.7 234.4,798.7 235.2,798.7 236.0,798.7 236.8,798.7 237.6,798.7 238.3,798.7 239.1,798.7 239.9,798.7 240.7,798.7 241.5,798.7 242.3,798.7 243.1,798.7 243.9,798.7 244.7,798.7 245.4,798.7 246.2,798.7 247.0,798.7 247.8,798.7 248.6,798.7 249.4,798.7 250.2,798.7 251.0,798.7 251.8,798.7 252.5,798.7 253.3,798.7 254.1,798.7 254.9,798.7 255.7,798.7 256.5,798.7 257.3,798.7 258.1,798.7 258.9,798.7 259.7,798.7 260.4,798.7 261.2,798.7 262.0,798.7 262.8,798.7 263.6,798.7 264.4,798.7 265.2,798.7 266.0,798.7 266.8,798.7 267.5,798.7 268.3,798.7 269.1,798.7 269.9,798.7 270.7,798.7 271.5,798.7 272.3,798.7 273.1,798.7 273.9,798.7 274.6,798.7 275.4,797.6 276.2,797.4 277.0,797.1 277.8,797.2 278.6,797.3 279.4,797.6 280.2,797.6 281.0,797.3 281.7,797.5 282.5,798.0 283.3,797.5 284.1,797.7 284.9,797.9 285.7,797.8 286.5,797.7 287.3,797.9 288.1,797.7 288.9,797.7 289.6,797.7 290.4,798.0 291.2,798.0 292.0,797.7 292.8,798.0 293.6,797.8 294.4,797.5 295.2,797.5 296.0,797.6 296.7,797.3 297.5,797.1 298.3,797.5 299.1,797.6 299.9,797.7 300.7,797.8 301.5,798.0 302.3,797.9 303.1,798.0 303.8,797.6 304.6,797.5 305.4,797.7 306.2,797.5 307.0,797.8 307.8,797.8 308.6,797.6 309.4,797.7 310.2,797.9 310.9,797.7 311.7,797.9 312.5,797.6 313.3,797.6 314.1,797.9 314.9,797.5 315.7,797.2 316.5,797.7 317.3,797.9 318.1,797.8 318.8,798.0 319.6,797.6 320.4,797.5 321.2,797.7 322.0,797.9 322.8,797.8 323.6,797.3 324.4,797.4 325.2,797.6 325.9,797.5 326.7,797.7 327.5,797.4 328.3,797.8 329.1,797.9 329.9,797.7 330.7,797.6 331.5,797.8 332.3,797.8 333.0,798.0 333.8,797.9 334.6,797.9 335.4,797.9 336.2,797.9 337.0,798.0 337.8,797.7 338.6,797.9 339.4,797.7 340.1,797.9 340.9,797.9 341.7,797.5 342.5,797.6 343.3,797.6 344.1,797.7 344.9,798.0" fill="none" stroke="#FF3FA8" stroke-width="1.2" /><polyline points="81.3,800.0 82.1,800.0 82.9,799.5 83.7,799.5 84.5,799.5 85.2,799.4 86.0,799.8 86.8,799.8 87.6,799.8 88.4,799.8 89.2,799.6 90.0,799.8 90.8,799.5 91.6,799.5 92.3,799.5 93.1,799.8 93.9,799.6 94.7,799.6 95.5,799.5 96.3,799.6 97.1,799.6 97.9,800.0 98.7,799.5 99.5,799.7 100.2,799.5 101.0,799.6 101.8,799.4 102.6,799.7 103.4,799.4 104.2,799.8 105.0,799.6 105.8,799.5 106.6,799.8 107.3,799.6 108.1,799.6 108.9,799.5 109.7,799.5 110.5,799.4 111.3,799.4 112.1,799.4 112.9,799.5 113.7,799.4 114.4,799.6 115.2,799.7 116.0,799.7 116.8,799.7 117.6,799.6 118.4,799.6 119.2,799.8 120.0,799.5 120.8,799.5 121.5,799.4 122.3,799.5 123.1,799.8 123.9,799.8 124.7,799.4 125.5,799.6 126.3,799.6 127.1,799.8 127.9,799.7 128.7,799.4 129.4,799.4 130.2,799.5 131.0,799.4 131.8,799.6 132.6,799.8 133.4,800.0 134.2,799.6 135.0,799.4 135.8,799.6 136.5,799.8 137.3,799.6 138.1,799.6 138.9,799.6 139.7,799.6 140.5,799.5 141.3,799.7 142.1,799.5 142.9,799.6 143.6,799.6 144.4,799.8 145.2,799.7 146.0,799.5 146.8,799.4 147.6,799.5 148.4,799.6 149.2,799.8 150.0,799.5 150.7,799.7 151.5,800.3 152.3,799.7 153.1,799.5 153.9,799.8 154.7,799.4 155.5,799.6 156.3,799.6 157.1,799.5 157.8,799.6 158.6,799.6 159.4,799.5 160.2,799.7 161.0,800.0 161.8,800.4 162.6,800.4 163.4,799.9 164.2,799.6 165.0,799.5 165.7,799.6 166.5,799.4 167.3,799.4 168.1,799.5 168.9,799.5 169.7,799.4 170.5,799.4 171.3,799.8 172.1,800.1 172.8,800.0 173.6,799.4 174.4,799.7 175.2,799.7 176.0,799.7 176.8,800.1 177.6,799.9 178.4,799.8 179.2,799.4 179.9,799.4 180.7,799.4 181.5,799.7 182.3,799.6 183.1,799.5 183.9,799.6 184.7,799.5 185.5,799.9 186.3,799.8 187.0,800.0 187.8,799.4 188.6,799.7 189.4,799.8 190.2,799.6 191.0,799.5 191.8,799.7 192.6,799.4 193.4,799.5 194.2,799.4 194.9,799.9 195.7,799.8 196.5,799.7 197.3,799.5 198.1,799.6 198.9,799.6 199.7,799.9 200.5,799.6 201.3,799.4 202.0,799.5 202.8,799.5 203.6,799.4 204.4,799.6 205.2,798.7 206.0,798.7 206.8,798.7 207.6,798.7 208.4,798.7 209.1,798.7 209.9,798.7 210.7,798.7 211.5,798.7 212.3,798.7 213.1,798.7 213.9,798.7 214.7,798.7 215.5,798.7 216.2,798.7 217.0,798.7 217.8,798.7 218.6,798.7 219.4,798.7 220.2,798.7 221.0,798.7 221.8,798.7 222.6,798.7 223.4,798.7 224.1,798.7 224.9,798.7 225.7,798.7 226.5,798.7 227.3,798.7 228.1,798.7 228.9,798.7 229.7,798.7 230.5,798.7 231.2,798.7 232.0,798.7 232.8,798.7 233.6,798.7 234.4,798.7 235.2,798.7 236.0,798.7 236.8,798.7 237.6,798.7 238.3,798.7 239.1,798.7 239.9,798.7 240.7,798.7 241.5,798.7 242.3,798.7 243.1,798.7 243.9,798.7 244.7,798.7 245.4,798.7 246.2,798.7 247.0,798.7 247.8,798.7 248.6,798.7 249.4,798.7 250.2,798.7 251.0,798.7 251.8,798.7 252.5,798.7 253.3,798.7 254.1,798.7 254.9,798.7 255.7,798.7 256.5,798.7 257.3,798.7 258.1,798.7 258.9,798.7 259.7,798.7 260.4,798.7 261.2,798.7 262.0,798.7 262.8,798.7 263.6,798.7 264.4,798.7 265.2,798.7 266.0,798.7 266.8,798.7 267.5,798.7 268.3,798.7 269.1,798.7 269.9,798.7 270.7,798.7 271.5,798.7 272.3,798.7 273.1,798.7 273.9,798.7 274.6,798.7 275.4,800.4 276.2,799.9 277.0,799.5 277.8,799.5 278.6,799.6 279.4,799.5 280.2,799.5 281.0,799.4 281.7,799.5 282.5,799.8 283.3,799.9 284.1,799.8 284.9,799.6 285.7,799.8 286.5,799.6 287.3,800.1 288.1,800.5 288.9,800.0 289.6,799.7 290.4,799.9 291.2,799.8 292.0,799.4 292.8,799.5 293.6,799.7 294.4,799.4 295.2,799.8 296.0,799.7 296.7,799.6 297.5,799.5 298.3,799.7 299.1,799.8 299.9,800.1 300.7,800.1 301.5,800.2 302.3,799.4 303.1,799.6 303.8,799.7 304.6,799.5 305.4,799.7 306.2,799.8 307.0,800.0 307.8,799.6 308.6,799.7 309.4,799.4 310.2,799.5 310.9,799.6 311.7,799.6 312.5,799.5 313.3,799.7 314.1,799.9 314.9,799.8 315.7,799.5 316.5,799.5 317.3,799.4 318.1,799.7 318.8,799.4 319.6,799.7 320.4,799.7 321.2,799.6 322.0,799.6 322.8,799.6 323.6,799.4 324.4,799.4 325.2,799.7 325.9,799.5 326.7,799.7 327.5,799.7 328.3,799.5 329.1,800.2 329.9,800.1 330.7,799.4 331.5,799.6 332.3,799.4 333.0,799.6 333.8,799.7 334.6,799.4 335.4,799.9 336.2,799.5 337.0,799.7 337.8,799.7 338.6,799.4 339.4,799.7 340.1,799.7 340.9,799.6 341.7,799.6 342.5,799.4 343.3,799.6 344.1,800.0 344.9,799.8" fill="none" stroke="#FF8CD2" stroke-width="1.2" /><polyline points="81.3,800.1 82.1,799.8 82.9,799.7 83.7,799.6 84.5,804.0 85.2,800.3 86.0,799.9 86.8,800.6 87.6,800.8 88.4,801.4 89.2,800.4 90.0,799.9 90.8,799.9 91.6,800.0 92.3,799.7 93.1,799.7 93.9,800.0 94.7,799.8 95.5,799.7 96.3,799.7 97.1,799.7 97.9,800.4 98.7,800.0 99.5,800.3 100.2,799.9 101.0,800.4 101.8,800.2 102.6,800.2 103.4,800.1 104.2,800.0 105.0,800.4 105.8,799.7 106.6,800.4 107.3,801.0 108.1,799.9 108.9,800.9 109.7,801.5 110.5,800.3 111.3,800.1 112.1,800.1 112.9,800.0 113.7,800.0 114.4,799.7 115.2,800.0 116.0,800.0 116.8,799.9 117.6,800.0 118.4,800.2 119.2,800.6 120.0,800.7 120.8,799.9 121.5,799.9 122.3,800.3 123.1,799.9 123.9,799.6 124.7,800.2 125.5,799.7 126.3,800.1 127.1,806.4 127.9,799.7 128.7,799.7 129.4,800.0 130.2,799.8 131.0,799.9 131.8,800.0 132.6,799.8 133.4,799.7 134.2,799.8 135.0,799.7 135.8,800.5 136.5,800.2 137.3,800.0 138.1,799.8 138.9,799.6 139.7,800.1 140.5,799.7 141.3,799.7 142.1,799.9 142.9,800.3 143.6,800.6 144.4,800.9 145.2,803.7 146.0,799.7 146.8,800.1 147.6,799.8 148.4,799.8 149.2,799.7 150.0,800.2 150.7,801.1 151.5,800.9 152.3,799.7 153.1,800.1 153.9,800.0 154.7,800.2 155.5,802.9 156.3,799.7 157.1,799.9 157.8,799.8 158.6,800.1 159.4,800.4 160.2,801.0 161.0,800.8 161.8,800.3 162.6,799.8 163.4,800.0 164.2,799.8 165.0,799.6 165.7,800.2 166.5,799.9 167.3,799.8 168.1,800.0 168.9,800.3 169.7,800.3 170.5,799.7 171.3,799.8 172.1,800.1 172.8,803.3 173.6,800.4 174.4,800.7 175.2,800.0 176.0,800.2 176.8,799.7 177.6,799.8 178.4,799.7 179.2,800.1 179.9,799.9 180.7,812.5 181.5,800.2 182.3,803.3 183.1,799.8 183.9,800.7 184.7,804.9 185.5,807.4 186.3,801.0 187.0,800.6 187.8,800.5 188.6,799.7 189.4,799.7 190.2,800.6 191.0,801.2 191.8,808.1 192.6,800.3 193.4,800.0 194.2,800.5 194.9,801.0 195.7,801.4 196.5,800.6 197.3,800.8 198.1,800.1 198.9,800.7 199.7,799.8 200.5,799.7 201.3,800.0 202.0,800.2 202.8,800.6 203.6,800.9 204.4,800.4 205.2,798.7 206.0,809.0 206.8,798.7 207.6,798.7 208.4,798.7 209.1,805.6 209.9,798.7 210.7,814.8 211.5,798.7 212.3,798.7 213.1,807.9 213.9,798.7 214.7,833.1 215.5,826.2 216.2,798.7 217.0,812.5 217.8,798.7 218.6,798.7 219.4,798.7 220.2,807.9 221.0,798.7 221.8,798.7 222.6,798.7 223.4,798.7 224.1,798.7 224.9,809.0 225.7,798.7 226.5,798.7 227.3,812.5 228.1,798.7 228.9,798.7 229.7,798.7 230.5,807.9 231.2,798.7 232.0,798.7 232.8,798.7 233.6,798.7 234.4,798.7 235.2,798.7 236.0,798.7 236.8,798.7 237.6,807.9 238.3,798.7 239.1,798.7 239.9,798.7 240.7,798.7 241.5,798.7 242.3,798.7 243.1,798.7 243.9,798.7 244.7,798.7 245.4,798.7 246.2,798.7 247.0,798.7 247.8,798.7 248.6,798.7 249.4,798.7 250.2,806.7 251.0,798.7 251.8,798.7 252.5,798.7 253.3,798.7 254.1,798.7 254.9,798.7 255.7,798.7 256.5,798.7 257.3,798.7 258.1,798.7 258.9,798.7 259.7,798.7 260.4,798.7 261.2,798.7 262.0,798.7 262.8,798.7 263.6,798.7 264.4,798.7 265.2,798.7 266.0,798.7 266.8,798.7 267.5,798.7 268.3,798.7 269.1,798.7 269.9,798.7 270.7,798.7 271.5,798.7 272.3,806.7 273.1,798.7 273.9,798.7 274.6,807.9 275.4,798.7 276.2,798.7 277.0,798.7 277.8,798.7 278.6,798.7 279.4,798.7 280.2,798.7 281.0,798.7 281.7,798.7 282.5,798.7 283.3,798.7 284.1,798.7 284.9,798.7 285.7,798.7 286.5,798.7 287.3,798.7 288.1,798.7 288.9,798.7 289.6,798.7 290.4,798.7 291.2,798.7 292.0,798.7 292.8,798.7 293.6,798.7 294.4,798.7 295.2,798.7 296.0,798.7 296.7,798.7 297.5,798.7 298.3,798.7 299.1,798.7 299.9,798.7 300.7,798.7 301.5,798.7 302.3,798.7 303.1,798.7 303.8,798.7 304.6,798.7 305.4,798.7 306.2,798.7 307.0,798.7 307.8,798.7 308.6,798.7 309.4,798.7 310.2,798.7 310.9,798.7 311.7,798.7 312.5,798.7 313.3,798.7 314.1,798.7 314.9,798.7 315.7,798.7 316.5,798.7 317.3,798.7 318.1,798.7 318.8,798.7 319.6,798.7 320.4,798.7 321.2,798.7 322.0,798.7 322.8,798.7 323.6,798.7 324.4,798.7 325.2,798.7 325.9,798.7 326.7,798.7 327.5,798.7 328.3,798.7 329.1,798.7 329.9,798.7 330.7,798.7 331.5,798.7 332.3,798.7 333.0,798.7 333.8,798.7 334.6,798.7 335.4,798.7 336.2,798.7 337.0,798.7 337.8,798.7 338.6,798.7 339.4,798.7 340.1,798.7 340.9,798.7 341.7,798.7 342.5,798.7 343.3,798.7 344.1,798.7 344.9,798.7" fill="none" stroke="#4A8CC6" stroke-width="1.5" /><polyline points="81.3,796.8 82.1,797.0 82.9,796.5 83.7,791.8 84.5,796.9 85.2,792.6 86.0,797.5 86.8,797.3 87.6,797.6 88.4,796.9 89.2,796.6 90.0,796.6 90.8,797.5 91.6,797.0 92.3,796.9 93.1,797.5 93.9,796.8 94.7,797.3 95.5,797.6 96.3,796.6 97.1,796.8 97.9,797.7 98.7,797.8 99.5,797.4 100.2,797.3 101.0,797.7 101.8,796.8 102.6,797.3 103.4,796.9 104.2,797.8 105.0,797.0 105.8,797.6 106.6,797.4 107.3,796.8 108.1,797.4 108.9,797.5 109.7,797.3 110.5,797.6 111.3,794.9 112.1,797.5 112.9,797.7 113.7,797.5 114.4,797.4 115.2,797.5 116.0,797.5 116.8,796.8 117.6,796.3 118.4,796.2 119.2,797.2 120.0,797.7 120.8,797.6 121.5,797.5 122.3,797.5 123.1,797.4 123.9,797.6 124.7,797.5 125.5,797.3 126.3,797.5 127.1,797.2 127.9,796.7 128.7,797.2 129.4,797.7 130.2,796.2 131.0,795.8 131.8,795.9 132.6,797.0 133.4,797.0 134.2,797.3 135.0,797.0 135.8,797.5 136.5,797.8 137.3,797.0 138.1,797.4 138.9,793.5 139.7,796.5 140.5,797.2 141.3,797.5 142.1,797.4 142.9,797.5 143.6,797.1 144.4,797.5 145.2,796.5 146.0,797.5 146.8,797.6 147.6,797.3 148.4,797.7 149.2,797.3 150.0,797.8 150.7,797.5 151.5,796.4 152.3,796.7 153.1,796.7 153.9,797.6 154.7,797.1 155.5,797.3 156.3,797.6 157.1,797.1 157.8,797.2 158.6,797.3 159.4,797.7 160.2,797.7 161.0,797.1 161.8,796.5 162.6,797.3 163.4,793.4 164.2,797.3 165.0,797.0 165.7,797.2 166.5,796.9 167.3,797.7 168.1,797.4 168.9,797.7 169.7,797.5 170.5,797.6 171.3,797.7 172.1,797.4 172.8,797.6 173.6,797.6 174.4,797.6 175.2,797.7 176.0,796.5 176.8,795.9 177.6,796.4 178.4,797.7 179.2,797.5 179.9,794.2 180.7,797.1 181.5,797.7 182.3,797.2 183.1,797.2 183.9,797.5 184.7,797.3 185.5,797.2 186.3,797.5 187.0,797.2 187.8,797.6 188.6,797.8 189.4,797.8 190.2,797.5 191.0,797.7 191.8,797.2 192.6,797.6 193.4,797.2 194.2,797.1 194.9,796.9 195.7,797.4 196.5,797.2 197.3,796.6 198.1,797.0 198.9,796.8 199.7,797.3 200.5,796.9 201.3,797.6 202.0,797.8 202.8,797.1 203.6,797.6 204.4,796.5 205.2,798.7 206.0,787.2 206.8,798.7 207.6,798.7 208.4,784.9 209.1,798.7 209.9,790.7 210.7,798.7 211.5,798.7 212.3,786.1 213.1,798.7 213.9,798.7 214.7,788.4 215.5,798.7 216.2,798.7 217.0,798.7 217.8,798.7 218.6,798.7 219.4,790.7 220.2,798.7 221.0,798.7 221.8,784.9 222.6,798.7 223.4,786.1 224.1,798.7 224.9,798.7 225.7,798.7 226.5,798.7 227.3,798.7 228.1,793.0 228.9,798.7 229.7,798.7 230.5,798.7 231.2,798.7 232.0,682.9 232.8,798.7 233.6,798.7 234.4,798.7 235.2,798.7 236.0,746.0 236.8,798.7 237.6,798.7 238.3,798.7 239.1,798.7 239.9,798.7 240.7,798.7 241.5,798.7 242.3,798.7 243.1,798.7 243.9,798.7 244.7,798.7 245.4,798.7 246.2,798.7 247.0,798.7 247.8,791.8 248.6,798.7 249.4,798.7 250.2,798.7 251.0,798.7 251.8,798.7 252.5,798.7 253.3,798.7 254.1,798.7 254.9,798.7 255.7,798.7 256.5,798.7 257.3,798.7 258.1,798.7 258.9,798.7 259.7,798.7 260.4,798.7 261.2,798.7 262.0,798.7 262.8,798.7 263.6,798.7 264.4,798.7 265.2,798.7 266.0,798.7 266.8,798.7 267.5,798.7 268.3,798.7 269.1,798.7 269.9,798.7 270.7,798.7 271.5,798.7 272.3,798.7 273.1,798.7 273.9,798.7 274.6,798.7 275.4,798.7 276.2,798.7 277.0,798.7 277.8,798.7 278.6,798.7 279.4,798.7 280.2,798.7 281.0,798.7 281.7,798.7 282.5,798.7 283.3,798.7 284.1,798.7 284.9,798.7 285.7,798.7 286.5,798.7 287.3,798.7 288.1,798.7 288.9,798.7 289.6,798.7 290.4,798.7 291.2,798.7 292.0,798.7 292.8,798.7 293.6,798.7 294.4,798.7 295.2,798.7 296.0,798.7 296.7,798.7 297.5,798.7 298.3,798.7 299.1,798.7 299.9,798.7 300.7,798.7 301.5,798.7 302.3,798.7 303.1,798.7 303.8,798.7 304.6,798.7 305.4,798.7 306.2,798.7 307.0,798.7 307.8,798.7 308.6,798.7 309.4,798.7 310.2,798.7 310.9,798.7 311.7,798.7 312.5,798.7 313.3,798.7 314.1,798.7 314.9,798.7 315.7,798.7 316.5,798.7 317.3,798.7 318.1,798.7 318.8,798.7 319.6,798.7 320.4,798.7 321.2,798.7 322.0,798.7 322.8,798.7 323.6,798.7 324.4,798.7 325.2,798.7 325.9,798.7 326.7,798.7 327.5,798.7 328.3,798.7 329.1,798.7 329.9,798.7 330.7,798.7 331.5,798.7 332.3,798.7 333.0,798.7 333.8,798.7 334.6,798.7 335.4,798.7 336.2,798.7 337.0,798.7 337.8,798.7 338.6,798.7 339.4,798.7 340.1,798.7 340.9,798.7 341.7,798.7 342.5,798.7 343.3,798.7 344.1,798.7 344.9,798.7" fill="none" stroke="#1A6CAE" stroke-width="1.5" /><line x1="81.3" y1="798.7" x2="365.4" y2="798.7" stroke="#3F86C0" stroke-width="1.6" /></g><rect x="219.5" y="691.6" width="42.8" height="119.9" fill="none" stroke="#8FA6DC" stroke-width="2.4" stroke-dasharray="6.5 3.5"/><rect x="81.3" y="684.2" width="284.1" height="228.6" fill="none" stroke="#000" stroke-width="2.9"/><line x1="76.8" y1="684.1" x2="81.3" y2="684.1" stroke="#000" stroke-width="2.5" /><text x="73.9" y="688.4" font-size="13.8" text-anchor="end" >500</text><line x1="76.8" y1="707" x2="81.3" y2="707" stroke="#000" stroke-width="2.5" /><text x="73.9" y="711.3" font-size="13.8" text-anchor="end" >400</text><line x1="76.8" y1="729.9" x2="81.3" y2="729.9" stroke="#000" stroke-width="2.5" /><text x="73.9" y="734.2" font-size="13.8" text-anchor="end" >300</text><line x1="76.8" y1="752.8" x2="81.3" y2="752.8" stroke="#000" stroke-width="2.5" /><text x="73.9" y="757.1" font-size="13.8" text-anchor="end" >200</text><line x1="76.8" y1="775.8" x2="81.3" y2="775.8" stroke="#000" stroke-width="2.5" /><text x="73.9" y="780.1" font-size="13.8" text-anchor="end" >100</text><line x1="76.8" y1="798.7" x2="81.3" y2="798.7" stroke="#000" stroke-width="2.5" /><text x="73.9" y="803" font-size="13.8" text-anchor="end" >0</text><line x1="76.8" y1="821.6" x2="81.3" y2="821.6" stroke="#000" stroke-width="2.5" /><text x="73.9" y="825.9" font-size="13.8" text-anchor="end" >-100</text><line x1="76.8" y1="844.6" x2="81.3" y2="844.6" stroke="#000" stroke-width="2.5" /><text x="73.9" y="848.9" font-size="13.8" text-anchor="end" >-200</text><line x1="76.8" y1="867.5" x2="81.3" y2="867.5" stroke="#000" stroke-width="2.5" /><text x="73.9" y="871.8" font-size="13.8" text-anchor="end" >-300</text><line x1="76.8" y1="890.4" x2="81.3" y2="890.4" stroke="#000" stroke-width="2.5" /><text x="73.9" y="894.7" font-size="13.8" text-anchor="end" >-400</text><line x1="76.8" y1="913.4" x2="81.3" y2="913.4" stroke="#000" stroke-width="2.5" /><text x="73.9" y="917.6" font-size="13.8" text-anchor="end" >-500</text><line x1="78.5" y1="695.5" x2="81.3" y2="695.5" stroke="#000" stroke-width="2.3" /><line x1="78.5" y1="718.4" x2="81.3" y2="718.4" stroke="#000" stroke-width="2.3" /><line x1="78.5" y1="741.4" x2="81.3" y2="741.4" stroke="#000" stroke-width="2.3" /><line x1="78.5" y1="764.3" x2="81.3" y2="764.3" stroke="#000" stroke-width="2.3" /><line x1="78.5" y1="787.2" x2="81.3" y2="787.2" stroke="#000" stroke-width="2.3" /><line x1="78.5" y1="810.2" x2="81.3" y2="810.2" stroke="#000" stroke-width="2.3" /><line x1="78.5" y1="833.1" x2="81.3" y2="833.1" stroke="#000" stroke-width="2.3" /><line x1="78.5" y1="856" x2="81.3" y2="856" stroke="#000" stroke-width="2.3" /><line x1="78.5" y1="879" x2="81.3" y2="879" stroke="#000" stroke-width="2.3" /><line x1="78.5" y1="901.9" x2="81.3" y2="901.9" stroke="#000" stroke-width="2.3" /><line x1="81.3" y1="912.8" x2="81.3" y2="917.2" stroke="#000" stroke-width="2.6" /><text x="81.3" y="930.7" font-size="13.4" text-anchor="middle" >-6</text><line x1="144.4" y1="912.8" x2="144.4" y2="917.2" stroke="#000" stroke-width="2.6" /><text x="144.4" y="930.7" font-size="13.4" text-anchor="middle" >-4</text><line x1="207.6" y1="912.8" x2="207.6" y2="917.2" stroke="#000" stroke-width="2.6" /><text x="207.6" y="930.7" font-size="13.4" text-anchor="middle" >-2</text><line x1="270.7" y1="912.8" x2="270.7" y2="917.2" stroke="#000" stroke-width="2.6" /><text x="270.7" y="930.7" font-size="13.4" text-anchor="middle" >0</text><line x1="333.8" y1="912.8" x2="333.8" y2="917.2" stroke="#000" stroke-width="2.6" /><text x="333.8" y="930.7" font-size="13.4" text-anchor="middle" >2</text><line x1="112.9" y1="912.8" x2="112.9" y2="915.4" stroke="#000" stroke-width="2.4" /><line x1="176" y1="912.8" x2="176" y2="915.4" stroke="#000" stroke-width="2.4" /><line x1="239.1" y1="912.8" x2="239.1" y2="915.4" stroke="#000" stroke-width="2.4" /><line x1="302.3" y1="912.8" x2="302.3" y2="915.4" stroke="#000" stroke-width="2.4" /><line x1="365.4" y1="912.8" x2="365.4" y2="915.4" stroke="#000" stroke-width="2.4" /><line x1="85" y1="694.7" x2="115.9" y2="694.7" stroke="#BDE9FC" stroke-width="2.6" /><text x="118.3" y="698" font-size="12.4" textLength="48.6" lengthAdjust="spacingAndGlyphs" >Total up</text><line x1="85" y1="711" x2="115.9" y2="711" stroke="#9A30FA" stroke-width="2.6" /><text x="118.3" y="714.3" font-size="12.4" textLength="44.5" lengthAdjust="spacingAndGlyphs" >Ti-d up</text><line x1="85" y1="727.3" x2="115.9" y2="727.3" stroke="#F3E963" stroke-width="2.6" /><text x="118.3" y="730.6" font-size="12.4" textLength="42.5" lengthAdjust="spacingAndGlyphs" >O-p up</text><line x1="85" y1="743.6" x2="115.9" y2="743.6" stroke="#FF3FA8" stroke-width="2.6" /><text x="118.3" y="746.9" font-size="12.4" textLength="41.5" lengthAdjust="spacingAndGlyphs" >B-p up</text><line x1="85" y1="759.9" x2="115.9" y2="759.9" stroke="#1A6CAE" stroke-width="2.6" /><text x="118.3" y="763.2" font-size="12.4" textLength="45.5" lengthAdjust="spacingAndGlyphs" >Pt-d up</text><line x1="85" y1="836.6" x2="114" y2="836.6" stroke="#BDE9FC" stroke-width="2.6" /><text x="117.6" y="840.4" font-size="12.6" font-weight="normal" textLength="64.5" lengthAdjust="spacingAndGlyphs" stroke="#000" stroke-width="0.35">Total down</text><line x1="85" y1="852.5" x2="114" y2="852.5" stroke="#B879FA" stroke-width="2.6" /><text x="117.6" y="856.3" font-size="12.6" font-weight="normal" textLength="57.5" lengthAdjust="spacingAndGlyphs" stroke="#000" stroke-width="0.35">Ti-d down</text><line x1="85" y1="868.4" x2="114" y2="868.4" stroke="#F0E57E" stroke-width="2.6" /><text x="117.6" y="872.2" font-size="12.6" font-weight="normal" textLength="56.5" lengthAdjust="spacingAndGlyphs" stroke="#000" stroke-width="0.35">O-p down</text><line x1="85" y1="884.3" x2="114" y2="884.3" stroke="#FF8CD2" stroke-width="2.6" /><text x="117.6" y="888.1" font-size="12.6" font-weight="normal" textLength="55.5" lengthAdjust="spacingAndGlyphs" stroke="#000" stroke-width="0.35">B-p down</text><line x1="85" y1="900.2" x2="114" y2="900.2" stroke="#4A8CC6" stroke-width="2.6" /><text x="117.6" y="904" font-size="12.6" font-weight="normal" textLength="59.5" lengthAdjust="spacingAndGlyphs" stroke="#000" stroke-width="0.35">Pt-d down</text><text x="77.6" y="670.2" font-size="40.5" >g</text><text x="0" y="0" font-size="19.5" fill="#000" text-anchor="middle" textLength="54" lengthAdjust="spacingAndGlyphs" transform="translate(45.2,792.6) rotate(-90)">PDOS</text><text x="181.3" y="952.7" font-size="17.5" textLength="92.5" lengthAdjust="spacingAndGlyphs" >E - E<tspan font-size="12" dy="4.5" font-weight="bold">F</tspan><tspan dy="-4.5"> (eV)</tspan></text><clipPath id="iclip"><rect x="229.2" y="819.6" width="64.9" height="61.9"/></clipPath><g clip-path="url(#iclip)" stroke-linejoin="miter" fill="none"><polyline points="229.0,850.6 235.1,850.6 240.1,873.9 245.2,850.6 275.5,850.6 280.6,873.9 285.6,850.6 295.7,850.6" fill="none" stroke="#BDE9FC" stroke-width="1.5" /><polyline points="229.0,850.6 240.1,850.6 242.1,813.8 251.2,813.8 255.3,850.6 260.3,850.6 265.4,828.5 270.4,850.6 283.6,850.6 295.7,850.6" fill="none" stroke="#BDE9FC" stroke-width="1.5" /><polyline points="229.0,850.6 243.2,850.6 244.2,813.8 247.2,813.8 250.2,850.6 271.5,850.6 275.5,843.2 279.5,850.6 295.7,850.6" fill="none" stroke="#F3E963" stroke-width="1.2" /><polyline points="229.0,850.6 241.1,850.6 245.2,836.5 250.2,850.6 271.5,850.6 275.5,844.5 279.5,850.6 295.7,850.6" fill="none" stroke="#9A30FA" stroke-width="1.2" /><polyline points="229.0,850.6 241.1,850.6 245.2,847.5 250.2,850.6 271.5,850.6 275.5,848.1 279.5,850.6 295.7,850.6" fill="none" stroke="#FF3FA8" stroke-width="1.8" /><polyline points="229.0,850.6 235.1,850.6 240.1,869.0 245.2,850.6 275.5,850.6 280.6,869.0 285.6,850.6 295.7,850.6" fill="none" stroke="#4A8CC6" stroke-width="1.4" /><polyline points="229.0,850.6 240.1,850.6 240.3,813.8 249.8,813.8 250.0,845.1 255.3,850.6 260.3,850.6 265.4,835.3 270.4,850.6 270.8,813.8 279.9,813.8 280.1,845.1 285.6,850.6 295.7,850.6" fill="none" stroke="#1A6CAE" stroke-width="1.4" /></g><rect x="229.2" y="819.6" width="64.9" height="61.9" fill="none" stroke="#000" stroke-width="2.2"/><line x1="243.2" y1="881.5" x2="243.2" y2="884" stroke="#000" stroke-width="2" /><line x1="283.6" y1="881.5" x2="283.6" y2="884" stroke="#000" stroke-width="2" /><text x="226" y="822.3" font-size="10" font-weight="normal" text-anchor="end" textLength="8.8" lengthAdjust="spacingAndGlyphs" >50</text><text x="226" y="852.8" font-size="10" font-weight="normal" text-anchor="end" textLength="4.8" lengthAdjust="spacingAndGlyphs" >0</text><text x="226" y="883.6" font-size="10" font-weight="normal" text-anchor="end" textLength="12" lengthAdjust="spacingAndGlyphs" >-50</text><text x="243.8" y="891.2" font-size="10.5" text-anchor="middle" textLength="15.5" lengthAdjust="spacingAndGlyphs" >-1.2</text><text x="283.7" y="891.2" font-size="10.5" text-anchor="middle" textLength="15.5" lengthAdjust="spacingAndGlyphs" >-1.0</text><text x="0" y="0" font-size="13.5" fill="#000" text-anchor="middle" textLength="37" lengthAdjust="spacingAndGlyphs" transform="translate(213,849.6) rotate(-90)">PDOS</text><text x="261.6" y="902.7" font-size="12.6" font-weight="normal" text-anchor="middle" textLength="64" lengthAdjust="spacingAndGlyphs" stroke="#000" stroke-width="0.45" style="white-space:pre">E  - E<tspan font-size="9.5" dy="3" font-weight="bold">F</tspan><tspan dy="-3"> (eV)</tspan></text><defs><linearGradient id="fnL" x1="0" x2="1" y1="0" y2="0"><stop offset="0" stop-color="#D5DFF0"/><stop offset="1" stop-color="#F4F6F6"/></linearGradient><linearGradient id="fnR" x1="1" x2="0" y1="0" y2="0"><stop offset="0" stop-color="#D5DFF0"/><stop offset="1" stop-color="#F4F6F6"/></linearGradient><radialGradient id="glow"><stop offset="0" stop-color="#F5F6F3"/><stop offset="0.6" stop-color="#FBFAF1"/><stop offset="1" stop-color="#FFFCF0" stop-opacity="0"/></radialGradient><linearGradient id="arB" x1="0" x2="1" y1="0" y2="1"><stop offset="0" stop-color="#5F84B4"/><stop offset="1" stop-color="#9CB4D6"/></linearGradient></defs><rect x="402" y="682.5" width="661.4" height="265" fill="#FFFCF0"/><circle cx="669.7" cy="903.7" r="32" fill="url(#glow)"/><circle cx="791" cy="905.6" r="32" fill="url(#glow)"/><text x="401.5" y="677.8" font-size="39" textLength="26" lengthAdjust="spacingAndGlyphs" >h</text><polygon points="650,780.5 686,793.2 686,845.6 650,857.5" fill="url(#fnL)"/><polygon points="776,793.2 812,780.5 812,857.5 776,845.6" fill="url(#fnR)"/><ellipse cx="532" cy="814.75" rx="122.5" ry="123.2" fill="#F0F6FA"/><ellipse cx="532" cy="814.75" rx="122.5" ry="123.2" fill="none" stroke="#1B2A52" stroke-width="2.1" stroke-dasharray="2 1.75"/><ellipse cx="931.5" cy="815.1" rx="123.4" ry="122.9" fill="#FCF3E6"/><ellipse cx="931.5" cy="815.1" rx="123.4" ry="122.9" fill="none" stroke="#1B2A52" stroke-width="2.1" stroke-dasharray="2 1.75"/><ellipse cx="730.4" cy="820" rx="48.9" ry="48.9" fill="#FFFCF0"/><ellipse cx="730.4" cy="820" rx="48.9" ry="48.9" fill="none" stroke="#1B2A52" stroke-width="2.1" stroke-dasharray="2 1.75"/><circle cx="732" cy="820.2" r="28.2" fill="none" stroke="#84A6E2" stroke-width="1.5" stroke-dasharray="1.5 2.1"/><circle cx="732" cy="820.2" r="30.6" fill="none" stroke="#84A6E2" stroke-width="1.5" stroke-dasharray="1.5 2.1"/><circle cx="732" cy="820.2" r="33.0" fill="none" stroke="#84A6E2" stroke-width="1.5" stroke-dasharray="1.5 2.1"/><path d="M508,705 Q532,690 555,703.5" fill="none" stroke="#F2A67C" stroke-width="1.7"/><polyline points="549.5,699.5 556,704.2 550.5,707.5" fill="none" stroke="#F2A67C" stroke-width="1.7"/><text x="539.7" y="719.6" font-size="12" fill="#F2A67C" text-anchor="middle" textLength="73" lengthAdjust="spacingAndGlyphs" >Spin flipping</text><text x="535" y="815.5" font-size="12" fill="#F2A67C" text-anchor="middle" textLength="73" lengthAdjust="spacingAndGlyphs" >Spin flipping</text><text x="444.2" y="741.6" font-size="19.5" fill="#FF8FCF" textLength="15" lengthAdjust="spacingAndGlyphs" >e<tspan font-size="12" dy="-8.5" font-weight="bold">-</tspan></text><rect x="456.3" y="743.1" width="71.5" height="9.0" rx="2.2" fill="#FDE59A"/><rect x="533.9" y="743.1" width="71.6" height="9.0" rx="2.2" fill="#FDE59A"/><rect x="456.3" y="792.2" width="71.5" height="8.8" rx="2.2" fill="#A9BFE5"/><rect x="533.9" y="792.2" width="71.6" height="8.8" rx="2.2" fill="#A9BFE5"/><path d="M465.9,741.6 L465.9,735.4 L462.9,735.4 L467.6,726.0 L472.3,735.4 L469.3,735.4 L469.3,741.6 Z" fill="#FF8FCF"/><path d="M478.4,741.6 L478.4,735.4 L475.4,735.4 L480.1,726.0 L484.8,735.4 L481.8,735.4 L481.8,741.6 Z" fill="#FF8FCF"/><path d="M578.0,741.6 L578.0,735.4 L575.0,735.4 L579.7,726.0 L584.4,735.4 L581.4,735.4 L581.4,741.6 Z" fill="#FF8FCF"/><path d="M590.9,741.6 L590.9,735.4 L587.9,735.4 L592.6,726.0 L597.3,735.4 L594.3,735.4 L594.3,741.6 Z" fill="#FF8FCF"/><path d="M501.7,726.0 L501.7,732.0 L498.7,732.0 L503.4,741.4 L508.1,732.0 L505.1,732.0 L505.1,726.0 Z" fill="#FF8FCF"/><path d="M514.2,726.0 L514.2,732.0 L511.2,732.0 L515.9,741.4 L520.6,732.0 L517.6,732.0 L517.6,726.0 Z" fill="#FF8FCF"/><path d="M545.1,726.0 L545.1,732.0 L542.1,732.0 L546.8,741.4 L551.5,732.0 L548.5,732.0 L548.5,726.0 Z" fill="#FF8FCF"/><path d="M557.5,726.0 L557.5,732.0 L554.5,732.0 L559.2,741.4 L563.9,732.0 L560.9,732.0 L560.9,726.0 Z" fill="#FF8FCF"/><text x="609" y="750" font-size="11.6" textLength="17.6" lengthAdjust="spacingAndGlyphs" >CB</text><text x="609.7" y="797.4" font-size="11.6" textLength="17" lengthAdjust="spacingAndGlyphs" >VB</text><text x="443.2" y="788.8" font-size="19.5" fill="#E8B33E" textLength="17" lengthAdjust="spacingAndGlyphs" >h<tspan font-size="12" dy="-8" font-weight="bold">+</tspan></text><path d="M465.9,790.0 L465.9,784.2 L462.9,784.2 L467.6,774.8 L472.3,784.2 L469.3,784.2 L469.3,790.0 Z" fill="#F6D68C"/><path d="M477.9,790.0 L477.9,784.2 L474.9,784.2 L479.6,774.8 L484.3,784.2 L481.3,784.2 L481.3,790.0 Z" fill="#F6D68C"/><path d="M545.1,790.0 L545.1,784.2 L542.1,784.2 L546.8,774.8 L551.5,784.2 L548.5,784.2 L548.5,790.0 Z" fill="#F6D68C"/><path d="M558.0,790.0 L558.0,784.2 L555.0,784.2 L559.7,774.8 L564.4,784.2 L561.4,784.2 L561.4,790.0 Z" fill="#F6D68C"/><path d="M501.4,774.3 L501.4,780.0 L498.4,780.0 L503.1,789.4 L507.8,780.0 L504.8,780.0 L504.8,774.3 Z" fill="#F6D68C"/><path d="M513.6,774.3 L513.6,780.0 L510.6,780.0 L515.3,789.4 L520.0,780.0 L517.0,780.0 L517.0,774.3 Z" fill="#F6D68C"/><path d="M578.0,774.3 L578.0,780.0 L575.0,780.0 L579.7,789.4 L584.4,780.0 L581.4,780.0 L581.4,774.3 Z" fill="#F6D68C"/><path d="M590.9,774.3 L590.9,780.0 L587.9,780.0 L592.6,789.4 L597.3,780.0 L594.3,780.0 L594.3,774.3 Z" fill="#F6D68C"/><line x1="492.6" y1="790" x2="492.6" y2="752.9" stroke="#B0C4E8" stroke-width="2.4" stroke-dasharray="5 3"/><polygon points="492.6,743.9 496.1,752.9 489.1,752.9" fill="#B0C4E8"/><line x1="552.7" y1="748.1" x2="580.9" y2="770.7" stroke="#B0C4E8" stroke-width="2.4" stroke-dasharray="4 2.5"/><polygon points="587.9,776.3 578.4,773.8 583.4,767.6" fill="#B0C4E8"/><line x1="585.5" y1="748.1" x2="559.5" y2="770.4" stroke="#B0C4E8" stroke-width="2.4" stroke-dasharray="4 2.5"/><polygon points="552.7,776.3 556.9,767.4 562.1,773.5" fill="#B0C4E8"/><text x="462.6" y="765.6" font-size="13" fill="#8DA9DE" textLength="58" lengthAdjust="spacingAndGlyphs" >excitation</text><text x="529.7" y="764.5" font-size="13" fill="#8DA9DE" textLength="85" lengthAdjust="spacingAndGlyphs" >recombination</text><text x="442" y="836.4" font-size="19.5" fill="#FF8FCF" textLength="15.5" lengthAdjust="spacingAndGlyphs" >e<tspan font-size="12" dy="-8.5" font-weight="bold">-</tspan></text><rect x="455.2" y="840.5" width="71.6" height="8.3" rx="2.2" fill="#FDE59A"/><rect x="532.7" y="840.5" width="71.6" height="8.3" rx="2.2" fill="#FDE59A"/><rect x="455.2" y="889.1" width="71.6" height="8.3" rx="2.2" fill="#A9BFE5"/><rect x="532.7" y="889.1" width="71.6" height="8.3" rx="2.2" fill="#A9BFE5"/><path d="M461.2,838.4 L461.2,833.0 L458.2,833.0 L462.9,823.6 L467.6,833.0 L464.6,833.0 L464.6,838.4 Z" fill="#FF8FCF"/><path d="M471.6,838.4 L471.6,833.0 L468.6,833.0 L473.3,823.6 L478.0,833.0 L475.0,833.0 L475.0,838.4 Z" fill="#FF8FCF"/><path d="M482.8,838.4 L482.8,833.0 L479.8,833.0 L484.5,823.6 L489.2,833.0 L486.2,833.0 L486.2,838.4 Z" fill="#FF8FCF"/><path d="M589.7,838.4 L589.7,833.0 L586.7,833.0 L591.4,823.6 L596.1,833.0 L593.1,833.0 L593.1,838.4 Z" fill="#FF8FCF"/><path d="M508.7,823.6 L508.7,828.8 L505.7,828.8 L510.4,838.2 L515.1,828.8 L512.1,828.8 L512.1,823.6 Z" fill="#FF8FCF"/><path d="M542.0,823.6 L542.0,828.8 L539.0,828.8 L543.7,838.2 L548.4,828.8 L545.4,828.8 L545.4,823.6 Z" fill="#FF8FCF"/><path d="M553.3,823.6 L553.3,828.8 L550.3,828.8 L555.0,838.2 L559.7,828.8 L556.7,828.8 L556.7,823.6 Z" fill="#FF8FCF"/><path d="M564.6,823.6 L564.6,828.8 L561.6,828.8 L566.3,838.2 L571.0,828.8 L568.0,828.8 L568.0,823.6 Z" fill="#FF8FCF"/><text x="608.6" y="847.6" font-size="11.6" textLength="17.6" lengthAdjust="spacingAndGlyphs" >CB</text><text x="606.7" y="895.7" font-size="11.6" textLength="17" lengthAdjust="spacingAndGlyphs" >VB</text><text x="438.6" y="884.2" font-size="19.5" fill="#E8B33E" textLength="17.5" lengthAdjust="spacingAndGlyphs" >h<tspan font-size="12" dy="-8" font-weight="bold">+</tspan></text><path d="M459.4,887.0 L459.4,881.6 L456.4,881.6 L461.1,872.2 L465.8,881.6 L462.8,881.6 L462.8,887.0 Z" fill="#F6D68C"/><path d="M470.6,887.0 L470.6,881.6 L467.6,881.6 L472.3,872.2 L477.0,881.6 L474.0,881.6 L474.0,887.0 Z" fill="#F6D68C"/><path d="M481.7,887.0 L481.7,881.6 L478.7,881.6 L483.4,872.2 L488.1,881.6 L485.1,881.6 L485.1,887.0 Z" fill="#F6D68C"/><path d="M542.7,887.0 L542.7,881.6 L539.7,881.6 L544.4,872.2 L549.1,881.6 L546.1,881.6 L546.1,887.0 Z" fill="#F6D68C"/><path d="M553.8,887.0 L553.8,881.6 L550.8,881.6 L555.5,872.2 L560.2,881.6 L557.2,881.6 L557.2,887.0 Z" fill="#F6D68C"/><path d="M565.0,887.0 L565.0,881.6 L562.0,881.6 L566.7,872.2 L571.4,881.6 L568.4,881.6 L568.4,887.0 Z" fill="#F6D68C"/><path d="M508.2,872.2 L508.2,877.2 L505.2,877.2 L509.9,886.6 L514.6,877.2 L511.6,877.2 L511.6,872.2 Z" fill="#F6D68C"/><path d="M590.9,872.2 L590.9,877.2 L587.9,877.2 L592.6,886.6 L597.3,877.2 L594.3,877.2 L594.3,872.2 Z" fill="#F6D68C"/><line x1="492.8" y1="887.5" x2="492.8" y2="851.9" stroke="#B0C4E8" stroke-width="2.4" stroke-dasharray="5 3"/><polygon points="492.8,842.9 496.3,851.9 489.3,851.9" fill="#B0C4E8"/><line x1="550.3" y1="843" x2="550.3" y2="863.2" stroke="#B0C4E8" stroke-width="2.4" stroke-dasharray="5 3"/><polygon points="550.3,872.2 546.8,863.2 553.8,863.2" fill="#B0C4E8"/><line x1="569.1" y1="842.9" x2="585.7" y2="863" stroke="#B0C4E8" stroke-width="2.4" stroke-dasharray="4 2.5"/><polygon points="591.4,869.9 582.6,865.5 588.8,860.4" fill="#B0C4E8"/><line x1="591.4" y1="842.9" x2="574.8" y2="863" stroke="#B0C4E8" stroke-width="2.4" stroke-dasharray="4 2.5"/><polygon points="569.1,869.9 571.7,860.4 577.9,865.5" fill="#B0C4E8"/><line x1="545" y1="848.3" x2="555.6" y2="858.5" stroke="#E8782E" stroke-width="2.6" /><line x1="555.6" y1="848.3" x2="545" y2="858.5" stroke="#E8782E" stroke-width="2.6" /><path d="M640,791.4 Q652.5,814 643.8,839.5" fill="none" stroke="#8CAAE0" stroke-width="2.8"/><polyline points="638.8,832.6 643.6,840 649.9,833.6" fill="none" stroke="#8CAAE0" stroke-width="2.8" stroke-linejoin="miter"/><path d="M820.6,790.5 Q811,814 825.5,838.6" fill="none" stroke="#8CAAE0" stroke-width="2.8"/><polyline points="816.3,831.4 825.8,839.4 827.6,827.8" fill="none" stroke="#8CAAE0" stroke-width="2.8" stroke-linejoin="miter"/><text x="733" y="762.9" font-size="11.7" text-anchor="middle" textLength="152" lengthAdjust="spacingAndGlyphs" >Asymmetric Coordination</text><line x1="700" y1="821.4" x2="732" y2="821.6" stroke="#7FA2DE" stroke-width="1.9" /><line x1="732" y1="821.6" x2="760" y2="807.6" stroke="#7FA2DE" stroke-width="1.9" /><circle cx="700.0" cy="821.3" r="5.6" fill="url(#gPk)"/><circle cx="732.1" cy="821.8" r="7.0" fill="url(#gBl)"/><circle cx="759.9" cy="807.6" r="5.8" fill="url(#gGd)"/><text x="733.4" y="811.6" font-size="11.2" text-anchor="middle" textLength="11.8" lengthAdjust="spacingAndGlyphs" >Pt</text><text x="689.3" y="823.6" font-size="11.2" text-anchor="middle" textLength="7.8" lengthAdjust="spacingAndGlyphs" >B</text><text x="768" y="799.6" font-size="11.2" font-weight="normal" text-anchor="middle" textLength="8" lengthAdjust="spacingAndGlyphs" >O</text><polygon points="886,756.7 966,756.7 986,784.7 873,784.7" fill="#E6E6E6"/><circle cx="887.5" cy="759.7" r="2.6" fill="url(#gO)"/><circle cx="893.0" cy="759.7" r="2.7" fill="url(#gTi)"/><circle cx="898.6" cy="759.7" r="2.6" fill="url(#gO)"/><circle cx="904.1" cy="759.7" r="2.7" fill="url(#gTi)"/><circle cx="909.6" cy="759.7" r="2.6" fill="url(#gO)"/><circle cx="915.2" cy="759.7" r="2.7" fill="url(#gTi)"/><circle cx="920.7" cy="759.7" r="2.6" fill="url(#gO)"/><circle cx="926.2" cy="759.7" r="2.7" fill="url(#gTi)"/><circle cx="931.8" cy="759.7" r="2.6" fill="url(#gO)"/><circle cx="937.3" cy="759.7" r="2.7" fill="url(#gTi)"/><circle cx="942.9" cy="759.7" r="2.6" fill="url(#gO)"/><circle cx="948.4" cy="759.7" r="2.7" fill="url(#gTi)"/><circle cx="953.9" cy="759.7" r="2.6" fill="url(#gO)"/><circle cx="959.5" cy="759.7" r="2.7" fill="url(#gTi)"/><circle cx="965.0" cy="759.7" r="2.6" fill="url(#gO)"/><circle cx="885.8" cy="763.4" r="2.7600000000000002" fill="url(#gO)"/><circle cx="891.7" cy="763.4" r="2.8600000000000003" fill="url(#gTi)"/><circle cx="897.5" cy="763.4" r="2.7600000000000002" fill="url(#gO)"/><circle cx="903.4" cy="763.4" r="2.8600000000000003" fill="url(#gTi)"/><circle cx="909.3" cy="763.4" r="2.7600000000000002" fill="url(#gO)"/><circle cx="915.2" cy="763.4" r="2.8600000000000003" fill="url(#gTi)"/><circle cx="921.0" cy="763.4" r="2.7600000000000002" fill="url(#gO)"/><circle cx="926.9" cy="763.4" r="2.8600000000000003" fill="url(#gTi)"/><circle cx="932.8" cy="763.4" r="2.7600000000000002" fill="url(#gO)"/><circle cx="938.6" cy="763.4" r="2.8600000000000003" fill="url(#gTi)"/><circle cx="944.5" cy="763.4" r="2.7600000000000002" fill="url(#gO)"/><circle cx="950.4" cy="763.4" r="2.8600000000000003" fill="url(#gTi)"/><circle cx="956.3" cy="763.4" r="2.7600000000000002" fill="url(#gO)"/><circle cx="962.1" cy="763.4" r="2.8600000000000003" fill="url(#gTi)"/><circle cx="968.0" cy="763.4" r="2.7600000000000002" fill="url(#gO)"/><circle cx="884.1" cy="767.1" r="2.92" fill="url(#gO)"/><circle cx="890.3" cy="767.1" r="3.02" fill="url(#gTi)"/><circle cx="896.5" cy="767.1" r="2.92" fill="url(#gO)"/><circle cx="902.7" cy="767.1" r="3.02" fill="url(#gTi)"/><circle cx="908.9" cy="767.1" r="2.92" fill="url(#gO)"/><circle cx="915.1" cy="767.1" r="3.02" fill="url(#gTi)"/><circle cx="921.3" cy="767.1" r="2.92" fill="url(#gO)"/><circle cx="927.5" cy="767.1" r="3.02" fill="url(#gTi)"/><circle cx="933.8" cy="767.1" r="2.92" fill="url(#gO)"/><circle cx="940.0" cy="767.1" r="3.02" fill="url(#gTi)"/><circle cx="946.2" cy="767.1" r="2.92" fill="url(#gO)"/><circle cx="952.4" cy="767.1" r="3.02" fill="url(#gTi)"/><circle cx="958.6" cy="767.1" r="2.92" fill="url(#gO)"/><circle cx="964.8" cy="767.1" r="3.02" fill="url(#gTi)"/><circle cx="971.0" cy="767.1" r="2.92" fill="url(#gO)"/><circle cx="882.4" cy="770.8" r="3.08" fill="url(#gO)"/><circle cx="888.9" cy="770.8" r="3.18" fill="url(#gTi)"/><circle cx="895.5" cy="770.8" r="3.08" fill="url(#gO)"/><circle cx="902.0" cy="770.8" r="3.18" fill="url(#gTi)"/><circle cx="908.6" cy="770.8" r="3.08" fill="url(#gO)"/><circle cx="915.1" cy="770.8" r="3.18" fill="url(#gTi)"/><circle cx="921.7" cy="770.8" r="3.08" fill="url(#gO)"/><circle cx="928.2" cy="770.8" r="3.18" fill="url(#gTi)"/><circle cx="934.7" cy="770.8" r="3.08" fill="url(#gO)"/><circle cx="941.3" cy="770.8" r="3.18" fill="url(#gTi)"/><circle cx="947.8" cy="770.8" r="3.08" fill="url(#gO)"/><circle cx="954.4" cy="770.8" r="3.18" fill="url(#gTi)"/><circle cx="960.9" cy="770.8" r="3.08" fill="url(#gO)"/><circle cx="967.5" cy="770.8" r="3.18" fill="url(#gTi)"/><circle cx="974.0" cy="770.8" r="3.08" fill="url(#gO)"/><circle cx="880.7" cy="774.5" r="3.24" fill="url(#gO)"/><circle cx="887.6" cy="774.5" r="3.3400000000000003" fill="url(#gTi)"/><circle cx="894.5" cy="774.5" r="3.24" fill="url(#gO)"/><circle cx="901.3" cy="774.5" r="3.3400000000000003" fill="url(#gTi)"/><circle cx="908.2" cy="774.5" r="3.24" fill="url(#gO)"/><circle cx="915.1" cy="774.5" r="3.3400000000000003" fill="url(#gTi)"/><circle cx="922.0" cy="774.5" r="3.24" fill="url(#gO)"/><circle cx="928.9" cy="774.5" r="3.3400000000000003" fill="url(#gTi)"/><circle cx="935.7" cy="774.5" r="3.24" fill="url(#gO)"/><circle cx="942.6" cy="774.5" r="3.3400000000000003" fill="url(#gTi)"/><circle cx="949.5" cy="774.5" r="3.24" fill="url(#gO)"/><circle cx="956.4" cy="774.5" r="3.3400000000000003" fill="url(#gTi)"/><circle cx="963.2" cy="774.5" r="3.24" fill="url(#gO)"/><circle cx="970.1" cy="774.5" r="3.3400000000000003" fill="url(#gTi)"/><circle cx="977.0" cy="774.5" r="3.24" fill="url(#gO)"/><circle cx="879.0" cy="778.2" r="3.4000000000000004" fill="url(#gO)"/><circle cx="886.2" cy="778.2" r="3.5" fill="url(#gTi)"/><circle cx="893.4" cy="778.2" r="3.4000000000000004" fill="url(#gO)"/><circle cx="900.6" cy="778.2" r="3.5" fill="url(#gTi)"/><circle cx="907.9" cy="778.2" r="3.4000000000000004" fill="url(#gO)"/><circle cx="915.1" cy="778.2" r="3.5" fill="url(#gTi)"/><circle cx="922.3" cy="778.2" r="3.4000000000000004" fill="url(#gO)"/><circle cx="929.5" cy="778.2" r="3.5" fill="url(#gTi)"/><circle cx="936.7" cy="778.2" r="3.4000000000000004" fill="url(#gO)"/><circle cx="943.9" cy="778.2" r="3.5" fill="url(#gTi)"/><circle cx="951.1" cy="778.2" r="3.4000000000000004" fill="url(#gO)"/><circle cx="958.4" cy="778.2" r="3.5" fill="url(#gTi)"/><circle cx="965.6" cy="778.2" r="3.4000000000000004" fill="url(#gO)"/><circle cx="972.8" cy="778.2" r="3.5" fill="url(#gTi)"/><circle cx="980.0" cy="778.2" r="3.4000000000000004" fill="url(#gO)"/><circle cx="877.3" cy="781.9" r="3.56" fill="url(#gO)"/><circle cx="884.8" cy="781.9" r="3.66" fill="url(#gTi)"/><circle cx="892.4" cy="781.9" r="3.56" fill="url(#gO)"/><circle cx="899.9" cy="781.9" r="3.66" fill="url(#gTi)"/><circle cx="907.5" cy="781.9" r="3.56" fill="url(#gO)"/><circle cx="915.0" cy="781.9" r="3.66" fill="url(#gTi)"/><circle cx="922.6" cy="781.9" r="3.56" fill="url(#gO)"/><circle cx="930.1" cy="781.9" r="3.66" fill="url(#gTi)"/><circle cx="937.7" cy="781.9" r="3.56" fill="url(#gO)"/><circle cx="945.2" cy="781.9" r="3.66" fill="url(#gTi)"/><circle cx="952.8" cy="781.9" r="3.56" fill="url(#gO)"/><circle cx="960.4" cy="781.9" r="3.66" fill="url(#gTi)"/><circle cx="967.9" cy="781.9" r="3.56" fill="url(#gO)"/><circle cx="975.5" cy="781.9" r="3.66" fill="url(#gTi)"/><circle cx="983.0" cy="781.9" r="3.56" fill="url(#gO)"/><circle cx="887.0" cy="795.3" r="3.9" fill="url(#gO)"/><circle cx="900.8" cy="795.3" r="3.9" fill="url(#gO)"/><circle cx="914.7" cy="795.3" r="3.9" fill="url(#gO)"/><circle cx="928.5" cy="795.3" r="3.9" fill="url(#gO)"/><circle cx="942.3" cy="795.3" r="3.9" fill="url(#gO)"/><circle cx="956.1" cy="795.3" r="3.9" fill="url(#gO)"/><circle cx="970.0" cy="795.3" r="3.9" fill="url(#gO)"/><circle cx="880.2" cy="788.8" r="6.4" fill="url(#gTi)"/><circle cx="894.0" cy="788.8" r="6.4" fill="url(#gTi)"/><circle cx="907.9" cy="788.8" r="6.4" fill="url(#gTi)"/><circle cx="921.7" cy="788.8" r="6.4" fill="url(#gTi)"/><circle cx="935.5" cy="788.8" r="6.4" fill="url(#gTi)"/><circle cx="949.4" cy="788.8" r="6.4" fill="url(#gTi)"/><circle cx="963.2" cy="788.8" r="6.4" fill="url(#gTi)"/><circle cx="977.0" cy="788.8" r="6.4" fill="url(#gTi)"/><circle cx="880.2" cy="801.5" r="6.4" fill="url(#gTi)"/><circle cx="894.0" cy="801.5" r="6.4" fill="url(#gTi)"/><circle cx="907.9" cy="801.5" r="6.4" fill="url(#gTi)"/><circle cx="921.7" cy="801.5" r="6.4" fill="url(#gTi)"/><circle cx="935.5" cy="801.5" r="6.4" fill="url(#gTi)"/><circle cx="949.4" cy="801.5" r="6.4" fill="url(#gTi)"/><circle cx="963.2" cy="801.5" r="6.4" fill="url(#gTi)"/><circle cx="977.0" cy="801.5" r="6.4" fill="url(#gTi)"/><circle cx="896.7" cy="771.1" r="5.6" fill="url(#gPt)"/><circle cx="949.0" cy="771.5" r="6" fill="url(#gPt)"/><circle cx="960.0" cy="758.5" r="5.8" fill="url(#gPt)"/><circle cx="970.0" cy="769.5" r="6.2" fill="url(#gPt)"/><circle cx="957.0" cy="774.5" r="6" fill="url(#gPt)"/><circle cx="961.0" cy="777.5" r="6.5" fill="url(#gPt)"/><circle cx="969.0" cy="776.5" r="6" fill="url(#gPt)"/><circle cx="952.0" cy="766.5" r="5.2" fill="url(#gPt)"/><circle cx="964.0" cy="765.5" r="5.6" fill="url(#gPt)"/><circle cx="958.0" cy="762.5" r="5" fill="url(#gPt)"/><polygon points="886,840.0 966,840.0 986,868.0 873,868.0" fill="#E6E6E6"/><circle cx="887.5" cy="843.0" r="2.6" fill="url(#gO)"/><circle cx="893.0" cy="843.0" r="2.7" fill="url(#gTi)"/><circle cx="898.6" cy="843.0" r="2.6" fill="url(#gO)"/><circle cx="904.1" cy="843.0" r="2.7" fill="url(#gTi)"/><circle cx="909.6" cy="843.0" r="2.6" fill="url(#gMg)"/><circle cx="915.2" cy="843.0" r="2.7" fill="url(#gTi)"/><circle cx="920.7" cy="843.0" r="2.6" fill="url(#gO)"/><circle cx="926.2" cy="843.0" r="2.7" fill="url(#gTi)"/><circle cx="931.8" cy="843.0" r="2.6" fill="url(#gMg)"/><circle cx="937.3" cy="843.0" r="2.7" fill="url(#gTi)"/><circle cx="942.9" cy="843.0" r="2.6" fill="url(#gO)"/><circle cx="948.4" cy="843.0" r="2.7" fill="url(#gTi)"/><circle cx="953.9" cy="843.0" r="2.6" fill="url(#gO)"/><circle cx="959.5" cy="843.0" r="2.7" fill="url(#gTi)"/><circle cx="965.0" cy="843.0" r="2.6" fill="url(#gO)"/><circle cx="885.8" cy="846.7" r="2.7600000000000002" fill="url(#gO)"/><circle cx="891.7" cy="846.7" r="2.8600000000000003" fill="url(#gTi)"/><circle cx="897.5" cy="846.7" r="2.7600000000000002" fill="url(#gO)"/><circle cx="903.4" cy="846.7" r="2.8600000000000003" fill="url(#gTi)"/><circle cx="909.3" cy="846.7" r="2.7600000000000002" fill="url(#gO)"/><circle cx="915.2" cy="846.7" r="2.8600000000000003" fill="url(#gTi)"/><circle cx="921.0" cy="846.7" r="2.7600000000000002" fill="url(#gO)"/><circle cx="926.9" cy="846.7" r="2.8600000000000003" fill="url(#gTi)"/><circle cx="932.8" cy="846.7" r="2.7600000000000002" fill="url(#gO)"/><circle cx="938.6" cy="846.7" r="2.8600000000000003" fill="url(#gTi)"/><circle cx="944.5" cy="846.7" r="2.7600000000000002" fill="url(#gO)"/><circle cx="950.4" cy="846.7" r="2.8600000000000003" fill="url(#gTi)"/><circle cx="956.3" cy="846.7" r="2.7600000000000002" fill="url(#gMg)"/><circle cx="962.1" cy="846.7" r="2.8600000000000003" fill="url(#gTi)"/><circle cx="968.0" cy="846.7" r="2.7600000000000002" fill="url(#gO)"/><circle cx="884.1" cy="850.4" r="2.92" fill="url(#gMg)"/><circle cx="890.3" cy="850.4" r="3.02" fill="url(#gTi)"/><circle cx="896.5" cy="850.4" r="2.92" fill="url(#gO)"/><circle cx="902.7" cy="850.4" r="3.02" fill="url(#gTi)"/><circle cx="908.9" cy="850.4" r="2.92" fill="url(#gO)"/><circle cx="915.1" cy="850.4" r="3.02" fill="url(#gTi)"/><circle cx="921.3" cy="850.4" r="2.92" fill="url(#gMg)"/><circle cx="927.5" cy="850.4" r="3.02" fill="url(#gTi)"/><circle cx="933.8" cy="850.4" r="2.92" fill="url(#gO)"/><circle cx="940.0" cy="850.4" r="3.02" fill="url(#gTi)"/><circle cx="946.2" cy="850.4" r="2.92" fill="url(#gO)"/><circle cx="952.4" cy="850.4" r="3.02" fill="url(#gTi)"/><circle cx="958.6" cy="850.4" r="2.92" fill="url(#gO)"/><circle cx="964.8" cy="850.4" r="3.02" fill="url(#gTi)"/><circle cx="971.0" cy="850.4" r="2.92" fill="url(#gO)"/><circle cx="882.4" cy="854.1" r="3.08" fill="url(#gO)"/><circle cx="888.9" cy="854.1" r="3.18" fill="url(#gTi)"/><circle cx="895.5" cy="854.1" r="3.08" fill="url(#gMg)"/><circle cx="902.0" cy="854.1" r="3.18" fill="url(#gTi)"/><circle cx="908.6" cy="854.1" r="3.08" fill="url(#gO)"/><circle cx="915.1" cy="854.1" r="3.18" fill="url(#gTi)"/><circle cx="921.7" cy="854.1" r="3.08" fill="url(#gO)"/><circle cx="928.2" cy="854.1" r="3.18" fill="url(#gTi)"/><circle cx="934.7" cy="854.1" r="3.08" fill="url(#gO)"/><circle cx="941.3" cy="854.1" r="3.18" fill="url(#gTi)"/><circle cx="947.8" cy="854.1" r="3.08" fill="url(#gO)"/><circle cx="954.4" cy="854.1" r="3.18" fill="url(#gTi)"/><circle cx="960.9" cy="854.1" r="3.08" fill="url(#gO)"/><circle cx="967.5" cy="854.1" r="3.18" fill="url(#gTi)"/><circle cx="974.0" cy="854.1" r="3.08" fill="url(#gO)"/><circle cx="880.7" cy="857.8" r="3.24" fill="url(#gMg)"/><circle cx="887.6" cy="857.8" r="3.3400000000000003" fill="url(#gTi)"/><circle cx="894.5" cy="857.8" r="3.24" fill="url(#gO)"/><circle cx="901.3" cy="857.8" r="3.3400000000000003" fill="url(#gTi)"/><circle cx="908.2" cy="857.8" r="3.24" fill="url(#gO)"/><circle cx="915.1" cy="857.8" r="3.3400000000000003" fill="url(#gTi)"/><circle cx="922.0" cy="857.8" r="3.24" fill="url(#gO)"/><circle cx="928.9" cy="857.8" r="3.3400000000000003" fill="url(#gTi)"/><circle cx="935.7" cy="857.8" r="3.24" fill="url(#gO)"/><circle cx="942.6" cy="857.8" r="3.3400000000000003" fill="url(#gTi)"/><circle cx="949.5" cy="857.8" r="3.24" fill="url(#gMg)"/><circle cx="956.4" cy="857.8" r="3.3400000000000003" fill="url(#gTi)"/><circle cx="963.2" cy="857.8" r="3.24" fill="url(#gO)"/><circle cx="970.1" cy="857.8" r="3.3400000000000003" fill="url(#gTi)"/><circle cx="977.0" cy="857.8" r="3.24" fill="url(#gO)"/><circle cx="879.0" cy="861.5" r="3.4000000000000004" fill="url(#gO)"/><circle cx="886.2" cy="861.5" r="3.5" fill="url(#gTi)"/><circle cx="893.4" cy="861.5" r="3.4000000000000004" fill="url(#gO)"/><circle cx="900.6" cy="861.5" r="3.5" fill="url(#gTi)"/><circle cx="907.9" cy="861.5" r="3.4000000000000004" fill="url(#gMg)"/><circle cx="915.1" cy="861.5" r="3.5" fill="url(#gTi)"/><circle cx="922.3" cy="861.5" r="3.4000000000000004" fill="url(#gO)"/><circle cx="929.5" cy="861.5" r="3.5" fill="url(#gTi)"/><circle cx="936.7" cy="861.5" r="3.4000000000000004" fill="url(#gO)"/><circle cx="943.9" cy="861.5" r="3.5" fill="url(#gTi)"/><circle cx="951.1" cy="861.5" r="3.4000000000000004" fill="url(#gO)"/><circle cx="958.4" cy="861.5" r="3.5" fill="url(#gTi)"/><circle cx="965.6" cy="861.5" r="3.4000000000000004" fill="url(#gO)"/><circle cx="972.8" cy="861.5" r="3.5" fill="url(#gTi)"/><circle cx="980.0" cy="861.5" r="3.4000000000000004" fill="url(#gO)"/><circle cx="877.3" cy="865.2" r="3.56" fill="url(#gO)"/><circle cx="884.8" cy="865.2" r="3.66" fill="url(#gTi)"/><circle cx="892.4" cy="865.2" r="3.56" fill="url(#gO)"/><circle cx="899.9" cy="865.2" r="3.66" fill="url(#gTi)"/><circle cx="907.5" cy="865.2" r="3.56" fill="url(#gO)"/><circle cx="915.0" cy="865.2" r="3.66" fill="url(#gTi)"/><circle cx="922.6" cy="865.2" r="3.56" fill="url(#gO)"/><circle cx="930.1" cy="865.2" r="3.66" fill="url(#gTi)"/><circle cx="937.7" cy="865.2" r="3.56" fill="url(#gO)"/><circle cx="945.2" cy="865.2" r="3.66" fill="url(#gTi)"/><circle cx="952.8" cy="865.2" r="3.56" fill="url(#gO)"/><circle cx="960.4" cy="865.2" r="3.66" fill="url(#gTi)"/><circle cx="967.9" cy="865.2" r="3.56" fill="url(#gO)"/><circle cx="975.5" cy="865.2" r="3.66" fill="url(#gTi)"/><circle cx="983.0" cy="865.2" r="3.56" fill="url(#gO)"/><circle cx="887.0" cy="878.6" r="3.9" fill="url(#gO)"/><circle cx="900.8" cy="878.6" r="3.9" fill="url(#gMg)"/><circle cx="914.7" cy="878.6" r="3.9" fill="url(#gO)"/><circle cx="928.5" cy="878.6" r="3.9" fill="url(#gMg)"/><circle cx="942.3" cy="878.6" r="3.9" fill="url(#gO)"/><circle cx="956.1" cy="878.6" r="3.9" fill="url(#gO)"/><circle cx="970.0" cy="878.6" r="3.9" fill="url(#gMg)"/><circle cx="880.2" cy="872.1" r="6.4" fill="url(#gTi)"/><circle cx="894.0" cy="872.1" r="6.4" fill="url(#gTi)"/><circle cx="907.9" cy="872.1" r="6.4" fill="url(#gTi)"/><circle cx="921.7" cy="872.1" r="6.4" fill="url(#gTi)"/><circle cx="935.5" cy="872.1" r="6.4" fill="url(#gTi)"/><circle cx="949.4" cy="872.1" r="6.4" fill="url(#gTi)"/><circle cx="963.2" cy="872.1" r="6.4" fill="url(#gTi)"/><circle cx="977.0" cy="872.1" r="6.4" fill="url(#gTi)"/><circle cx="880.2" cy="884.8" r="6.4" fill="url(#gTi)"/><circle cx="894.0" cy="884.8" r="6.4" fill="url(#gTi)"/><circle cx="907.9" cy="884.8" r="6.4" fill="url(#gTi)"/><circle cx="921.7" cy="884.8" r="6.4" fill="url(#gTi)"/><circle cx="935.5" cy="884.8" r="6.4" fill="url(#gTi)"/><circle cx="949.4" cy="884.8" r="6.4" fill="url(#gTi)"/><circle cx="963.2" cy="884.8" r="6.4" fill="url(#gTi)"/><circle cx="977.0" cy="884.8" r="6.4" fill="url(#gTi)"/><circle cx="900.8" cy="878.6" r="3.6" fill="url(#gMg)"/><circle cx="928.5" cy="878.6" r="3.6" fill="url(#gMg)"/><circle cx="970.0" cy="878.6" r="3.6" fill="url(#gMg)"/><circle cx="889.0" cy="855.1" r="3.6" fill="url(#gMg)"/><circle cx="904.3" cy="857.0" r="3.6" fill="url(#gMg)"/><circle cx="896.5" cy="853.5" r="5.6" fill="url(#gPt)"/><circle cx="949.0" cy="854.5" r="6" fill="url(#gPt)"/><circle cx="960.0" cy="841.5" r="5.8" fill="url(#gPt)"/><circle cx="970.0" cy="852.5" r="6.2" fill="url(#gPt)"/><circle cx="957.0" cy="857.5" r="6" fill="url(#gPt)"/><circle cx="961.0" cy="860.5" r="6.5" fill="url(#gPt)"/><circle cx="969.0" cy="859.5" r="6" fill="url(#gPt)"/><circle cx="952.0" cy="849.5" r="5.2" fill="url(#gPt)"/><circle cx="964.0" cy="848.5" r="5.6" fill="url(#gPt)"/><circle cx="958.0" cy="845.5" r="5" fill="url(#gPt)"/><circle cx="870.8" cy="745.2" r="3.2" fill="url(#gH)"/><circle cx="878.3" cy="741.6" r="3.2" fill="url(#gH)"/><circle cx="865.9" cy="827.6" r="3.2" fill="url(#gH)"/><circle cx="872.0" cy="824.6" r="3.2" fill="url(#gH)"/><circle cx="880.5" cy="818.5" r="3.2" fill="url(#gH)"/><circle cx="886.6" cy="817.8" r="3.2" fill="url(#gH)"/><circle cx="972.6" cy="735.3" r="3.2" fill="url(#gH)"/><circle cx="986.5" cy="738.9" r="3.2" fill="url(#gH)"/><circle cx="963.4" cy="825.9" r="3.2" fill="url(#gH)"/><circle cx="976.8" cy="829.0" r="3.2" fill="url(#gH)"/><circle cx="984.1" cy="815.4" r="3.2" fill="url(#gH)"/><circle cx="997.1" cy="822.7" r="3.2" fill="url(#gH)"/><circle cx="979.5" cy="739.5" r="4.8" fill="url(#gO)"/><circle cx="969.5" cy="830.7" r="4.8" fill="url(#gO)"/><circle cx="990.2" cy="822.2" r="4.8" fill="url(#gO)"/><path d="M896,770 Q884,764 880.5,752" fill="none" stroke="url(#arB)" stroke-width="2.6" stroke-linecap="round"/><polygon points="875.5,753.5 880,745.5 885.5,752.5" fill="url(#arB)"/><path d="M977.5,746 Q970,760 954,763" fill="none" stroke="#6F8FBA" stroke-width="2.4" stroke-linecap="round"/><polygon points="956,758 949.5,763.5 956.5,767.5" fill="#6F8FBA"/><path d="M896,852 Q884,846 880.5,834" fill="none" stroke="url(#arB)" stroke-width="2.6" stroke-linecap="round"/><polygon points="875.5,835.5 880,827.5 885.5,834.5" fill="url(#arB)"/><path d="M968.5,837 Q962,846 954,848" fill="none" stroke="#6F8FBA" stroke-width="2.4" stroke-linecap="round"/><polygon points="956,843 949.5,848.5 956.5,852.5" fill="#6F8FBA"/><text x="868.6" y="727.6" font-size="12" textLength="13" lengthAdjust="spacingAndGlyphs" >H<tspan font-size="8.5" dy="2.5" font-weight="bold">2</tspan></text><text x="972.6" y="723.4" font-size="12" textLength="20.5" lengthAdjust="spacingAndGlyphs" >H<tspan font-size="8.5" dy="2.5" font-weight="bold">2</tspan><tspan dy="-2.5">O</tspan></text><text x="926.4" y="749" font-size="10" text-anchor="middle" textLength="39.4" lengthAdjust="spacingAndGlyphs" >Synergy</text><text x="828.6" y="765.9" font-size="11.3" fill="#8B9CC0" textLength="52.5" lengthAdjust="spacingAndGlyphs" >desorption</text><text x="975" y="761" font-size="11.3" fill="#8B9CC0" textLength="59.8" lengthAdjust="spacingAndGlyphs" >dissociation</text><text x="928" y="822.2" font-size="11.3" fill="#EE5FE0" text-anchor="middle" textLength="48.8" lengthAdjust="spacingAndGlyphs" >Enhanced</text><text x="928.4" y="834.9" font-size="11.3" fill="#EE5FE0" text-anchor="middle" textLength="40" lengthAdjust="spacingAndGlyphs" >Synergy</text><text x="855.1" y="841.2" font-size="11.3" fill="#8B9CC0" text-anchor="middle" textLength="22.4" lengthAdjust="spacingAndGlyphs" >easy</text><text x="855.5" y="853.9" font-size="11.3" fill="#8B9CC0" text-anchor="middle" textLength="52.4" lengthAdjust="spacingAndGlyphs" >desorption</text><text x="1007.6" y="841.2" font-size="11.3" fill="#8B9CC0" text-anchor="middle" textLength="31.4" lengthAdjust="spacingAndGlyphs" >strong</text><text x="1007.5" y="853.9" font-size="11.3" fill="#8B9CC0" text-anchor="middle" textLength="59.2" lengthAdjust="spacingAndGlyphs" >dissociation</text><text x="884.7" y="903.9" font-size="9.6" text-anchor="middle" >Ti</text><circle cx="885.4" cy="914.9" r="5" fill="url(#gTi)"/><text x="907.8" y="903.9" font-size="9.6" text-anchor="middle" >O</text><circle cx="907.8" cy="914.9" r="4" fill="url(#gO)"/><text x="928.3" y="903.9" font-size="9.6" text-anchor="middle" >B</text><circle cx="927.6" cy="914.9" r="4" fill="url(#gMg)"/><text x="950.5" y="903.9" font-size="9.6" text-anchor="middle" >Pt</text><circle cx="951.7" cy="914.9" r="5.6" fill="url(#gPt)"/><text x="972.6" y="903.9" font-size="9.6" text-anchor="middle" >H</text><circle cx="973.2" cy="914.9" r="3.6" fill="url(#gH)"/></svg></body></html>
